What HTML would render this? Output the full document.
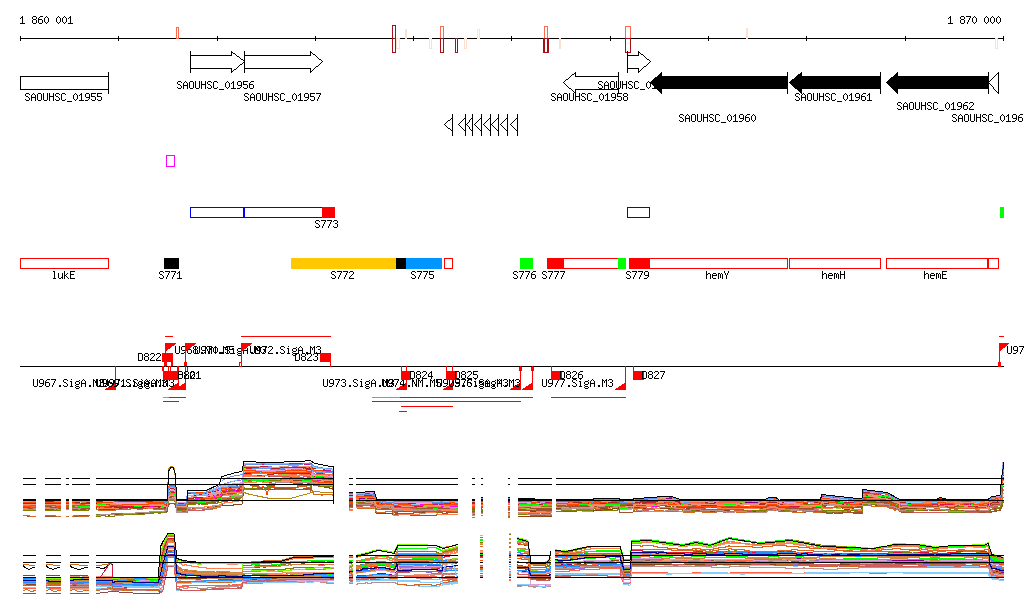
<!DOCTYPE html>
<html><head><meta charset="utf-8"><title>Genome browser</title>
<style>
html,body{margin:0;padding:0;background:#fff;}
svg{display:block;}
text{font-family:"Liberation Mono";font-size:12px;}
</style></head><body>
<svg width="1024" height="611" viewBox="0 0 1024 611" shape-rendering="crispEdges">
<rect width="1024" height="611" fill="#fff"/>
<g>
<defs><path id="g53" d="M1 0h3v1h-3zM0 1h1v1h-1zM4 1h1v1h-1zM0 2h1v1h-1zM1 3h2v1h-2zM3 4h1v1h-1zM4 5h1v1h-1zM0 6h1v1h-1zM4 6h1v1h-1zM1 7h3v1h-3z"/><path id="g41" d="M2 0h1v1h-1zM1 1h1v1h-1zM3 1h1v1h-1zM0 2h1v1h-1zM4 2h1v1h-1zM0 3h1v1h-1zM4 3h1v1h-1zM0 4h5v1h-5zM0 5h1v1h-1zM4 5h1v1h-1zM0 6h1v1h-1zM4 6h1v1h-1zM0 7h1v1h-1zM4 7h1v1h-1z"/><path id="g4f" d="M1 0h3v1h-3zM0 1h1v1h-1zM4 1h1v1h-1zM0 2h1v1h-1zM4 2h1v1h-1zM0 3h1v1h-1zM4 3h1v1h-1zM0 4h1v1h-1zM4 4h1v1h-1zM0 5h1v1h-1zM4 5h1v1h-1zM0 6h1v1h-1zM4 6h1v1h-1zM1 7h3v1h-3z"/><path id="g55" d="M0 0h1v1h-1zM4 0h1v1h-1zM0 1h1v1h-1zM4 1h1v1h-1zM0 2h1v1h-1zM4 2h1v1h-1zM0 3h1v1h-1zM4 3h1v1h-1zM0 4h1v1h-1zM4 4h1v1h-1zM0 5h1v1h-1zM4 5h1v1h-1zM0 6h1v1h-1zM4 6h1v1h-1zM1 7h3v1h-3z"/><path id="g48" d="M0 0h1v1h-1zM4 0h1v1h-1zM0 1h1v1h-1zM4 1h1v1h-1zM0 2h1v1h-1zM4 2h1v1h-1zM0 3h5v1h-5zM0 4h1v1h-1zM4 4h1v1h-1zM0 5h1v1h-1zM4 5h1v1h-1zM0 6h1v1h-1zM4 6h1v1h-1zM0 7h1v1h-1zM4 7h1v1h-1z"/><path id="g43" d="M1 0h3v1h-3zM0 1h1v1h-1zM4 1h1v1h-1zM0 2h1v1h-1zM0 3h1v1h-1zM0 4h1v1h-1zM0 5h1v1h-1zM0 6h1v1h-1zM4 6h1v1h-1zM1 7h3v1h-3z"/><path id="g45" d="M0 0h5v1h-5zM0 1h1v1h-1zM0 2h1v1h-1zM0 3h4v1h-4zM0 4h1v1h-1zM0 5h1v1h-1zM0 6h1v1h-1zM0 7h5v1h-5z"/><path id="g59" d="M0 0h1v1h-1zM4 0h1v1h-1zM0 1h1v1h-1zM4 1h1v1h-1zM1 2h1v1h-1zM3 2h1v1h-1zM1 3h1v1h-1zM3 3h1v1h-1zM2 4h1v1h-1zM2 5h1v1h-1zM2 6h1v1h-1zM2 7h1v1h-1z"/><path id="g44" d="M0 0h4v1h-4zM0 1h1v1h-1zM4 1h1v1h-1zM0 2h1v1h-1zM4 2h1v1h-1zM0 3h1v1h-1zM4 3h1v1h-1zM0 4h1v1h-1zM4 4h1v1h-1zM0 5h1v1h-1zM4 5h1v1h-1zM0 6h1v1h-1zM4 6h1v1h-1zM0 7h4v1h-4z"/><path id="g4d" d="M0 0h1v1h-1zM4 0h1v1h-1zM0 1h2v1h-2zM3 1h2v1h-2zM0 2h1v1h-1zM2 2h1v1h-1zM4 2h1v1h-1zM0 3h1v1h-1zM2 3h1v1h-1zM4 3h1v1h-1zM0 4h1v1h-1zM4 4h1v1h-1zM0 5h1v1h-1zM4 5h1v1h-1zM0 6h1v1h-1zM4 6h1v1h-1zM0 7h1v1h-1zM4 7h1v1h-1z"/><path id="g4e" d="M0 0h1v1h-1zM4 0h1v1h-1zM0 1h2v1h-2zM4 1h1v1h-1zM0 2h2v1h-2zM4 2h1v1h-1zM0 3h1v1h-1zM2 3h1v1h-1zM4 3h1v1h-1zM0 4h1v1h-1zM2 4h1v1h-1zM4 4h1v1h-1zM0 5h1v1h-1zM3 5h2v1h-2zM0 6h1v1h-1zM3 6h2v1h-2zM0 7h1v1h-1zM4 7h1v1h-1z"/><path id="g5f" d="M0 8h5v1h-5z"/><path id="g2e" d="M2 6h2v1h-2zM2 7h2v1h-2z"/><path id="g30" d="M2 0h1v1h-1zM1 1h1v1h-1zM3 1h1v1h-1zM0 2h1v1h-1zM4 2h1v1h-1zM0 3h1v1h-1zM4 3h1v1h-1zM0 4h1v1h-1zM4 4h1v1h-1zM0 5h1v1h-1zM4 5h1v1h-1zM1 6h1v1h-1zM3 6h1v1h-1zM2 7h1v1h-1z"/><path id="g31" d="M2 0h1v1h-1zM1 1h2v1h-2zM0 2h1v1h-1zM2 2h1v1h-1zM2 3h1v1h-1zM2 4h1v1h-1zM2 5h1v1h-1zM2 6h1v1h-1zM0 7h5v1h-5z"/><path id="g32" d="M1 0h3v1h-3zM0 1h1v1h-1zM4 1h1v1h-1zM4 2h1v1h-1zM3 3h1v1h-1zM2 4h1v1h-1zM1 5h1v1h-1zM0 6h1v1h-1zM0 7h5v1h-5z"/><path id="g33" d="M1 0h3v1h-3zM0 1h1v1h-1zM4 1h1v1h-1zM4 2h1v1h-1zM2 3h2v1h-2zM4 4h1v1h-1zM4 5h1v1h-1zM0 6h1v1h-1zM4 6h1v1h-1zM1 7h3v1h-3z"/><path id="g34" d="M3 0h1v1h-1zM2 1h2v1h-2zM1 2h1v1h-1zM3 2h1v1h-1zM0 3h1v1h-1zM3 3h1v1h-1zM0 4h1v1h-1zM3 4h1v1h-1zM0 5h5v1h-5zM3 6h1v1h-1zM3 7h1v1h-1z"/><path id="g35" d="M0 0h5v1h-5zM0 1h1v1h-1zM0 2h1v1h-1zM0 3h4v1h-4zM4 4h1v1h-1zM4 5h1v1h-1zM0 6h1v1h-1zM4 6h1v1h-1zM1 7h3v1h-3z"/><path id="g36" d="M2 0h3v1h-3zM1 1h1v1h-1zM0 2h1v1h-1zM0 3h4v1h-4zM0 4h1v1h-1zM4 4h1v1h-1zM0 5h1v1h-1zM4 5h1v1h-1zM0 6h1v1h-1zM4 6h1v1h-1zM1 7h3v1h-3z"/><path id="g37" d="M0 0h5v1h-5zM4 1h1v1h-1zM3 2h1v1h-1zM3 3h1v1h-1zM2 4h1v1h-1zM2 5h1v1h-1zM1 6h1v1h-1zM1 7h1v1h-1z"/><path id="g38" d="M1 0h3v1h-3zM0 1h1v1h-1zM4 1h1v1h-1zM0 2h1v1h-1zM4 2h1v1h-1zM1 3h3v1h-3zM0 4h1v1h-1zM4 4h1v1h-1zM0 5h1v1h-1zM4 5h1v1h-1zM0 6h1v1h-1zM4 6h1v1h-1zM1 7h3v1h-3z"/><path id="g39" d="M1 0h3v1h-3zM0 1h1v1h-1zM4 1h1v1h-1zM0 2h1v1h-1zM4 2h1v1h-1zM0 3h1v1h-1zM4 3h1v1h-1zM1 4h4v1h-4zM4 5h1v1h-1zM3 6h1v1h-1zM0 7h3v1h-3z"/><path id="g6c" d="M1 0h2v1h-2zM2 1h1v1h-1zM2 2h1v1h-1zM2 3h1v1h-1zM2 4h1v1h-1zM2 5h1v1h-1zM2 6h1v1h-1zM1 7h3v1h-3z"/><path id="g75" d="M0 2h1v1h-1zM4 2h1v1h-1zM0 3h1v1h-1zM4 3h1v1h-1zM0 4h1v1h-1zM4 4h1v1h-1zM0 5h1v1h-1zM4 5h1v1h-1zM0 6h1v1h-1zM3 6h2v1h-2zM1 7h2v1h-2zM4 7h1v1h-1z"/><path id="g6b" d="M0 0h1v1h-1zM0 1h1v1h-1zM0 2h1v1h-1zM3 2h1v1h-1zM0 3h1v1h-1zM2 3h1v1h-1zM0 4h2v1h-2zM0 5h1v1h-1zM2 5h1v1h-1zM0 6h1v1h-1zM3 6h1v1h-1zM0 7h1v1h-1zM4 7h1v1h-1z"/><path id="g68" d="M0 0h1v1h-1zM0 1h1v1h-1zM0 2h1v1h-1zM2 2h2v1h-2zM0 3h2v1h-2zM4 3h1v1h-1zM0 4h1v1h-1zM4 4h1v1h-1zM0 5h1v1h-1zM4 5h1v1h-1zM0 6h1v1h-1zM4 6h1v1h-1zM0 7h1v1h-1zM4 7h1v1h-1z"/><path id="g65" d="M1 2h3v1h-3zM0 3h1v1h-1zM4 3h1v1h-1zM0 4h5v1h-5zM0 5h1v1h-1zM0 6h1v1h-1zM1 7h3v1h-3z"/><path id="g6d" d="M0 2h2v1h-2zM3 2h1v1h-1zM0 3h1v1h-1zM2 3h1v1h-1zM4 3h1v1h-1zM0 4h1v1h-1zM2 4h1v1h-1zM4 4h1v1h-1zM0 5h1v1h-1zM2 5h1v1h-1zM4 5h1v1h-1zM0 6h1v1h-1zM2 6h1v1h-1zM4 6h1v1h-1zM0 7h1v1h-1zM4 7h1v1h-1z"/><path id="g69" d="M2 0h1v1h-1zM1 2h2v1h-2zM2 3h1v1h-1zM2 4h1v1h-1zM2 5h1v1h-1zM2 6h1v1h-1zM1 7h3v1h-3z"/><path id="g67" d="M4 1h1v1h-1zM1 2h3v1h-3zM0 3h1v1h-1zM4 3h1v1h-1zM0 4h1v1h-1zM4 4h1v1h-1zM1 5h3v1h-3zM0 6h1v1h-1zM1 7h3v1h-3zM0 8h1v1h-1zM4 8h1v1h-1zM1 9h3v1h-3z"/></defs>
<rect x="20" y="38" width="984" height="1" fill="#000"/>
<rect x="20" y="36" width="1" height="5" fill="#000"/>
<rect x="118" y="36" width="1" height="5" fill="#000"/>
<rect x="217" y="36" width="1" height="5" fill="#000"/>
<rect x="315" y="36" width="1" height="5" fill="#000"/>
<rect x="413" y="36" width="1" height="5" fill="#000"/>
<rect x="511" y="36" width="1" height="5" fill="#000"/>
<rect x="610" y="36" width="1" height="5" fill="#000"/>
<rect x="708" y="36" width="1" height="5" fill="#000"/>
<rect x="806" y="36" width="1" height="5" fill="#000"/>
<rect x="905" y="36" width="1" height="5" fill="#000"/>
<rect x="1003" y="36" width="1" height="5" fill="#000"/>
<use href="#g31" x="20" y="16"/><use href="#g38" x="32" y="16"/><use href="#g36" x="38" y="16"/><use href="#g30" x="44" y="16"/><use href="#g30" x="56" y="16"/><use href="#g30" x="62" y="16"/><use href="#g31" x="68" y="16"/>
<use href="#g31" x="948" y="16"/><use href="#g38" x="960" y="16"/><use href="#g37" x="966" y="16"/><use href="#g30" x="972" y="16"/><use href="#g30" x="984" y="16"/><use href="#g30" x="990" y="16"/><use href="#g30" x="996" y="16"/>
<rect x="176.5" y="27.5" width="2" height="11" fill="none" stroke="#fb6a4a" stroke-width="1"/>
<rect x="396.5" y="38.5" width="3" height="10" fill="none" stroke="#fee0d2" stroke-width="1"/>
<rect x="392.5" y="25.5" width="3" height="13" fill="none" stroke="#a50f15" stroke-width="1"/>
<rect x="392.5" y="38.5" width="3" height="14" fill="none" stroke="#a50f15" stroke-width="1"/>
<rect x="405" y="29" width="2" height="10" fill="#fee0d2"/>
<rect x="429.5" y="38.5" width="2" height="10" fill="none" stroke="#fee0d2" stroke-width="1"/>
<rect x="440.5" y="38.5" width="3" height="12" fill="none" stroke="#fee0d2" stroke-width="1"/>
<rect x="440.5" y="26.5" width="3" height="12" fill="none" stroke="#fb6a4a" stroke-width="1"/>
<rect x="440.5" y="38.5" width="3" height="14" fill="none" stroke="#a50f15" stroke-width="1"/>
<rect x="455.5" y="38.5" width="2" height="14" fill="none" stroke="#a50f15" stroke-width="1"/>
<rect x="464.5" y="38.5" width="2" height="10" fill="none" stroke="#fee0d2" stroke-width="1"/>
<rect x="477.5" y="29.5" width="2" height="9" fill="none" stroke="#fee0d2" stroke-width="1"/>
<rect x="544.5" y="26.5" width="3" height="12" fill="none" stroke="#fb6a4a" stroke-width="1"/>
<rect x="543.5" y="38.5" width="5" height="14" fill="none" stroke="#a50f15" stroke-width="1"/>
<rect x="544.5" y="38.5" width="3" height="14" fill="none" stroke="#a50f15" stroke-width="1"/>
<rect x="559" y="38" width="2" height="11" fill="#fee0d2"/>
<rect x="625.5" y="26.5" width="5" height="12" fill="none" stroke="#fb6a4a" stroke-width="1"/>
<rect x="625.5" y="38.5" width="5" height="14" fill="none" stroke="#a50f15" stroke-width="1"/>
<rect x="746" y="28" width="2" height="11" fill="#fee0d2"/>
<rect x="995.5" y="38.5" width="2" height="10" fill="none" stroke="#fee0d2" stroke-width="1"/>
<rect x="20.5" y="76.5" width="88" height="13" fill="#fff" stroke="#000" stroke-width="1"/>
<rect x="108" y="72" width="1" height="22" fill="#000"/>
<use href="#g53" x="25" y="93"/><use href="#g41" x="31" y="93"/><use href="#g4f" x="37" y="93"/><use href="#g55" x="43" y="93"/><use href="#g48" x="49" y="93"/><use href="#g53" x="55" y="93"/><use href="#g43" x="61" y="93"/><use href="#g5f" x="67" y="93"/><use href="#g30" x="73" y="93"/><use href="#g31" x="79" y="93"/><use href="#g39" x="85" y="93"/><use href="#g35" x="91" y="93"/><use href="#g35" x="97" y="93"/>
<rect x="190" y="55" width="42" height="1" fill="#000"/>
<rect x="190" y="68" width="42" height="1" fill="#000"/>
<rect x="231" y="51" width="1" height="5" fill="#000"/>
<rect x="231" y="68" width="1" height="5" fill="#000"/>
<rect x="231" y="51" width="1" height="1" fill="#000"/>
<rect x="232" y="52" width="1" height="1" fill="#000"/>
<rect x="233" y="53" width="2" height="1" fill="#000"/>
<rect x="235" y="54" width="1" height="1" fill="#000"/>
<rect x="236" y="55" width="1" height="1" fill="#000"/>
<rect x="237" y="56" width="2" height="1" fill="#000"/>
<rect x="239" y="57" width="1" height="1" fill="#000"/>
<rect x="240" y="58" width="1" height="1" fill="#000"/>
<rect x="241" y="59" width="2" height="1" fill="#000"/>
<rect x="243" y="60" width="1" height="1" fill="#000"/>
<rect x="244" y="61" width="1" height="1" fill="#000"/>
<rect x="231" y="72" width="1" height="1" fill="#000"/>
<rect x="232" y="71" width="1" height="1" fill="#000"/>
<rect x="233" y="70" width="1" height="1" fill="#000"/>
<rect x="234" y="69" width="2" height="1" fill="#000"/>
<rect x="236" y="68" width="1" height="1" fill="#000"/>
<rect x="237" y="67" width="1" height="1" fill="#000"/>
<rect x="238" y="66" width="1" height="1" fill="#000"/>
<rect x="239" y="65" width="1" height="1" fill="#000"/>
<rect x="240" y="64" width="2" height="1" fill="#000"/>
<rect x="242" y="63" width="1" height="1" fill="#000"/>
<rect x="243" y="62" width="1" height="1" fill="#000"/>
<rect x="244" y="61" width="1" height="1" fill="#000"/>
<rect x="190" y="51" width="1" height="22" fill="#000"/>
<use href="#g53" x="177" y="81"/><use href="#g41" x="183" y="81"/><use href="#g4f" x="189" y="81"/><use href="#g55" x="195" y="81"/><use href="#g48" x="201" y="81"/><use href="#g53" x="207" y="81"/><use href="#g43" x="213" y="81"/><use href="#g5f" x="219" y="81"/><use href="#g30" x="225" y="81"/><use href="#g31" x="231" y="81"/><use href="#g39" x="237" y="81"/><use href="#g35" x="243" y="81"/><use href="#g36" x="249" y="81"/>
<rect x="244" y="55" width="67" height="1" fill="#000"/>
<rect x="244" y="68" width="67" height="1" fill="#000"/>
<rect x="310" y="51" width="1" height="5" fill="#000"/>
<rect x="310" y="68" width="1" height="5" fill="#000"/>
<rect x="310" y="51" width="1" height="1" fill="#000"/>
<rect x="311" y="52" width="1" height="1" fill="#000"/>
<rect x="312" y="53" width="1" height="1" fill="#000"/>
<rect x="313" y="54" width="2" height="1" fill="#000"/>
<rect x="315" y="55" width="1" height="1" fill="#000"/>
<rect x="316" y="56" width="1" height="1" fill="#000"/>
<rect x="317" y="57" width="1" height="1" fill="#000"/>
<rect x="318" y="58" width="1" height="1" fill="#000"/>
<rect x="319" y="59" width="2" height="1" fill="#000"/>
<rect x="321" y="60" width="1" height="1" fill="#000"/>
<rect x="322" y="61" width="1" height="1" fill="#000"/>
<rect x="310" y="72" width="1" height="1" fill="#000"/>
<rect x="311" y="71" width="1" height="1" fill="#000"/>
<rect x="312" y="70" width="1" height="1" fill="#000"/>
<rect x="313" y="69" width="1" height="1" fill="#000"/>
<rect x="314" y="68" width="1" height="1" fill="#000"/>
<rect x="315" y="67" width="1" height="1" fill="#000"/>
<rect x="316" y="66" width="2" height="1" fill="#000"/>
<rect x="318" y="65" width="1" height="1" fill="#000"/>
<rect x="319" y="64" width="1" height="1" fill="#000"/>
<rect x="320" y="63" width="1" height="1" fill="#000"/>
<rect x="321" y="62" width="1" height="1" fill="#000"/>
<rect x="322" y="61" width="1" height="1" fill="#000"/>
<rect x="244" y="51" width="1" height="22" fill="#000"/>
<use href="#g53" x="244" y="93"/><use href="#g41" x="250" y="93"/><use href="#g4f" x="256" y="93"/><use href="#g55" x="262" y="93"/><use href="#g48" x="268" y="93"/><use href="#g53" x="274" y="93"/><use href="#g43" x="280" y="93"/><use href="#g5f" x="286" y="93"/><use href="#g30" x="292" y="93"/><use href="#g31" x="298" y="93"/><use href="#g39" x="304" y="93"/><use href="#g35" x="310" y="93"/><use href="#g37" x="316" y="93"/>
<rect x="575" y="76" width="44" height="1" fill="#000"/>
<rect x="575" y="89" width="44" height="1" fill="#000"/>
<rect x="575" y="72" width="1" height="5" fill="#000"/>
<rect x="575" y="89" width="1" height="5" fill="#000"/>
<rect x="563" y="82" width="1" height="1" fill="#000"/>
<rect x="564" y="81" width="1" height="1" fill="#000"/>
<rect x="565" y="80" width="1" height="1" fill="#000"/>
<rect x="566" y="79" width="2" height="1" fill="#000"/>
<rect x="568" y="78" width="1" height="1" fill="#000"/>
<rect x="569" y="77" width="1" height="1" fill="#000"/>
<rect x="570" y="76" width="1" height="1" fill="#000"/>
<rect x="571" y="75" width="1" height="1" fill="#000"/>
<rect x="572" y="74" width="2" height="1" fill="#000"/>
<rect x="574" y="73" width="1" height="1" fill="#000"/>
<rect x="575" y="72" width="1" height="1" fill="#000"/>
<rect x="563" y="82" width="1" height="1" fill="#000"/>
<rect x="564" y="83" width="1" height="1" fill="#000"/>
<rect x="565" y="84" width="1" height="1" fill="#000"/>
<rect x="566" y="85" width="1" height="1" fill="#000"/>
<rect x="567" y="86" width="1" height="1" fill="#000"/>
<rect x="568" y="87" width="1" height="1" fill="#000"/>
<rect x="569" y="88" width="2" height="1" fill="#000"/>
<rect x="571" y="89" width="1" height="1" fill="#000"/>
<rect x="572" y="90" width="1" height="1" fill="#000"/>
<rect x="573" y="91" width="1" height="1" fill="#000"/>
<rect x="574" y="92" width="1" height="1" fill="#000"/>
<rect x="575" y="93" width="1" height="1" fill="#000"/>
<rect x="618" y="72" width="1" height="22" fill="#000"/>
<rect x="627" y="55" width="12" height="1" fill="#000"/>
<rect x="627" y="68" width="12" height="1" fill="#000"/>
<rect x="638" y="51" width="1" height="5" fill="#000"/>
<rect x="638" y="68" width="1" height="5" fill="#000"/>
<rect x="638" y="51" width="1" height="1" fill="#000"/>
<rect x="639" y="52" width="1" height="1" fill="#000"/>
<rect x="640" y="53" width="1" height="1" fill="#000"/>
<rect x="641" y="54" width="2" height="1" fill="#000"/>
<rect x="643" y="55" width="1" height="1" fill="#000"/>
<rect x="644" y="56" width="1" height="1" fill="#000"/>
<rect x="645" y="57" width="1" height="1" fill="#000"/>
<rect x="646" y="58" width="1" height="1" fill="#000"/>
<rect x="647" y="59" width="2" height="1" fill="#000"/>
<rect x="649" y="60" width="1" height="1" fill="#000"/>
<rect x="650" y="61" width="1" height="1" fill="#000"/>
<rect x="638" y="72" width="1" height="1" fill="#000"/>
<rect x="639" y="71" width="1" height="1" fill="#000"/>
<rect x="640" y="70" width="1" height="1" fill="#000"/>
<rect x="641" y="69" width="1" height="1" fill="#000"/>
<rect x="642" y="68" width="1" height="1" fill="#000"/>
<rect x="643" y="67" width="1" height="1" fill="#000"/>
<rect x="644" y="66" width="2" height="1" fill="#000"/>
<rect x="646" y="65" width="1" height="1" fill="#000"/>
<rect x="647" y="64" width="1" height="1" fill="#000"/>
<rect x="648" y="63" width="1" height="1" fill="#000"/>
<rect x="649" y="62" width="1" height="1" fill="#000"/>
<rect x="650" y="61" width="1" height="1" fill="#000"/>
<rect x="627" y="51" width="1" height="22" fill="#000"/>
<use href="#g53" x="598" y="81"/><use href="#g41" x="604" y="81"/><use href="#g4f" x="610" y="81"/><use href="#g55" x="616" y="81"/><use href="#g48" x="622" y="81"/><use href="#g53" x="628" y="81"/><use href="#g43" x="634" y="81"/><use href="#g5f" x="640" y="81"/><use href="#g30" x="646" y="81"/><use href="#g31" x="652" y="81"/><use href="#g39" x="658" y="81"/><use href="#g35" x="664" y="81"/><use href="#g39" x="670" y="81"/>
<use href="#g53" x="551" y="93"/><use href="#g41" x="557" y="93"/><use href="#g4f" x="563" y="93"/><use href="#g55" x="569" y="93"/><use href="#g48" x="575" y="93"/><use href="#g53" x="581" y="93"/><use href="#g43" x="587" y="93"/><use href="#g5f" x="593" y="93"/><use href="#g30" x="599" y="93"/><use href="#g31" x="605" y="93"/><use href="#g39" x="611" y="93"/><use href="#g35" x="617" y="93"/><use href="#g38" x="623" y="93"/>
<rect x="661" y="76" width="127" height="13" fill="#000"/>
<rect x="650" y="82" width="12" height="1" fill="#000"/>
<rect x="651" y="81" width="11" height="1" fill="#000"/>
<rect x="652" y="80" width="10" height="1" fill="#000"/>
<rect x="653" y="79" width="9" height="1" fill="#000"/>
<rect x="654" y="78" width="8" height="1" fill="#000"/>
<rect x="655" y="77" width="7" height="1" fill="#000"/>
<rect x="657" y="76" width="5" height="1" fill="#000"/>
<rect x="658" y="75" width="4" height="1" fill="#000"/>
<rect x="659" y="74" width="3" height="1" fill="#000"/>
<rect x="660" y="73" width="2" height="1" fill="#000"/>
<rect x="661" y="72" width="1" height="1" fill="#000"/>
<rect x="651" y="83" width="11" height="1" fill="#000"/>
<rect x="652" y="84" width="10" height="1" fill="#000"/>
<rect x="653" y="85" width="9" height="1" fill="#000"/>
<rect x="654" y="86" width="8" height="1" fill="#000"/>
<rect x="655" y="87" width="7" height="1" fill="#000"/>
<rect x="656" y="88" width="6" height="1" fill="#000"/>
<rect x="657" y="89" width="5" height="1" fill="#000"/>
<rect x="658" y="90" width="4" height="1" fill="#000"/>
<rect x="659" y="91" width="3" height="1" fill="#000"/>
<rect x="660" y="92" width="2" height="1" fill="#000"/>
<rect x="661" y="93" width="1" height="1" fill="#000"/>
<rect x="787" y="72" width="1" height="22" fill="#000"/>
<use href="#g53" x="679" y="114"/><use href="#g41" x="685" y="114"/><use href="#g4f" x="691" y="114"/><use href="#g55" x="697" y="114"/><use href="#g48" x="703" y="114"/><use href="#g53" x="709" y="114"/><use href="#g43" x="715" y="114"/><use href="#g5f" x="721" y="114"/><use href="#g30" x="727" y="114"/><use href="#g31" x="733" y="114"/><use href="#g39" x="739" y="114"/><use href="#g36" x="745" y="114"/><use href="#g30" x="751" y="114"/>
<rect x="801" y="76" width="80" height="13" fill="#000"/>
<rect x="789" y="82" width="13" height="1" fill="#000"/>
<rect x="790" y="81" width="12" height="1" fill="#000"/>
<rect x="791" y="80" width="11" height="1" fill="#000"/>
<rect x="792" y="79" width="10" height="1" fill="#000"/>
<rect x="794" y="78" width="8" height="1" fill="#000"/>
<rect x="795" y="77" width="7" height="1" fill="#000"/>
<rect x="796" y="76" width="6" height="1" fill="#000"/>
<rect x="797" y="75" width="5" height="1" fill="#000"/>
<rect x="798" y="74" width="4" height="1" fill="#000"/>
<rect x="800" y="73" width="2" height="1" fill="#000"/>
<rect x="801" y="72" width="1" height="1" fill="#000"/>
<rect x="790" y="83" width="12" height="1" fill="#000"/>
<rect x="791" y="84" width="11" height="1" fill="#000"/>
<rect x="792" y="85" width="10" height="1" fill="#000"/>
<rect x="793" y="86" width="9" height="1" fill="#000"/>
<rect x="794" y="87" width="8" height="1" fill="#000"/>
<rect x="795" y="88" width="7" height="1" fill="#000"/>
<rect x="797" y="89" width="5" height="1" fill="#000"/>
<rect x="798" y="90" width="4" height="1" fill="#000"/>
<rect x="799" y="91" width="3" height="1" fill="#000"/>
<rect x="800" y="92" width="2" height="1" fill="#000"/>
<rect x="801" y="93" width="1" height="1" fill="#000"/>
<rect x="880" y="72" width="1" height="22" fill="#000"/>
<use href="#g53" x="795" y="93"/><use href="#g41" x="801" y="93"/><use href="#g4f" x="807" y="93"/><use href="#g55" x="813" y="93"/><use href="#g48" x="819" y="93"/><use href="#g53" x="825" y="93"/><use href="#g43" x="831" y="93"/><use href="#g5f" x="837" y="93"/><use href="#g30" x="843" y="93"/><use href="#g31" x="849" y="93"/><use href="#g39" x="855" y="93"/><use href="#g36" x="861" y="93"/><use href="#g31" x="867" y="93"/>
<rect x="897" y="76" width="92" height="13" fill="#000"/>
<rect x="886" y="82" width="12" height="1" fill="#000"/>
<rect x="887" y="81" width="11" height="1" fill="#000"/>
<rect x="888" y="80" width="10" height="1" fill="#000"/>
<rect x="889" y="79" width="9" height="1" fill="#000"/>
<rect x="890" y="78" width="8" height="1" fill="#000"/>
<rect x="891" y="77" width="7" height="1" fill="#000"/>
<rect x="893" y="76" width="5" height="1" fill="#000"/>
<rect x="894" y="75" width="4" height="1" fill="#000"/>
<rect x="895" y="74" width="3" height="1" fill="#000"/>
<rect x="896" y="73" width="2" height="1" fill="#000"/>
<rect x="897" y="72" width="1" height="1" fill="#000"/>
<rect x="887" y="83" width="11" height="1" fill="#000"/>
<rect x="888" y="84" width="10" height="1" fill="#000"/>
<rect x="889" y="85" width="9" height="1" fill="#000"/>
<rect x="890" y="86" width="8" height="1" fill="#000"/>
<rect x="891" y="87" width="7" height="1" fill="#000"/>
<rect x="892" y="88" width="6" height="1" fill="#000"/>
<rect x="893" y="89" width="5" height="1" fill="#000"/>
<rect x="894" y="90" width="4" height="1" fill="#000"/>
<rect x="895" y="91" width="3" height="1" fill="#000"/>
<rect x="896" y="92" width="2" height="1" fill="#000"/>
<rect x="897" y="93" width="1" height="1" fill="#000"/>
<rect x="988" y="72" width="1" height="22" fill="#000"/>
<use href="#g53" x="897" y="102"/><use href="#g41" x="903" y="102"/><use href="#g4f" x="909" y="102"/><use href="#g55" x="915" y="102"/><use href="#g48" x="921" y="102"/><use href="#g53" x="927" y="102"/><use href="#g43" x="933" y="102"/><use href="#g5f" x="939" y="102"/><use href="#g30" x="945" y="102"/><use href="#g31" x="951" y="102"/><use href="#g39" x="957" y="102"/><use href="#g36" x="963" y="102"/><use href="#g32" x="969" y="102"/>
<rect x="988" y="82" width="1" height="1" fill="#000"/>
<rect x="989" y="81" width="1" height="1" fill="#000"/>
<rect x="990" y="80" width="1" height="1" fill="#000"/>
<rect x="991" y="79" width="1" height="1" fill="#000"/>
<rect x="992" y="78" width="1" height="1" fill="#000"/>
<rect x="993" y="77" width="1" height="1" fill="#000"/>
<rect x="994" y="76" width="1" height="1" fill="#000"/>
<rect x="995" y="75" width="1" height="1" fill="#000"/>
<rect x="996" y="74" width="1" height="1" fill="#000"/>
<rect x="997" y="73" width="1" height="1" fill="#000"/>
<rect x="998" y="72" width="1" height="1" fill="#000"/>
<rect x="988" y="82" width="1" height="1" fill="#000"/>
<rect x="989" y="83" width="1" height="1" fill="#000"/>
<rect x="990" y="84" width="1" height="1" fill="#000"/>
<rect x="991" y="85" width="1" height="1" fill="#000"/>
<rect x="992" y="86" width="1" height="1" fill="#000"/>
<rect x="993" y="87" width="1" height="1" fill="#000"/>
<rect x="993" y="88" width="1" height="1" fill="#000"/>
<rect x="994" y="89" width="1" height="1" fill="#000"/>
<rect x="995" y="90" width="1" height="1" fill="#000"/>
<rect x="996" y="91" width="1" height="1" fill="#000"/>
<rect x="997" y="92" width="1" height="1" fill="#000"/>
<rect x="998" y="93" width="1" height="1" fill="#000"/>
<rect x="998" y="72" width="1" height="22" fill="#000"/>
<use href="#g53" x="952" y="114"/><use href="#g41" x="958" y="114"/><use href="#g4f" x="964" y="114"/><use href="#g55" x="970" y="114"/><use href="#g48" x="976" y="114"/><use href="#g53" x="982" y="114"/><use href="#g43" x="988" y="114"/><use href="#g5f" x="994" y="114"/><use href="#g30" x="1000" y="114"/><use href="#g31" x="1006" y="114"/><use href="#g39" x="1012" y="114"/><use href="#g36" x="1018" y="114"/><use href="#g33" x="1024" y="114"/>
<rect x="444" y="124" width="1" height="1" fill="#000"/>
<rect x="445" y="123" width="1" height="1" fill="#000"/>
<rect x="446" y="122" width="1" height="1" fill="#000"/>
<rect x="447" y="121" width="1" height="1" fill="#000"/>
<rect x="448" y="120" width="2" height="1" fill="#000"/>
<rect x="450" y="119" width="1" height="1" fill="#000"/>
<rect x="451" y="118" width="1" height="1" fill="#000"/>
<rect x="452" y="117" width="1" height="1" fill="#000"/>
<rect x="444" y="124" width="1" height="1" fill="#000"/>
<rect x="445" y="125" width="1" height="1" fill="#000"/>
<rect x="446" y="126" width="1" height="1" fill="#000"/>
<rect x="447" y="127" width="1" height="1" fill="#000"/>
<rect x="448" y="128" width="2" height="1" fill="#000"/>
<rect x="450" y="129" width="1" height="1" fill="#000"/>
<rect x="451" y="130" width="1" height="1" fill="#000"/>
<rect x="452" y="131" width="1" height="1" fill="#000"/>
<rect x="452" y="114" width="1" height="22" fill="#000"/>
<rect x="458" y="124" width="1" height="1" fill="#000"/>
<rect x="459" y="123" width="1" height="1" fill="#000"/>
<rect x="460" y="122" width="1" height="1" fill="#000"/>
<rect x="461" y="121" width="1" height="1" fill="#000"/>
<rect x="462" y="120" width="1" height="1" fill="#000"/>
<rect x="463" y="119" width="1" height="1" fill="#000"/>
<rect x="464" y="118" width="1" height="1" fill="#000"/>
<rect x="465" y="117" width="1" height="1" fill="#000"/>
<rect x="458" y="124" width="1" height="1" fill="#000"/>
<rect x="459" y="125" width="1" height="1" fill="#000"/>
<rect x="460" y="126" width="1" height="1" fill="#000"/>
<rect x="461" y="127" width="1" height="1" fill="#000"/>
<rect x="462" y="128" width="1" height="1" fill="#000"/>
<rect x="463" y="129" width="1" height="1" fill="#000"/>
<rect x="464" y="130" width="1" height="1" fill="#000"/>
<rect x="465" y="131" width="1" height="1" fill="#000"/>
<rect x="465" y="114" width="1" height="22" fill="#000"/>
<rect x="472" y="117" width="1" height="1" fill="#000"/>
<rect x="471" y="118" width="1" height="1" fill="#000"/>
<rect x="470" y="119" width="1" height="1" fill="#000"/>
<rect x="469" y="120" width="1" height="1" fill="#000"/>
<rect x="469" y="121" width="1" height="1" fill="#000"/>
<rect x="468" y="122" width="1" height="1" fill="#000"/>
<rect x="467" y="123" width="1" height="1" fill="#000"/>
<rect x="466" y="124" width="1" height="1" fill="#000"/>
<rect x="466" y="124" width="1" height="1" fill="#000"/>
<rect x="467" y="125" width="1" height="1" fill="#000"/>
<rect x="468" y="126" width="1" height="1" fill="#000"/>
<rect x="469" y="127" width="1" height="1" fill="#000"/>
<rect x="469" y="128" width="1" height="1" fill="#000"/>
<rect x="470" y="129" width="1" height="1" fill="#000"/>
<rect x="471" y="130" width="1" height="1" fill="#000"/>
<rect x="472" y="131" width="1" height="1" fill="#000"/>
<rect x="472" y="114" width="1" height="22" fill="#000"/>
<rect x="474" y="124" width="1" height="1" fill="#000"/>
<rect x="475" y="123" width="1" height="1" fill="#000"/>
<rect x="476" y="122" width="1" height="1" fill="#000"/>
<rect x="477" y="121" width="1" height="1" fill="#000"/>
<rect x="478" y="120" width="1" height="1" fill="#000"/>
<rect x="479" y="119" width="1" height="1" fill="#000"/>
<rect x="480" y="118" width="1" height="1" fill="#000"/>
<rect x="481" y="117" width="1" height="1" fill="#000"/>
<rect x="474" y="124" width="1" height="1" fill="#000"/>
<rect x="475" y="125" width="1" height="1" fill="#000"/>
<rect x="476" y="126" width="1" height="1" fill="#000"/>
<rect x="477" y="127" width="1" height="1" fill="#000"/>
<rect x="478" y="128" width="1" height="1" fill="#000"/>
<rect x="479" y="129" width="1" height="1" fill="#000"/>
<rect x="480" y="130" width="1" height="1" fill="#000"/>
<rect x="481" y="131" width="1" height="1" fill="#000"/>
<rect x="481" y="114" width="1" height="22" fill="#000"/>
<rect x="483" y="124" width="1" height="1" fill="#000"/>
<rect x="484" y="123" width="1" height="1" fill="#000"/>
<rect x="485" y="122" width="1" height="1" fill="#000"/>
<rect x="486" y="121" width="1" height="1" fill="#000"/>
<rect x="487" y="120" width="1" height="1" fill="#000"/>
<rect x="488" y="119" width="1" height="1" fill="#000"/>
<rect x="489" y="118" width="1" height="1" fill="#000"/>
<rect x="490" y="117" width="1" height="1" fill="#000"/>
<rect x="483" y="124" width="1" height="1" fill="#000"/>
<rect x="484" y="125" width="1" height="1" fill="#000"/>
<rect x="485" y="126" width="1" height="1" fill="#000"/>
<rect x="486" y="127" width="1" height="1" fill="#000"/>
<rect x="487" y="128" width="1" height="1" fill="#000"/>
<rect x="488" y="129" width="1" height="1" fill="#000"/>
<rect x="489" y="130" width="1" height="1" fill="#000"/>
<rect x="490" y="131" width="1" height="1" fill="#000"/>
<rect x="490" y="114" width="1" height="22" fill="#000"/>
<rect x="491" y="124" width="1" height="1" fill="#000"/>
<rect x="492" y="123" width="1" height="1" fill="#000"/>
<rect x="493" y="122" width="1" height="1" fill="#000"/>
<rect x="494" y="121" width="1" height="1" fill="#000"/>
<rect x="495" y="120" width="1" height="1" fill="#000"/>
<rect x="496" y="119" width="1" height="1" fill="#000"/>
<rect x="497" y="118" width="1" height="1" fill="#000"/>
<rect x="498" y="117" width="1" height="1" fill="#000"/>
<rect x="491" y="124" width="1" height="1" fill="#000"/>
<rect x="492" y="125" width="1" height="1" fill="#000"/>
<rect x="493" y="126" width="1" height="1" fill="#000"/>
<rect x="494" y="127" width="1" height="1" fill="#000"/>
<rect x="495" y="128" width="1" height="1" fill="#000"/>
<rect x="496" y="129" width="1" height="1" fill="#000"/>
<rect x="497" y="130" width="1" height="1" fill="#000"/>
<rect x="498" y="131" width="1" height="1" fill="#000"/>
<rect x="498" y="114" width="1" height="22" fill="#000"/>
<rect x="500" y="124" width="1" height="1" fill="#000"/>
<rect x="501" y="123" width="1" height="1" fill="#000"/>
<rect x="502" y="122" width="1" height="1" fill="#000"/>
<rect x="503" y="121" width="1" height="1" fill="#000"/>
<rect x="504" y="120" width="1" height="1" fill="#000"/>
<rect x="505" y="119" width="1" height="1" fill="#000"/>
<rect x="506" y="118" width="1" height="1" fill="#000"/>
<rect x="507" y="117" width="1" height="1" fill="#000"/>
<rect x="500" y="124" width="1" height="1" fill="#000"/>
<rect x="501" y="125" width="1" height="1" fill="#000"/>
<rect x="502" y="126" width="1" height="1" fill="#000"/>
<rect x="503" y="127" width="1" height="1" fill="#000"/>
<rect x="504" y="128" width="1" height="1" fill="#000"/>
<rect x="505" y="129" width="1" height="1" fill="#000"/>
<rect x="506" y="130" width="1" height="1" fill="#000"/>
<rect x="507" y="131" width="1" height="1" fill="#000"/>
<rect x="507" y="114" width="1" height="22" fill="#000"/>
<rect x="510" y="124" width="1" height="1" fill="#000"/>
<rect x="511" y="123" width="1" height="1" fill="#000"/>
<rect x="512" y="122" width="1" height="1" fill="#000"/>
<rect x="513" y="121" width="1" height="1" fill="#000"/>
<rect x="514" y="120" width="1" height="1" fill="#000"/>
<rect x="515" y="119" width="1" height="1" fill="#000"/>
<rect x="516" y="118" width="1" height="1" fill="#000"/>
<rect x="517" y="117" width="1" height="1" fill="#000"/>
<rect x="510" y="124" width="1" height="1" fill="#000"/>
<rect x="511" y="125" width="1" height="1" fill="#000"/>
<rect x="512" y="126" width="1" height="1" fill="#000"/>
<rect x="513" y="127" width="1" height="1" fill="#000"/>
<rect x="514" y="128" width="1" height="1" fill="#000"/>
<rect x="515" y="129" width="1" height="1" fill="#000"/>
<rect x="516" y="130" width="1" height="1" fill="#000"/>
<rect x="517" y="131" width="1" height="1" fill="#000"/>
<rect x="517" y="114" width="1" height="22" fill="#000"/>
<rect x="166.5" y="155.5" width="8" height="11" fill="none" stroke="#ff00ff" stroke-width="1"/>
<rect x="190.5" y="207.5" width="53" height="10" fill="none" stroke="#0000ff" stroke-width="1"/>
<rect x="244.5" y="207.5" width="78" height="10" fill="none" stroke="#0000ff" stroke-width="1"/>
<rect x="322" y="207" width="13" height="11" fill="#ff0000"/>
<use href="#g53" x="315" y="220"/><use href="#g37" x="321" y="220"/><use href="#g37" x="327" y="220"/><use href="#g33" x="333" y="220"/>
<rect x="627.5" y="207.5" width="22" height="10" fill="none" stroke="#0000ff" stroke-width="1"/>
<rect x="1000" y="207" width="4" height="11" fill="#00ff00"/>
<rect x="20.5" y="258.5" width="88" height="10" fill="none" stroke="#ff0000" stroke-width="1"/>
<use href="#g6c" x="52" y="271"/><use href="#g75" x="58" y="271"/><use href="#g6b" x="64" y="271"/><use href="#g45" x="70" y="271"/>
<rect x="164" y="258" width="15" height="11" fill="#000"/>
<use href="#g53" x="159" y="271"/><use href="#g37" x="165" y="271"/><use href="#g37" x="171" y="271"/><use href="#g31" x="177" y="271"/>
<rect x="291" y="258" width="106" height="11" fill="#ffc800"/>
<rect x="396" y="258" width="11" height="11" fill="#000"/>
<rect x="406" y="258" width="36" height="11" fill="#0096ff"/>
<rect x="444.5" y="258.5" width="8" height="10" fill="none" stroke="#ff0000" stroke-width="1"/>
<use href="#g53" x="331" y="271"/><use href="#g37" x="337" y="271"/><use href="#g37" x="343" y="271"/><use href="#g32" x="349" y="271"/>
<use href="#g53" x="411" y="271"/><use href="#g37" x="417" y="271"/><use href="#g37" x="423" y="271"/><use href="#g35" x="429" y="271"/>
<rect x="520" y="258" width="13" height="11" fill="#00ff00"/>
<use href="#g53" x="513" y="271"/><use href="#g37" x="519" y="271"/><use href="#g37" x="525" y="271"/><use href="#g36" x="531" y="271"/>
<rect x="547.5" y="258.5" width="71" height="10" fill="none" stroke="#ff0000" stroke-width="1"/>
<rect x="547" y="258" width="17" height="11" fill="#ff0000"/>
<use href="#g53" x="542" y="271"/><use href="#g37" x="548" y="271"/><use href="#g37" x="554" y="271"/><use href="#g37" x="560" y="271"/>
<rect x="618" y="258" width="8" height="11" fill="#00ff00"/>
<rect x="629.5" y="258.5" width="158" height="10" fill="none" stroke="#ff0000" stroke-width="1"/>
<rect x="629" y="258" width="21" height="11" fill="#ff0000"/>
<use href="#g53" x="626" y="271"/><use href="#g37" x="632" y="271"/><use href="#g37" x="638" y="271"/><use href="#g39" x="644" y="271"/>
<use href="#g68" x="706" y="271"/><use href="#g65" x="712" y="271"/><use href="#g6d" x="718" y="271"/><use href="#g59" x="724" y="271"/>
<rect x="789.5" y="258.5" width="91" height="10" fill="none" stroke="#ff0000" stroke-width="1"/>
<use href="#g68" x="822" y="271"/><use href="#g65" x="828" y="271"/><use href="#g6d" x="834" y="271"/><use href="#g48" x="840" y="271"/>
<rect x="886.5" y="258.5" width="101" height="10" fill="none" stroke="#ff0000" stroke-width="1"/>
<use href="#g68" x="924" y="271"/><use href="#g65" x="930" y="271"/><use href="#g6d" x="936" y="271"/><use href="#g45" x="942" y="271"/>
<rect x="988.5" y="258.5" width="10" height="10" fill="none" stroke="#ff0000" stroke-width="1"/>
<rect x="20" y="366" width="984" height="1" fill="#000"/>
<rect x="115" y="366" width="1" height="24" fill="#ff0000"/>
<rect x="105" y="389" width="11" height="1" fill="#ff0000"/>
<rect x="106" y="388" width="10" height="1" fill="#ff0000"/>
<rect x="108" y="387" width="8" height="1" fill="#ff0000"/>
<rect x="109" y="386" width="7" height="1" fill="#ff0000"/>
<rect x="111" y="385" width="5" height="1" fill="#ff0000"/>
<rect x="112" y="384" width="4" height="1" fill="#ff0000"/>
<rect x="114" y="383" width="2" height="1" fill="#ff0000"/>
<use href="#g55" x="33" y="379"/><use href="#g39" x="39" y="379"/><use href="#g36" x="45" y="379"/><use href="#g37" x="51" y="379"/><use href="#g2e" x="57" y="379"/><use href="#g53" x="63" y="379"/><use href="#g69" x="69" y="379"/><use href="#g67" x="75" y="379"/><use href="#g41" x="81" y="379"/><use href="#g2e" x="87" y="379"/><use href="#g4d" x="93" y="379"/><use href="#g33" x="99" y="379"/>
<rect x="165" y="343" width="1" height="24" fill="#ff0000"/>
<rect x="165" y="343" width="11" height="1" fill="#ff0000"/>
<rect x="165" y="344" width="10" height="1" fill="#ff0000"/>
<rect x="165" y="345" width="9" height="1" fill="#ff0000"/>
<rect x="165" y="346" width="7" height="1" fill="#ff0000"/>
<rect x="165" y="347" width="6" height="1" fill="#ff0000"/>
<rect x="165" y="348" width="5" height="1" fill="#ff0000"/>
<rect x="165" y="349" width="3" height="1" fill="#ff0000"/>
<rect x="165" y="350" width="2" height="1" fill="#ff0000"/>
<rect x="165" y="336" width="8" height="1" fill="#ff0000"/>
<use href="#g55" x="175" y="346"/><use href="#g39" x="181" y="346"/><use href="#g36" x="187" y="346"/><use href="#g38" x="193" y="346"/><use href="#g2e" x="199" y="346"/><use href="#g4e" x="205" y="346"/><use href="#g4d" x="211" y="346"/><use href="#g2e" x="217" y="346"/><use href="#g4d" x="223" y="346"/><use href="#g35" x="229" y="346"/>
<rect x="178" y="366" width="1" height="24" fill="#ff0000"/>
<rect x="168" y="389" width="11" height="1" fill="#ff0000"/>
<rect x="169" y="388" width="10" height="1" fill="#ff0000"/>
<rect x="171" y="387" width="8" height="1" fill="#ff0000"/>
<rect x="172" y="386" width="7" height="1" fill="#ff0000"/>
<rect x="174" y="385" width="5" height="1" fill="#ff0000"/>
<rect x="175" y="384" width="4" height="1" fill="#ff0000"/>
<rect x="177" y="383" width="2" height="1" fill="#ff0000"/>
<use href="#g55" x="96" y="379"/><use href="#g39" x="102" y="379"/><use href="#g36" x="108" y="379"/><use href="#g39" x="114" y="379"/><use href="#g2e" x="120" y="379"/><use href="#g53" x="126" y="379"/><use href="#g69" x="132" y="379"/><use href="#g67" x="138" y="379"/><use href="#g41" x="144" y="379"/><use href="#g2e" x="150" y="379"/><use href="#g4d" x="156" y="379"/><use href="#g33" x="162" y="379"/>
<rect x="185" y="343" width="1" height="24" fill="#ff0000"/>
<rect x="185" y="343" width="11" height="1" fill="#ff0000"/>
<rect x="185" y="344" width="10" height="1" fill="#ff0000"/>
<rect x="185" y="345" width="9" height="1" fill="#ff0000"/>
<rect x="185" y="346" width="7" height="1" fill="#ff0000"/>
<rect x="185" y="347" width="6" height="1" fill="#ff0000"/>
<rect x="185" y="348" width="5" height="1" fill="#ff0000"/>
<rect x="185" y="349" width="3" height="1" fill="#ff0000"/>
<rect x="185" y="350" width="2" height="1" fill="#ff0000"/>
<rect x="184" y="362" width="3" height="4" fill="#ff0000"/>
<use href="#g55" x="195" y="346"/><use href="#g39" x="201" y="346"/><use href="#g37" x="207" y="346"/><use href="#g30" x="213" y="346"/><use href="#g2e" x="219" y="346"/><use href="#g53" x="225" y="346"/><use href="#g69" x="231" y="346"/><use href="#g67" x="237" y="346"/><use href="#g41" x="243" y="346"/><use href="#g2e" x="249" y="346"/><use href="#g4d" x="255" y="346"/><use href="#g33" x="261" y="346"/>
<rect x="185" y="366" width="1" height="24" fill="#ff0000"/>
<rect x="187" y="367" width="1" height="4" fill="#ff0000"/>
<rect x="175" y="389" width="11" height="1" fill="#ff0000"/>
<rect x="176" y="388" width="10" height="1" fill="#ff0000"/>
<rect x="178" y="387" width="8" height="1" fill="#ff0000"/>
<rect x="179" y="386" width="7" height="1" fill="#ff0000"/>
<rect x="181" y="385" width="5" height="1" fill="#ff0000"/>
<rect x="182" y="384" width="4" height="1" fill="#ff0000"/>
<rect x="184" y="383" width="2" height="1" fill="#ff0000"/>
<use href="#g55" x="103" y="379"/><use href="#g39" x="109" y="379"/><use href="#g37" x="115" y="379"/><use href="#g31" x="121" y="379"/><use href="#g2e" x="127" y="379"/><use href="#g53" x="133" y="379"/><use href="#g69" x="139" y="379"/><use href="#g67" x="145" y="379"/><use href="#g41" x="151" y="379"/><use href="#g2e" x="157" y="379"/><use href="#g4d" x="163" y="379"/><use href="#g33" x="169" y="379"/>
<rect x="241" y="343" width="1" height="24" fill="#ff0000"/>
<rect x="241" y="343" width="11" height="1" fill="#ff0000"/>
<rect x="241" y="344" width="10" height="1" fill="#ff0000"/>
<rect x="241" y="345" width="9" height="1" fill="#ff0000"/>
<rect x="241" y="346" width="7" height="1" fill="#ff0000"/>
<rect x="241" y="347" width="6" height="1" fill="#ff0000"/>
<rect x="241" y="348" width="5" height="1" fill="#ff0000"/>
<rect x="241" y="349" width="3" height="1" fill="#ff0000"/>
<rect x="241" y="350" width="2" height="1" fill="#ff0000"/>
<rect x="239.5" y="362.5" width="2" height="4" fill="none" stroke="#ff0000" stroke-width="1"/>
<rect x="241" y="336" width="90" height="1" fill="#ff0000"/>
<use href="#g55" x="250" y="346"/><use href="#g39" x="256" y="346"/><use href="#g37" x="262" y="346"/><use href="#g32" x="268" y="346"/><use href="#g2e" x="274" y="346"/><use href="#g53" x="280" y="346"/><use href="#g69" x="286" y="346"/><use href="#g67" x="292" y="346"/><use href="#g41" x="298" y="346"/><use href="#g2e" x="304" y="346"/><use href="#g4d" x="310" y="346"/><use href="#g33" x="316" y="346"/>
<rect x="406" y="366" width="1" height="24" fill="#ff0000"/>
<rect x="396" y="389" width="11" height="1" fill="#ff0000"/>
<rect x="397" y="388" width="10" height="1" fill="#ff0000"/>
<rect x="399" y="387" width="8" height="1" fill="#ff0000"/>
<rect x="400" y="386" width="7" height="1" fill="#ff0000"/>
<rect x="402" y="385" width="5" height="1" fill="#ff0000"/>
<rect x="403" y="384" width="4" height="1" fill="#ff0000"/>
<rect x="405" y="383" width="2" height="1" fill="#ff0000"/>
<use href="#g55" x="323" y="379"/><use href="#g39" x="329" y="379"/><use href="#g37" x="335" y="379"/><use href="#g33" x="341" y="379"/><use href="#g2e" x="347" y="379"/><use href="#g53" x="353" y="379"/><use href="#g69" x="359" y="379"/><use href="#g67" x="365" y="379"/><use href="#g41" x="371" y="379"/><use href="#g2e" x="377" y="379"/><use href="#g4d" x="383" y="379"/><use href="#g33" x="389" y="379"/>
<rect x="452" y="366" width="1" height="24" fill="#ff0000"/>
<rect x="443" y="389" width="10" height="1" fill="#ff0000"/>
<rect x="444" y="388" width="9" height="1" fill="#ff0000"/>
<rect x="446" y="387" width="7" height="1" fill="#ff0000"/>
<rect x="447" y="386" width="6" height="1" fill="#ff0000"/>
<rect x="449" y="385" width="4" height="1" fill="#ff0000"/>
<rect x="450" y="384" width="3" height="1" fill="#ff0000"/>
<rect x="452" y="383" width="1" height="1" fill="#ff0000"/>
<use href="#g55" x="382" y="379"/><use href="#g39" x="388" y="379"/><use href="#g37" x="394" y="379"/><use href="#g34" x="400" y="379"/><use href="#g2e" x="406" y="379"/><use href="#g4e" x="412" y="379"/><use href="#g4d" x="418" y="379"/><use href="#g2e" x="424" y="379"/><use href="#g4d" x="430" y="379"/><use href="#g35" x="436" y="379"/>
<rect x="520" y="366" width="1" height="24" fill="#ff0000"/>
<rect x="519" y="367" width="3" height="4" fill="#ff0000"/>
<rect x="510" y="389" width="11" height="1" fill="#ff0000"/>
<rect x="511" y="388" width="10" height="1" fill="#ff0000"/>
<rect x="513" y="387" width="8" height="1" fill="#ff0000"/>
<rect x="514" y="386" width="7" height="1" fill="#ff0000"/>
<rect x="516" y="385" width="5" height="1" fill="#ff0000"/>
<rect x="517" y="384" width="4" height="1" fill="#ff0000"/>
<rect x="519" y="383" width="2" height="1" fill="#ff0000"/>
<use href="#g55" x="437" y="379"/><use href="#g39" x="443" y="379"/><use href="#g37" x="449" y="379"/><use href="#g35" x="455" y="379"/><use href="#g2e" x="461" y="379"/><use href="#g53" x="467" y="379"/><use href="#g69" x="473" y="379"/><use href="#g67" x="479" y="379"/><use href="#g41" x="485" y="379"/><use href="#g2e" x="491" y="379"/><use href="#g4d" x="497" y="379"/><use href="#g33" x="503" y="379"/>
<rect x="532" y="366" width="1" height="24" fill="#ff0000"/>
<rect x="531" y="367" width="3" height="4" fill="#ff0000"/>
<rect x="522" y="389" width="11" height="1" fill="#ff0000"/>
<rect x="523" y="388" width="10" height="1" fill="#ff0000"/>
<rect x="525" y="387" width="8" height="1" fill="#ff0000"/>
<rect x="526" y="386" width="7" height="1" fill="#ff0000"/>
<rect x="528" y="385" width="5" height="1" fill="#ff0000"/>
<rect x="529" y="384" width="4" height="1" fill="#ff0000"/>
<rect x="531" y="383" width="2" height="1" fill="#ff0000"/>
<use href="#g55" x="449" y="379"/><use href="#g39" x="455" y="379"/><use href="#g37" x="461" y="379"/><use href="#g36" x="467" y="379"/><use href="#g2e" x="473" y="379"/><use href="#g53" x="479" y="379"/><use href="#g69" x="485" y="379"/><use href="#g67" x="491" y="379"/><use href="#g41" x="497" y="379"/><use href="#g2e" x="503" y="379"/><use href="#g4d" x="509" y="379"/><use href="#g33" x="515" y="379"/>
<rect x="625" y="366" width="1" height="24" fill="#ff0000"/>
<rect x="615" y="389" width="11" height="1" fill="#ff0000"/>
<rect x="616" y="388" width="10" height="1" fill="#ff0000"/>
<rect x="618" y="387" width="8" height="1" fill="#ff0000"/>
<rect x="619" y="386" width="7" height="1" fill="#ff0000"/>
<rect x="621" y="385" width="5" height="1" fill="#ff0000"/>
<rect x="622" y="384" width="4" height="1" fill="#ff0000"/>
<rect x="624" y="383" width="2" height="1" fill="#ff0000"/>
<use href="#g55" x="542" y="379"/><use href="#g39" x="548" y="379"/><use href="#g37" x="554" y="379"/><use href="#g37" x="560" y="379"/><use href="#g2e" x="566" y="379"/><use href="#g53" x="572" y="379"/><use href="#g69" x="578" y="379"/><use href="#g67" x="584" y="379"/><use href="#g41" x="590" y="379"/><use href="#g2e" x="596" y="379"/><use href="#g4d" x="602" y="379"/><use href="#g33" x="608" y="379"/>
<rect x="999" y="343" width="1" height="24" fill="#ff0000"/>
<rect x="999" y="343" width="10" height="1" fill="#ff0000"/>
<rect x="999" y="344" width="9" height="1" fill="#ff0000"/>
<rect x="999" y="345" width="8" height="1" fill="#ff0000"/>
<rect x="999" y="346" width="7" height="1" fill="#ff0000"/>
<rect x="999" y="347" width="6" height="1" fill="#ff0000"/>
<rect x="999" y="348" width="4" height="1" fill="#ff0000"/>
<rect x="999" y="349" width="3" height="1" fill="#ff0000"/>
<rect x="999" y="350" width="2" height="1" fill="#ff0000"/>
<rect x="998" y="362" width="3" height="5" fill="#ff0000"/>
<rect x="999" y="336" width="5" height="1" fill="#ff0000"/>
<use href="#g55" x="1007" y="346"/><use href="#g39" x="1013" y="346"/><use href="#g37" x="1019" y="346"/>
<rect x="162" y="353" width="11" height="9" fill="#ff0000"/>
<rect x="164" y="362" width="3" height="4" fill="#ff0000"/>
<rect x="171" y="362" width="2" height="4" fill="#ff0000"/>
<use href="#g44" x="138" y="353"/><use href="#g38" x="144" y="353"/><use href="#g32" x="150" y="353"/><use href="#g32" x="156" y="353"/>
<use href="#g44" x="172" y="371"/><use href="#g38" x="178" y="371"/><use href="#g32" x="184" y="371"/><use href="#g30" x="190" y="371"/>
<rect x="162" y="366" width="1" height="5" fill="#ff0000"/>
<rect x="163" y="366" width="1" height="5" fill="#ff0000"/>
<rect x="168" y="366" width="1" height="5" fill="#ff0000"/>
<rect x="170" y="366" width="1" height="5" fill="#ff0000"/>
<rect x="177" y="366" width="1" height="5" fill="#ff0000"/>
<rect x="178" y="366" width="1" height="5" fill="#ff0000"/>
<rect x="163" y="371" width="15" height="9" fill="#ff0000"/>
<use href="#g44" x="178" y="371"/><use href="#g38" x="184" y="371"/><use href="#g32" x="190" y="371"/><use href="#g31" x="196" y="371"/>
<rect x="320" y="353" width="11" height="9" fill="#ff0000"/>
<rect x="330" y="362" width="1" height="5" fill="#ff0000"/>
<use href="#g44" x="295" y="353"/><use href="#g38" x="301" y="353"/><use href="#g32" x="307" y="353"/><use href="#g33" x="313" y="353"/>
<rect x="401" y="366" width="1" height="5" fill="#ff0000"/>
<rect x="406" y="366" width="1" height="5" fill="#ff0000"/>
<rect x="401" y="371" width="10" height="9" fill="#ff0000"/>
<use href="#g44" x="410" y="371"/><use href="#g38" x="416" y="371"/><use href="#g32" x="422" y="371"/><use href="#g34" x="428" y="371"/>
<rect x="446" y="366" width="1" height="5" fill="#ff0000"/>
<rect x="452" y="366" width="1" height="5" fill="#ff0000"/>
<rect x="446" y="371" width="11" height="9" fill="#ff0000"/>
<use href="#g44" x="455" y="371"/><use href="#g38" x="461" y="371"/><use href="#g32" x="467" y="371"/><use href="#g35" x="473" y="371"/>
<rect x="551" y="366" width="1" height="5" fill="#ff0000"/>
<rect x="551" y="371" width="11" height="9" fill="#ff0000"/>
<use href="#g44" x="560" y="371"/><use href="#g38" x="566" y="371"/><use href="#g32" x="572" y="371"/><use href="#g36" x="578" y="371"/>
<rect x="633" y="366" width="1" height="5" fill="#ff0000"/>
<rect x="633" y="371" width="11" height="9" fill="#ff0000"/>
<use href="#g44" x="642" y="371"/><use href="#g38" x="648" y="371"/><use href="#g32" x="654" y="371"/><use href="#g37" x="660" y="371"/>
<rect x="163" y="397" width="6" height="1" fill="#00ff00"/>
<rect x="169" y="397" width="17" height="1" fill="#ff0000"/>
<rect x="163" y="401" width="16" height="1" fill="#ff0000"/>
<rect x="372" y="397" width="28" height="1" fill="#00ff00"/>
<rect x="400" y="397" width="133" height="1" fill="#ff0000"/>
<rect x="372" y="401" width="149" height="1" fill="#ff0000"/>
<rect x="401" y="406" width="52" height="1" fill="#ff0000"/>
<rect x="399" y="411" width="8" height="1" fill="#ff0000"/>
<rect x="551" y="397" width="75" height="1" fill="#ff0000"/>
</g>
<g fill="none" stroke-width="1" stroke-linejoin="miter">
<path d="M23 500.5h13M45 500.5h10l1 1h5M66 502.5h3M72 502.5h2l1 -1h1l1 -1h13M96 502.5h51l1 1h2l1 -1h15l1 -1l1 -6l1 -7l1 -1h4l1 1l1 7l1 7h9l1 -1l1 -4h20l1 -1l1 -1h3l1 -1h3l1 -1h2l1 -2l1 -7h10l1 -1h8l1 -1l1 -9l1 -8h1l1 1h25l1 1h7l1 1h12l1 -2h17l1 1l1 7l1 1l1 1h1l1 -1h16l1 1h1M349 493.5h4M356 492.5h7l1 1h6l1 -1h3l1 3l1 2l1 3h81M472 501.5h1l1 1h1M481 500.5h2M508 501.5h2M518 499.5h3l1 1h16l1 1h13M556 503.5h17l1 1h5l1 -1h3l1 -1h3l1 1l1 -2h3l1 -1l1 -1l1 -1h3l1 1h11l1 -1h8l1 2h12l1 1l1 1h10l1 -1h14l1 -1h5l1 1h3l1 -1h2l1 1h3l1 1h2l1 1h10l1 -1h44l1 1h18l1 1h2l1 1h7l1 -1h1l1 -1h4l1 -1h3l1 1l1 1h1l1 1l1 1h12l1 -1h4l1 -2h6l1 1h7l1 -1h6l1 -2l1 -6h2l1 1h5l1 1h8l1 1l1 1h8l1 1h2l1 1h5l1 1h3l1 -8h3l1 1h9l1 1h8l1 1h2l1 1h1l1 1h1l1 1h1l1 1h2l1 1h1l1 2h36l1 -1h1l1 -1h3l1 1h1l1 1h16l1 -1h9l1 -1h17l1 -4l1 -1l1 -1h8l1 -10l1 -10l1 -13h1" stroke="#9370db"/>
<path d="M23 505.5h10l1 -1h2M45 504.5h11l1 -1h4M66 503.5h3M72 503.5h18M96 506.5h46l1 1h4l1 -1h4l1 1h3l1 1h10l1 -6l1 -3l1 -1h4l1 1l1 4l1 3h9l1 -3l1 -4h12l1 -1h8l1 -1h5l1 -1h2l1 -1l1 -1l1 -1l1 -3l1 -1h12l1 -1h6l1 -8l1 -5h3l1 1h4l1 -1h25l1 -1h4l1 -1h3l1 2h11l1 -1h1l1 -1h8l1 1l1 5l1 1l1 1h11l1 1h6l1 1h1M349 501.5h4M356 499.5h3l1 -1h14l1 1l1 1l1 2h12l1 1h2l1 1h8l1 1h20l1 1h27l1 -1h7M472 509.5l1 -1h2M481 507.5h2M508 507.5h2M518 509.5l1 -1h4l1 1h10l1 -1h14l1 1h2M556 502.5h4l1 -1h16l1 1h14l1 2l1 -1h25l1 -2h19l1 -1h17l1 -1h2l1 1h13l1 1h2l1 1h19l1 -1h11l1 1h11l1 -1h4l1 1h11l1 -1h14l1 1h12l1 -1l1 -1h9l1 1l1 1h9l1 1h8l1 -1h4l1 1h2l1 -1h12l1 1h1l1 -2l1 -2h3l1 1h2l1 -1l1 1h6l1 1h9l1 1h9l1 1h4l1 -1l1 -4l1 1h7l1 1h3l1 1h11l1 1l1 1h2l1 1h2l1 1h2l1 1h1l1 -1h5l1 -1h11l1 1h10l1 -1h5l1 1h2l1 -1h5l1 1h22l1 -2h11l1 -1h2l1 1h7l1 -1h1l1 -1h3l1 -1h1l1 1h2l1 -7l1 -7l1 -9h1" stroke="#ff7f50"/>
<path d="M23 501.5h6l1 -1h6M45 500.5h16M66 500.5h3M72 500.5h18M96 500.5h33l1 1h16l1 1h12l1 -1h6l1 1l1 -6l1 -9l1 -2h4l1 1l1 9l1 10h1l1 -1h7l1 -3l1 -4h18l1 -1h1l1 -1h2l1 -1h2l1 -1h3l1 -1h1l1 -1l1 -6h1l1 -1h10l1 -1h3l1 1h3l1 -10l1 -9h1l1 -1h12l1 -1l1 1h19l1 -1h29l1 -1l1 1l1 8l1 1l1 2h16l1 1h1l1 1h1M349 493.5h4M356 494.5h7l1 1h10l1 2h1l1 3h16l1 1h4l1 1h2l1 1h33l1 -1h3l1 1h14l1 -1h3M472 501.5h1l1 -1h1M481 499.5h2M508 498.5h2M518 503.5h16l1 1h7l1 -1h9M556 500.5h11l1 1h10l1 1h13l1 1l1 -2h4l1 1h20l1 3h13l1 -5h17l1 -1h6l1 -1h1l1 -1h9l1 -1h1l1 1h1l1 1h2l1 1h1l1 1h85l1 -1l1 -1h10l1 1l1 1h41l1 -2l1 -2h4l1 1h5l1 1h6l1 -1l1 1h2l1 -1h3l1 1h4l1 1h3l1 1h5l1 -7h8l1 1h4l1 -1h1l1 1h2l1 1h1l1 1h5l1 1h1l1 1h1l1 1h1l1 2h1l1 1h1l1 1h1l1 1h10l1 -1h24l1 -1h1l1 -1l1 1h25l1 -1h22l1 -3l1 -1l1 -1h2l1 1l1 -1h4l1 -9l1 -10l1 -12h1" stroke="#dda0dd"/>
<path d="M23 505.5h13M45 506.5h8l1 1h7M66 507.5h3M72 506.5h18M96 507.5h10l1 -1h5l1 1h4l1 -1h20l1 1h1l1 -1h17l1 -1h7l1 -1l1 -6l1 -4l1 -1h2l1 1h1l1 1l1 5l1 6h4l1 -1h3l1 1l1 -4l1 -3h9l1 -1h9l1 -1h1l1 1l1 -1h3l1 -1h5l1 -1l1 -4h9l1 -1h7l1 -1h2l1 -8l1 -2h6l1 -1h14l1 1h3l1 1h3l1 -1h8l1 1h8l1 -1h10l1 1h7l1 1l1 -4l1 1l1 1h7l1 1h10l1 1h1M349 505.5h4M356 501.5h7l1 -1h10l1 3h1l1 2h14l1 -1l1 1l1 1h6l1 -1h7l1 1h8l1 1h19l1 -1h7l1 1h12M472 507.5h3M481 505.5h2M508 503.5h2M518 504.5h9l1 1h7l1 -1h4l1 1h11M556 503.5h21l1 1h2l1 1h1l1 -1h8l1 1l1 -3l1 -1h9l1 -1h13l1 1h1l1 2h10l1 1h2l1 -1h2l1 1h3l1 -1h12l1 -1h5l1 -2h14l1 1l1 1h3l1 1h12l1 1h14l1 1h11l1 -1h11l1 -1h12l1 -1h21l1 -1h1l1 -1h7l1 1l1 1h1l1 1l1 1h4l1 -1h5l1 1h1l1 -1h3l1 1h1l1 1h10l1 -1h8l1 -1l1 -2l1 -3h1l1 1h10l1 1l1 1h6l1 1h10l1 1h2l1 1h5l1 -3h9l1 1h19l1 1h2l1 1h3l1 -2h8l1 1h18l1 -1h11l1 -1l1 1h14l1 1h16l1 -1h8l1 1h6l1 -1l1 1l1 -1h2l1 -1h3l1 1h1l1 -2l1 -6l1 -6l1 -8h1" stroke="#cd853f"/>
<path d="M23 502.5h13M45 503.5h6l1 -1h7l1 1h1M66 502.5h3M72 502.5h1l1 -1h7l1 1h1l1 1h6M96 502.5h4l1 -1h7l1 1h17l1 -1h15l1 1h17l1 1h5l1 1l1 -6l1 -7l1 -1h2l1 1h1l1 1l1 7l1 4h2l1 -1h6l1 -6l1 -4h18l1 -1h2l1 -1h3l1 -1h2l1 -1h3l1 -2l1 -1h3l1 1h3l1 -1h7l1 -1h4l1 -9l1 -11h2l1 -1h16l1 1h10l1 -1h34l1 -1l1 1l1 5l1 1l1 1h8l1 1l1 -1h6l1 1h1l1 1h1M349 494.5h4M356 493.5h13l1 -1h4l1 3l1 2l1 3h16l1 1h26l1 1h9l1 1h8l1 -1h18M472 500.5h3M481 498.5h2M508 499.5h2M518 504.5h9l1 -1h7l1 -1h4l1 1h3l1 -1h7M556 500.5h37l1 -2h4l1 1h9l1 -1h1l1 1h5l1 1h16l1 1h10l1 1h2l1 -1h3l1 -1h5l1 -1h9l1 1h4l1 1h2l1 1h3l1 1h6l1 -1h4l1 1h11l1 -1h9l1 -1h7l1 -1h2l1 1h16l1 -1h3l1 1h5l1 -1h14l1 -1h1l1 -1h2l1 1h5l1 1l1 1l1 1h6l1 1h1l1 -1h8l1 1h9l1 -1h9l1 1h2l1 -3l1 -1h5l1 1h6l1 1h3l1 1h8l1 1h3l1 -1h4l1 1h5l1 -8h6l1 1h8l1 1h2l1 -1l1 1h5l1 1h1l1 1h1l1 1h1l1 1h1l1 1h1l1 1l1 -3h9l1 1h12l1 -1h13l1 -1h1l1 -1h4l1 1h3l1 1h7l1 1h1l1 -1h30l1 -1h1l1 -1l1 -1h5l1 -1h2l1 -10l1 -9l1 -13h1" stroke="#c71585"/>
<path d="M23 507.5h3l1 -1h9M45 507.5h16M66 506.5h3M72 506.5h18M96 503.5h22l1 1h7l1 -1h6l1 1h17l1 -1h4l1 -1h9l1 1l1 -5l1 -6l1 -1h1l1 -1h2l1 1l1 6l1 5h10l1 -3h5l1 1h12l1 -1h2l1 -1h3l1 -1h4l1 -1h1l1 -1l1 -4h3l1 -1h13l1 -1h2l1 -7l1 -14h4l1 1h4l1 1h8l1 1h1l1 -1h1l1 1h9l1 -1h2l1 -1h1l1 1h5l1 -1h8l1 -1h13l1 1l1 7l1 1l1 1h3l1 1h5l1 1h8l1 1h1M349 497.5h4M356 496.5h6l1 -1h10l1 -1l1 2l1 3l1 2h16l1 4h17l1 1h8l1 -1h37M472 502.5h3M481 501.5h2M508 501.5h2M518 504.5h11l1 1h9l1 1h12M556 505.5h7l1 1h8l1 -1h19l1 -2l1 -1h21l1 1h3l1 3h13l1 -1h2l1 -1l1 1h19l1 -1h5l1 -1h11l1 1h3l1 1h5l1 -1h1l1 1h10l1 1h27l1 -1h3l1 1h8l1 -1h3l1 1h22l1 -1h1l1 -2h1l1 1h5l1 1h1l1 1h14l1 -1h7l1 -1h5l1 1h4l1 -1h7l1 -1l1 -1h3l1 1h5l1 1h2l1 1h3l1 1h12l1 1h5l1 -1h1l1 1h2l1 -12l1 1h11l1 1h11l1 1h1l1 1h1l1 1h1l1 1h1l1 1h1l1 1h1l1 -1h23l1 -1h4l1 1h7l1 -1h1l1 -1h3l1 1h2l1 1h9l1 1h16l1 -1h15l1 -1l1 -1l1 -1l1 -1h5l1 1l1 -1h1l1 -8l1 -8l1 -11h1" stroke="#7cfc00"/>
<path d="M23 501.5h11l1 -1h1M45 500.5h16M66 501.5h3M72 501.5h13l1 1h4M96 501.5h2l1 -1h68l1 -6l1 -8l1 -2h4l1 2l1 8l1 8h9l1 -6l1 -4h20l1 -1h3l1 -1h2l1 -1h3l1 -1l1 -1l1 1l1 -1h9l1 -1h7l1 -1h1l1 -8l1 -7h29l1 -1h11l1 1h21l1 -1h2l1 1h1l1 2l1 1l1 1h1l1 -1h7l1 1h7l1 1h1M349 493.5h4M356 494.5l1 -1h13l1 -1h3l1 3l1 2l1 3h16l1 1h7l1 -1h2l1 1h9l1 -1h43M472 500.5h3M481 498.5h2M508 498.5h2M518 499.5h13l1 1h20M556 500.5h37l1 -2h25l1 2h13l1 -2h21l1 -1h3l1 -1h12l1 1h1l1 1h2l1 1h1l1 1h6l1 1h29l1 -1h13l1 1h6l1 -1h27l1 -1l1 -1h10l1 1l1 1h20l1 1h8l1 -1h11l1 -2l1 -4l1 1h7l1 1h8l1 1h6l1 1h1l1 1h6l1 1h6l1 -9h5l1 1h5l1 1h2l1 -1h4l1 1h5l1 1h1l1 1h1l1 1l1 1l1 1h2l1 1l1 1h7l1 1h12l1 -1h16l1 -1l1 -1h5l1 1h3l1 1h40l1 -1l1 -1l1 -1l1 -1h8l1 -10l1 -10l1 -14h1" stroke="#1e90ff"/>
<path d="M23 508.5h9l1 -1h3M45 508.5h7l1 -1h8M66 506.5h3M72 506.5h18M96 505.5h10l1 1h2l1 -1h8l1 1h25l1 -1h6l1 1h6l1 -1h7l1 -1l1 -6l1 -5l1 -1h4l1 1l1 5l1 8h9l1 -4l1 -1h4l1 -1h11l1 -1l1 1l1 -1h3l1 -1h3l1 -1h2l1 -1h2l1 -1l1 -3h1l1 1h3l1 1h2l1 -1l1 1h6l1 -1h3l1 -7l1 -6h8l1 -1h26l1 1h5l1 -1h7l1 1h18l1 1h1l1 1h9l1 1h7l1 1h1M349 504.5h4M356 499.5h8l1 -1h5l1 -1h3l1 2l1 5l1 2h5l1 1h2l1 1h2l1 -1h3l1 1h2l1 -1h3l1 -1h11l1 1h3l1 -1h22l1 1h19M472 504.5l1 1h2M481 504.5h2M508 502.5h2M518 506.5l1 1h3l1 1h12l1 1h16M556 507.5h1l1 -1h3l1 -1h2l1 1h6l1 -1h1l1 -1h5l1 1h5l1 1h6l1 -2l1 -1h13l1 1h11l1 2h13l1 -3h4l1 -1h7l1 -1h4l1 -1h7l1 -1h13l1 1h3l1 1h3l1 1h11l1 -1h27l1 1h18l1 -1l1 1h24l1 -1h10l1 1h1l1 1h3l1 -1h9l1 1h6l1 1h2l1 1h16l1 -2l1 5h2l1 -1h11l1 1h3l1 -1h1l1 -1h19l1 -7l1 2h10l1 -1h6l1 2h4l1 -1l1 1h3l1 1h3l1 1h3l1 -2h17l1 1h5l1 -1h2l1 2h9l1 -1h7l1 1h11l1 1h21l1 -1h4l1 -1h4l1 -1h2l1 -1h5l1 -1h2l1 -7l1 -7l1 -9h1" stroke="#9acd32"/>
<path d="M23 508.5h11l1 -1h1M45 506.5h16M66 506.5h3M72 507.5h18M96 505.5h12l1 -1h10l1 1h11l1 -1h15l1 1h6l1 -1h11l1 -2l1 -6l1 -7l1 -1h4l1 1l1 7l1 8h9l1 -1l1 -3h7l1 -1h1l1 1h6l1 -1h4l1 -1h2l1 -1h4l1 -1h2l1 -1l1 -3h4l1 -1h10l1 -1h4l1 -8l1 -10h6l1 1h3l1 -1h14l1 1h12l1 1h5l1 -1h21l1 2l1 7l1 1l1 1h5l1 1h12l1 1h1M349 501.5h4M356 497.5h18l1 2l1 3l1 2h16l1 4h3l1 -1h8l1 -1h4l1 -1h1l1 1h31l1 1h12M472 508.5h3M481 509.5h2M508 509.5h2M518 505.5l1 1h12l1 1h12l1 -1h7M556 504.5h4l1 -1h4l1 1h10l1 1h9l1 -1h5l1 -1l1 -1h3l1 1h25l1 1h6l1 -1h2l1 -2h5l1 -1h4l1 -1h2l1 1h9l1 -2h14l1 1l1 1h3l1 1h15l1 -1h18l1 1h4l1 -1h1l1 1h31l1 1h9l1 1h3l1 -1h2l1 -1h6l1 1h1l1 1l1 1h6l1 -1h3l1 1h30l1 -3l1 1h9l1 -1h3l1 1h5l1 1h5l1 1h2l1 -1h5l1 1h1l1 1h1l1 -1h1l1 -4h4l1 1h7l1 1h9l1 1h4l1 1h2l1 1h3l1 1h1l1 1h1l1 -1h3l1 1h6l1 -1h1l1 1h17l1 -1h1l1 1h1l1 -1h3l1 1h10l1 -1h4l1 1h8l1 1h18l1 -1h4l1 -6l1 -2h2l1 -1h6l1 -9l1 -8l1 -11h1" stroke="#9acd32"/>
<path d="M23 515.5h4l1 1h8M45 516.5h16M66 516.5h3M72 516.5h6l1 -1h11M96 506.5h54l1 -1h6l1 1h8l1 -1l1 -6l1 -4l1 -1h4l1 2l1 4l1 6h9l1 -2l1 -2l1 1h14l1 -1h5l1 -1h8l1 -1h1l1 -1l1 -1h8l1 -1h5l1 -1h5l1 -7h60l1 -1h6l1 1l1 -8l1 1l1 1h7l1 1h12M349 503.5h4M356 502.5h1l1 1h11l1 1h4l1 1h1l1 2h3l1 -1h3l1 -1h4l1 1h2l1 1l1 7h1l1 -1h9l1 1h4l1 1h25l1 -1h21M472 517.5h3M481 515.5h2M508 517.5h2M518 509.5h13l1 1h6l1 -1h11l1 -1h1M556 511.5h20l1 -1h6l1 -1h6l1 1h1l1 -1l1 -1h13l1 -1h11l1 5h13l1 -4h37l1 -1l1 1h10l1 1h13l1 1h15l1 1h21l1 -1h15l1 1h4l1 -1h9l1 -1h1l1 -1h7l1 1h2l1 1h6l1 1h9l1 1h8l1 -1h16l1 1h3l1 1h4l1 -1h21l1 1h8l1 -8h8l1 -1h3l1 1h6l1 1h4l1 1h4l1 1h3l1 1h2l1 2h1l1 1h89l1 -1h2l1 -1h4l1 -1l1 -2l1 -2l1 -3h1" stroke="#a0522d"/>
<path d="M23 506.5h7l1 1h5M45 507.5h9l1 -1h6M66 506.5h3M72 506.5h4l1 1h2l1 -1h10M96 514.5l1 1h5l1 -1h5l1 1l1 -1h21l1 -1h11l1 -1h6l1 -1h13l1 -1h1l1 -6l1 -6l1 -4l1 -1h4l1 1l1 5l1 5h5l1 1h3l1 1l1 -2h1l1 -1h11l1 -1h7l1 -1h4l1 -1l1 1h1l1 -1h3l1 -7h12l1 -1h2l1 -1h4l1 -8l1 -8h11l1 1h8l1 -1h3l1 1h1l1 -1h14l1 1h3l1 1h10l1 1h6l1 -1h2l1 1l1 3l1 1l1 1h6l1 -1h2l1 1h8l1 1h1M349 504.5h4M356 504.5h18l1 1l1 2h16l1 1l1 1l1 1h7l1 1h16l1 1h11l1 -1h14l1 1h4l1 -1h6M472 513.5l1 -1h2M481 513.5h2M508 513.5h2M518 516.5h34M556 508.5h8l1 -1h5l1 1h4l1 -1h11l1 -1h4l1 3l1 -1h10l1 -1h14l1 1h13l1 -1h6l1 1h30l1 -1l1 1l1 -1l1 1h8l1 1h2l1 -1h4l1 1h3l1 1h8l1 1h7l1 -1h1l1 1h7l1 -1h6l1 1h19l1 -1h2l1 1h8l1 1h3l1 -1l1 -1l1 -1h22l1 1h9l1 -1h5l1 1h5l1 -1h2l1 1h5l1 -4h3l1 1h16l1 1h1l1 1h4l1 -1h3l1 1h7l1 -1l1 -9h2l1 1h2l1 1h6l1 1h11l1 1h2l1 1h2l1 1h2l1 1h19l1 -1l1 1h13l1 -1h30l1 -2h10l1 1h5l1 -1h9l1 -1l1 -1l1 -1h6l1 -1h1l1 -6l1 -7l1 -9h1" stroke="#8b4513"/>
<path d="M23 507.5h13M45 507.5h6l1 1h9M66 509.5h3M72 509.5h2l1 -1h8l1 -1h6M96 506.5h7l1 1h7l1 1h15l1 -1h7l1 1h1l1 1h4l1 -1h19l1 1h4l1 -7l1 -3l1 -1h4l1 1l1 4l1 5l1 -1h3l1 1h4l1 3l1 -1h15l1 -1h3l1 -1h5l1 -1h6l1 -1l1 -11h2l1 -1h7l1 -1h3l1 -1h5l1 -8l1 -4h3l1 1h3l1 -1h20l1 1h10l1 1h7l1 -1h11l1 1h6l1 1l1 -2l1 1l1 1h17l1 1l1 1h1M349 507.5h4M356 502.5h5l1 -1h7l1 -1h2l1 1h1l1 2l1 1l1 3h15l1 1l1 3l1 -1h3l1 1h24l1 -1h8l1 1h20l1 -1h4M472 512.5h3M481 510.5h2M508 510.5h2M518 513.5h7l1 1h6l1 1h19M556 506.5h4l1 -1h9l1 1h9l1 -1h2l1 1h8l1 -2l1 -1l1 2h10l1 -1h5l1 1h7l1 2l1 1h8l1 -1h3l1 2h2l1 1h11l1 1h19l1 -1h1l1 -1h1l1 1h3l1 1h32l1 1h6l1 -1h6l1 1h9l1 -1h4l1 -1h17l1 1h8l1 -1h1l1 -1l1 -1h9l1 1h36l1 1h5l1 -6h4l1 1h7l1 1h8l1 1h8l1 -1h8l1 1l1 -7h15l1 1h8l1 1h2l1 1h2l1 1h1l1 1h1l1 -1l1 1l1 5l1 1h12l1 1h47l1 -1h6l1 1h9l1 -1h7l1 1h2l1 -5h3l1 -2h5l1 -1l1 -4l1 -5l1 -5h1" stroke="#cd5c5c"/>
<path d="M23 503.5h6l1 1h2l1 -1h3M45 503.5h5l1 1h2l1 1h7M66 504.5h3M72 505.5h6l1 -1h11M96 500.5h2l1 2h18l1 -1h36l1 1h9l1 -1h1l1 3l1 -6l1 -6l1 -1h4l1 1l1 6l1 6l1 1h2l1 -1h1l1 -1h3l1 -5l1 -5h19l1 -1h3l1 -1h3l1 -1h3l1 -1l1 -1l1 -3h11l1 -1h7l1 -1l1 -8l1 -6h8l1 1h10l1 1h46l1 1l1 2l1 1l1 1h18l1 1h1M349 497.5h4M356 493.5h2l1 1h13l1 1h1l1 3l1 6l1 2h16l1 1h25l1 1h8l1 -1h8l1 -1h12l1 -1h7M472 501.5h1l1 1h1M481 500.5h2M508 499.5h2M518 501.5h2l1 1h7l1 1h14l1 1h8M556 504.5h30l1 1h5l1 -4l1 -1h3l1 -1h2l1 2h18l1 5l1 -1h10l1 -1h1l1 -5h5l1 -1h2l1 2l1 -1h7l1 1h5l1 -1h16l1 1h1l1 1h1l1 1h18l1 -1h18l1 1h3l1 -1h7l1 1h4l1 -1h7l1 1h23l1 -1h1l1 -1h8l1 1h1l1 1l1 1h7l1 -1h12l1 -1h11l1 -1h7l1 -2h3l1 1h2l1 1h10l1 1h6l1 1h6l1 1h9l1 -11l1 1h7l1 1h7l1 1h7l1 -1l1 1h1l1 1h1l1 1h1l1 1l1 1h1l1 1h1l1 1h5l1 1h16l1 -1h1l1 1h6l1 -1h4l1 -1h1l1 -1h5l1 1h43l1 -1l1 3h1l1 -1h3l1 -1h4l1 -6l1 -7l1 -8h1" stroke="#9acd32"/>
<path d="M23 500.5h13M45 500.5h16M66 500.5h3M72 500.5h18M96 504.5h6l1 -1h10l1 1h8l1 -1h3l1 -1h13l1 -1h8l1 1h8l1 -1h7l1 -1l1 -6l1 -8l1 -2h4l1 2l1 8l1 9h9l1 -6l1 -4h9l1 1h8l1 -1h1l1 -1h1l1 -1h3l1 -1h3l1 -1h1l1 -1l1 -1h2l1 1h2l1 -1h5l1 -1h6l1 -1h1l1 -8l1 -10h2l1 1h19l1 -1h8l1 1h5l1 -1h2l1 -1h3l1 1h21l1 2l1 2l1 1l1 2h3l1 -1h4l1 1h9l1 1h1M349 497.5h4M356 497.5h2l1 1h4l1 -1h10l1 2l1 1l1 3h6l1 1h4l1 -1h3l1 1l1 1h2l1 1h13l1 -1h7l1 -1h11l1 -1h27M472 504.5h3M481 503.5h2M508 504.5h2M518 499.5h3l1 1h12l1 -1h2l1 1h6l1 1h7M556 501.5l1 -1h5l1 1h6l1 1h5l1 -1h11l1 -1h5l1 -2h25l1 2h13l1 -2h22l1 -1h2l1 -1h12l1 1h1l1 1h2l1 1h1l1 1h86l1 -1h1l1 -1h7l1 1h1l1 1l1 1l1 1h25l1 -1h9l1 -1h3l1 -2l1 -4l1 1h7l1 1h8l1 1h8l1 1h13l1 -4h6l1 1h8l1 1h5l1 -1h2l1 1h2l1 1h1l1 2h2l1 1l1 1h5l1 -1h12l1 1h9l1 -1h10l1 -1h1l1 -1h3l1 1h4l1 1h40l1 -1h1l1 -1l1 -1h1l1 1h2l1 -1h2l1 1l1 -9l1 -9l1 -11h1" stroke="#dc143c"/>
<path d="M23 503.5h13M45 503.5h2l1 -1h13M66 503.5h3M72 503.5h9l1 -1h8M96 503.5h6l1 1h4l1 1h32l1 -1h25l1 -1l1 -6l1 -9l1 -1h4l1 1l1 8l1 8h1l1 -1h7l1 -7l1 -4h19l1 -1h4l1 -1h2l1 -1h3l1 -1l1 -1l1 5l1 1h1l1 -1h8l1 -1h4l1 -1h3l1 -7l1 -16h10l1 -1h2l1 1h15l1 1h4l1 -1h6l1 1h18l1 -1h3l1 2h1l1 1l1 8l1 1l1 1h10l1 1h7l1 1h1M349 500.5h4M356 499.5h1l1 -1h7l1 1h8l1 2h1l1 2h15l1 1h10l1 -1h22l1 1h14l1 -1h1l1 1h7l1 -1h6M472 501.5h3M481 499.5l1 1h1M508 500.5h2M518 505.5h6l1 1h17l1 1h9M556 506.5h15l1 -1h18l1 -1l1 1l1 -3l1 -1h5l1 -1h33l1 2h25l1 -1h10l1 1h4l1 1h32l1 1h11l1 1h5l1 -2h1l1 1h5l1 2h15l1 -1h14l1 -1h1l1 -1h8l1 1l1 1h1l1 1h27l1 -1h12l1 -2l1 -8h3l1 1h1l1 -1h2l1 1h8l1 1h8l1 1h13l1 -4h2l1 1h10l1 1h10l1 1l1 1h2l1 1h2l1 1h2l1 1h1l1 1h5l1 1h1l1 -1h1l1 1h4l1 1h21l1 -1h7l1 1h8l1 1h7l1 1h4l1 -2h2l1 1h6l1 1h5l1 -1h5l1 -1l1 -3l1 -1l1 -1h6l1 -1h1l1 -9l1 -9l1 -11h1" stroke="#cd853f"/>
<path d="M23 508.5h13M45 508.5h16M66 507.5h3M72 507.5l1 1h15l1 1h1M96 508.5l1 1h19l1 -1h4l1 -1h16l1 1h10l1 -1h9l1 -1h2l1 1h3l1 -1l1 -6l1 -4l1 -1h4l1 1l1 4l1 12h9l1 -2l1 -1h4l1 -1h14l1 -1h6l1 -1h4l1 -1h1l1 -1l1 1h10l1 -1h8l1 -8l1 -16h45l1 -1h1l1 1h18l1 1l1 3h1l1 1h4l1 1h5l1 1h4l1 1h2l1 1h1M349 505.5h4M356 505.5h5l1 -1h9l1 1h2l1 1l1 6l1 1h15l1 1l1 -5h3l1 -1h2l1 1h57M472 513.5h3M481 513.5h2M508 513.5h2M518 512.5h12l1 -1h6l1 1h14M556 507.5h23l1 1h12l1 3l1 -1h10l1 -1h7l1 -1h6l1 -3h10l1 1h2l1 -1h9l1 1h2l1 -1h7l1 1l1 -1h2l1 1l1 -1h5l1 1h4l1 -1h2l1 1h4l1 1h3l1 -1h2l1 -1h42l1 1h8l1 1h7l1 1h16l1 -1h2l1 -1h1l1 -1h9l1 1l1 1l1 1h8l1 -1h7l1 -1h1l1 1h3l1 1h6l1 -1h10l1 -2l1 -1h9l1 1h30l1 -2h11l1 1h3l1 1h10l1 1h1l1 1h4l1 1h1l1 1l1 -2l1 1h17l1 1h2l1 -1h3l1 -1h17l1 -1h9l1 1h12l1 -1h3l1 1h3l1 -1h14l1 3h2l1 -1h6l1 -1l1 -2l1 -2l1 -3h1" stroke="#8b4513"/>
<path d="M23 507.5h13M45 506.5h14l1 1h1M66 507.5h3M72 507.5h12l1 1h5M96 507.5h7l1 -1h30l1 -1h4l1 2h10l1 -1h9l1 1h5l1 1l1 -6l1 -2l1 -1h4l1 1l1 3l1 4l1 -1h8l1 -4l1 -3h12l1 1h5l1 -1h4l1 -1h4l1 -1h2l1 -1l1 -1l1 2h7l1 -1h3l1 -1h8l1 -7l1 -13h12l1 1h6l1 -1h10l1 1h7l1 1h6l1 -1h9l1 -1h11l1 3l1 1l1 1h10l1 1h7l1 1h1M349 498.5h4M356 499.5h8l1 1h5l1 1h3l1 1l1 1l1 3h14l1 -1l1 1l1 1h3l1 -1h23l1 1h17l1 -1h4l1 1h13M472 513.5h3M481 513.5h2M508 513.5h2M518 509.5h34M556 509.5h15l1 1h10l1 1h9l1 -4l1 -1h25l1 -1h13l1 1h25l1 -1h12l1 1h4l1 -1l1 1h7l1 1h13l1 -1h11l1 1h28l1 -1h9l1 -1h13l1 -1h1l1 -1h8l1 1h1l1 1h2l1 2h10l1 -1h4l1 2h22l1 -1h2l1 1h8l1 -1h10l1 1h7l1 1h10l1 -9h4l1 1h21l1 1h1l1 1l1 1h2l1 1h2l1 1h33l1 -1h1l1 1h1l1 -1h6l1 -1h2l1 1h8l1 1h11l1 1h9l1 -1h5l1 1h4l1 -1l1 -1l1 -1h2l1 -2h6l1 -7l1 -6l1 -9h1" stroke="#ff7f50"/>
<path d="M23 504.5h13M45 503.5h16M66 503.5h3M72 504.5h8l1 -1h9M96 502.5h3l1 1h16l1 -1h23l1 1h7l1 1h3l1 1h13l1 -1l1 -6l1 -7l1 -1h4l1 1l1 7l1 6h1l1 -1h4l1 -1h2l1 -4l1 -5h6l1 1h4l1 1h6l1 -1h3l1 -1h3l1 -1h3l1 -1h1l1 -1l1 1h8l1 -1h7l1 -1h3l1 -9l1 -9h9l1 -1h3l1 2h3l1 -1h9l1 1h9l1 -1h5l1 1h15l1 -1h6l1 1l1 -1l1 2l1 2h7l1 1h5l1 1h2l1 -1h1l1 1h1M349 494.5h4M356 494.5h4l1 -1h1l1 -1h8l1 1h2l1 2l1 5l1 3h8l1 1h7l1 1h34l1 -1h16l1 -1h3l1 1h8M472 501.5h3M481 501.5h2M508 500.5h2M518 503.5h14l1 1h12l1 1h6M556 502.5h7l1 1h16l1 -1h1l1 -1l1 1h8l1 -2l1 -2h18l1 1h6l1 4h2l1 -1h10l1 -2h6l1 1h5l1 -1h6l1 -1h5l1 -1h2l1 1h6l1 -1h2l1 1h2l1 1h3l1 1h47l1 1h6l1 -1h12l1 1h12l1 -1h5l1 -1h1l1 -1h7l1 1l1 1h1l1 1h22l1 1h1l1 -1h7l1 1h7l1 -2l1 1h1l1 -1h2l1 -1h1l1 1l1 1h11l1 1h20l1 -13h4l1 2h3l1 -1l1 1h3l1 -1h1l1 1h7l1 1l1 1l1 1l1 1h1l1 1h1l1 1h1l1 1l1 1h1l1 1l1 2h14l1 -1h2l1 1h7l1 -1h11l1 -1h1l1 -1h1l1 1h4l1 1h35l1 -1h5l1 -1l1 1l1 -1l1 -1h6l1 -1h1l1 -7l1 -7l1 -10h1" stroke="#c71585"/>
<path d="M23 507.5h7l1 1h2l1 -1h2M45 507.5h16M66 507.5h3M72 507.5h9l1 1h2l1 -1h5M96 514.5h4l1 1h2l1 -1h7l1 -1h25l1 -1h6l1 1h4l1 -1h8l1 1h1l1 -1h5l1 -4l1 -6l1 -3l1 -1l1 2h3l1 1l1 3l1 6h9l1 -4l1 -3h15l1 -1h3l1 -1h4l1 -1h3l1 -1h3l1 -1h5l1 -1h15l1 -7l1 -1h3l1 -1h7l1 1h8l1 -1h5l1 1h39l1 2l1 -10l1 1l1 1h1l1 -1l1 1h12l1 1h2l1 1h1M349 504.5h4M356 503.5h18l1 2l1 1l1 2h15l1 1l1 2h35l1 -1h2l1 1h15l1 -1h7l1 1h1M472 511.5h3M481 510.5h2M508 509.5h2M518 513.5h18l1 -1h4l1 1h8l1 -1h1M556 506.5h9l1 1h4l1 -1h20l1 -1h1l1 -1h8l1 -1h11l1 1h4l1 2h6l1 -1h1l1 1h4l1 -3h1l1 1h20l1 -1h9l1 -1h5l1 1h3l1 1h12l1 1h9l1 1h4l1 1h2l1 -1h19l1 1h25l1 1h11l1 -1h1l1 -1h10l1 1h9l1 1h18l1 -1h8l1 -1h3l1 -1l1 6h4l1 1h10l1 -1h6l1 -1h3l1 1h1l1 -1h6l1 1h4l1 -7h14l1 1h11l1 1h3l1 1h3l1 1h1l1 1h5l1 1h17l1 -1h5l1 1h6l1 -1h2l1 1h8l1 2h18l1 -1h9l1 -1h9l1 1h1l1 -6l1 -1l1 -1h4l1 -1h3l1 -6l1 -6l1 -7h1" stroke="#6b8e23"/>
<path d="M23 501.5h10l1 -1h2M45 500.5l1 1h5l1 -1h7l1 1h1M66 501.5l1 -1h2M72 500.5h18M96 500.5h51l1 1h18l1 3l1 -6l1 -7l1 -1h1l1 -1h2l1 1l1 9l1 6h9l1 -4l1 -4h18l1 -1h2l1 -1h3l1 -1h3l1 -1h2l1 -2l1 -6h8l1 -1h6l1 -1h3l1 -1l1 -9l1 -9l1 -1h64l1 -1l1 1l1 8l1 1l1 2h7l1 1h4l1 1h5l1 1h1M349 492.5h4M356 492.5h18l1 2l1 3l1 3h8l1 1h6l1 1l1 2l1 1h20l1 -1h5l1 -1h16l1 2h6l1 -1h12M472 503.5h3M481 502.5h2M508 503.5h2M518 503.5h7l1 -1h4l1 1l1 1h20M556 500.5h36l1 2l1 -1h20l1 1h1l1 -1h2l1 2h6l1 -1h6l1 -1h3l1 -1h9l1 1h8l1 -1h12l1 -1h3l1 1h2l1 1h2l1 1h5l1 1h13l1 -1h20l1 -1h30l1 1h8l1 1h5l1 -1h1l1 -1l1 -1h6l1 1h1l1 1l1 1h9l1 1h30l1 -2l1 -2h2l1 1h10l1 1h2l1 -1h6l1 1h3l1 1h5l1 -1h6l1 -9h8l1 1h8l1 1h4l1 1h2l1 1h1l1 1h1l1 1h2l1 1h1l1 1h1l1 1h2l1 1h7l1 -1h9l1 1h16l1 -1h4l1 -1h2l1 1h8l1 -1h18l1 -1h5l1 1h3l1 -1h5l1 -2h1l1 -1h8l1 -9l1 -9l1 -12h1" stroke="#dda0dd"/>
<path d="M23 509.5h8l1 -1h4M45 507.5h2l1 1h10l1 -1h2M66 507.5h1l1 1h1M72 508.5h5l1 1h12M96 507.5h1l1 -1h3l1 1h22l1 -1h11l1 1h13l1 -1h9l1 -1h4l1 1l1 1l1 -6l1 -4l1 -1h4l1 2l1 4l1 7h9l1 -5l1 -4h4l1 -1h11l1 -1h1l1 1h1l1 -1h3l1 -1h1l1 -1h2l1 -1h2l1 -1l1 -2h3l1 -1h2l1 -1h10l1 -1h2l1 -8h4l1 1h8l1 -1h11l1 1h2l1 -1h7l1 1h14l1 -1h9l1 -1h3l1 -1h1l1 1l1 -4l1 1l1 1h13l1 1h4l1 2h1M349 506.5h4M356 505.5h5l1 -1h7l1 1h4l1 1l1 1l1 1h15l1 1l1 3h3l1 -1h16l1 1h6l1 -1h9l1 -1h8l1 1h9l1 1h7M472 513.5h3M481 512.5h2M508 512.5h2M518 509.5h7l1 1h10l1 -1h15M556 504.5h1l1 1h1l1 -1h14l1 1h9l1 -1l1 1h6l1 -2l1 -1h2l1 -1h11l1 1h10l1 5h10l1 1h2l1 -5h8l1 1h11l1 1h1l1 -1h3l1 1h2l1 -1h10l1 1h1l1 1h42l1 1h13l1 -1h11l1 1h2l1 -1h7l1 -1h7l1 -1h1l1 -1h1l1 -1h8l1 1l1 1h7l1 1h18l1 1h14l1 -1l1 7h4l1 1h5l1 -1h1l1 1h7l1 -1h19l1 -15l1 1h8l1 -1h1l1 1h3l1 1h5l1 1h2l1 1h2l1 1h2l1 1l1 -1l1 1h2l1 1l1 1h2l1 1h1l1 -1h4l1 1h8l1 1h18l1 -1h1l1 1h42l1 -1h3l1 1h2l1 4h6l1 -1h3l1 -2l1 -2l1 -4h1" stroke="#a0522d"/>
<path d="M23 507.5h3l1 1h9M45 509.5h16M66 509.5h3M72 509.5h8l1 -1h9M96 503.5h25l1 1h11l1 1h28l1 -1h3l1 3l1 -6l1 -3l1 -1h4l1 1l1 3l1 4h7l1 1h1l1 -1l1 -2h10l1 1l1 -1h8l1 -1h3l1 -1h3l1 -1h3l1 -2h7l1 -1h1l1 -1h7l1 1h3l1 -6l1 -11h7l1 -1h6l1 -1h32l1 1h18l1 1l1 2l1 1l1 1h2l1 1h7l1 1h4l1 -1h2l1 1h1M349 504.5h4M356 502.5h18l1 2l1 4l1 1h15l1 1l1 -2h38l1 -1h9l1 -1h11l1 1h3M472 511.5h3M481 511.5h2M508 512.5h2M518 507.5h2l1 -1h1l1 1h7l1 1h21M556 506.5h4l1 1h6l1 -1h8l1 1h7l1 -1h7l1 2l1 -1h13l1 -1h11l1 2h7l1 -1h5l1 -3h8l1 1h6l1 1h8l1 -1h2l1 -1h5l1 1h4l1 1h2l1 1h15l1 1h9l1 -1h45l1 1h5l1 -1h3l1 1h8l1 -1h1l1 -1h7l1 1h1l1 1h41l1 -1l1 -2h12l1 1h6l1 1h20l1 -10h2l1 1h6l1 -1h3l1 1h2l1 -1h1l1 1h7l1 1h2l1 1h1l1 1h1l1 1h2l1 1h2l1 -1h35l1 -1h3l1 1h6l1 1h25l1 1h4l1 1h3l1 -1h3l1 -1l1 2h1l1 -1h2l1 -1h5l1 -7l1 -5l1 -7h1" stroke="#a0522d"/>
<path d="M23 507.5h11l1 -1h1M45 506.5l1 1h11l1 1h3M66 508.5h3M72 508.5h5l1 -1h4l1 1h5l1 -1h1M96 507.5h10l1 -1h22l1 -1h8l1 1h4l1 -1h6l1 -1h4l1 1h8l1 -1h2l1 -6l1 -4l1 -1h2l1 1h1l1 1l1 5l1 6h7l1 1h1l1 5l1 -2h16l1 -1h4l1 -1h1l1 -1h5l1 -1h3l1 -13h6l1 -1h1l1 -1h3l1 -1h7l1 -7l1 -7h15l1 -1h10l1 1h21l1 1h10l1 -1h6l1 1l1 1l1 1l1 1h7l1 -1h5l1 1h4l1 1h1M349 501.5h1l1 1h2M356 506.5h6l1 -1h7l1 1h3l1 1l1 -2l1 1h4l1 -1h7l1 -1h2l1 2l1 2l1 1h4l1 -1h25l1 1h11l1 1h18l1 1h1M472 510.5h3M481 509.5h2M508 509.5h2M518 508.5l1 -1h5l1 -1h9l1 -1h11l1 1h5M556 505.5h7l1 1h18l1 1h4l1 -1h4l1 1l1 -1h1l1 -1h8l1 -1h14l1 2h10l1 1h2l1 -2h1l1 1h4l1 1h5l1 1h12l1 -1h12l1 1h1l1 -1h1l1 1h7l1 1h5l1 -1h14l1 -1h4l1 -1h53l1 1l1 -1h1l1 -1h5l1 -1h2l1 1h1l1 1h13l1 2h9l1 -1h11l1 1h1l1 -1h3l1 -1l1 3l1 1h31l1 1h7l1 -6h1l1 -1h13l1 1h5l1 1h5l1 1h2l1 1l1 1h3l1 1l1 -4h36l1 1h2l1 -1h1l1 1h12l1 1h33l1 -1h2l1 -1h5l1 -1h2l1 -5l1 -4l1 -7h1" stroke="#cd5c5c"/>
<path d="M23 500.5h9l1 1h3M45 501.5h4l1 -1h11M66 500.5h3M72 500.5h18M96 500.5h11l1 1h8l1 1h14l1 1h19l1 -1h4l1 -1l1 1h9l1 -6l1 -8l1 -2h4l1 1l1 9l1 9h9l1 -4l1 -3h5l1 -1h14l1 -1h4l1 -1h3l1 -1h2l1 -1l1 -9h10l1 -1h8l1 -1l1 -9l1 -6h1l1 -1h21l1 1h1l1 1h22l1 -1h12l1 1h4l1 1h1l1 1l1 1h4l1 1l1 -1h7l1 1h4l1 1h1M349 498.5h2l1 -1h1M356 498.5h3l1 1h7l1 -1h6l1 1l1 2l1 2h15l1 1l1 2h3l1 -1h60M472 503.5h3M481 502.5h2M508 503.5h2M518 498.5l1 1h33M556 500.5h37l1 -2h13l1 1h11l1 1h13l1 -1h23l1 -1h14l1 1h2l1 1h2l1 1h30l1 -1h30l1 1h25l1 -1h1l1 -1l1 -1h7l1 1l1 1h8l1 1h6l1 -1h25l1 -2l1 -2h8l1 1h2l1 -1l1 1h9l1 1h9l1 1h7l1 -8l1 1h4l1 1h3l1 1l1 -1h2l1 1h3l1 1h6l1 1h3l1 1h1l1 1h1l1 1h2l1 1l1 2h8l1 -1h3l1 1h5l1 1h2l1 -1h7l1 1h6l1 -2h11l1 1h9l1 -1h7l1 1h21l1 -1h2l1 -1h3l1 -1h4l1 -7l1 -8l1 -9h1" stroke="#b22222"/>
<path d="M23 503.5h7l1 1h5M45 503.5h2l1 1h9l1 1h3M66 505.5h3M72 505.5h6l1 1h11M96 503.5h14l1 -1h4l1 -1h51l1 -6l1 -8l1 -1h4l1 1l1 8l1 8h3l1 1h2l1 1h2l1 -5l1 -5h19l1 -1h3l1 -2h2l1 -1h2l1 -1h2l1 -1l1 -1h8l1 -1h4l1 -1h1l1 1h4l1 -8l1 -6h9l1 -1h56l1 1l1 -1l1 2l1 1h5l1 1h12l1 1h1M349 495.5h4M356 498.5h8l1 -1h9l1 2h1l1 2h7l1 1h8l1 -1h6l1 1h34l1 -1h10l1 1h11M472 503.5h3M481 502.5h2M508 502.5l1 -1h1M518 500.5h16l1 1h7l1 -1h2l1 1h2l1 -1h1l1 -1h1M556 500.5h4l1 1h8l1 1h3l1 -1h4l1 -1h3l1 1h1l1 -1h8l1 -2h25l1 2h13l1 -1h14l1 -1h9l1 -1l1 1h12l1 1h4l1 1h7l1 1h9l1 1h36l1 1h12l1 -1h11l1 -1h7l1 -1h1l1 -1h3l1 -1h4l1 1h1l1 1l1 1h14l1 1h17l1 -1h7l1 -3l1 -4l1 1h7l1 1h8l1 1h8l1 1h12l1 1l1 -8l1 1h4l1 1h6l1 2h2l1 -1h1l1 1h3l1 1h3l1 1h1l1 1h1l1 1h1l1 1h1l1 1h1l1 1l1 3h28l1 -1h7l1 -1h3l1 -1h3l1 1h4l1 1h10l1 1h9l1 -1h7l1 -1h9l1 1l1 -1h1l1 -1h3l1 -1h1l1 1h2l1 -7l1 -7l1 -9h1" stroke="#8b008b"/>
<path d="M23 500.5h13M45 500.5h16M66 500.5h3M72 500.5h2l1 1h15M96 501.5h11l1 -1h1l1 1h54l1 1h2l1 -6l1 -9l1 -1h4l1 1l1 9l1 7h9l1 -5l1 -5h13l1 -1h6l1 -1h3l1 -1h3l1 -1l1 -1h2l1 -2l1 -1h3l1 -1h3l1 1h5l1 -1h4l1 1h1l1 -9l1 -11h1l1 -1h43l1 -1h14l1 1h6l1 4l1 1l1 1h4l1 1h2l1 -1h8l1 1h1l1 1h1M349 494.5h4M356 493.5h6l1 -1h1l1 1h9l1 1l1 5l1 2h12l1 1h2l1 1h15l1 -1h5l1 1h10l1 -1h6l1 1h8l1 -1h2l1 1h5l1 -1h7M472 500.5h3M481 498.5h2M508 498.5h2M518 499.5h12l1 1h21M556 502.5l1 -1h17l1 -1h3l1 1h6l1 -1h1l1 1h5l1 -1h2l1 1h8l1 -2h5l1 1h6l1 1l1 -1h13l1 -1h7l1 1h5l1 -1h8l1 -1h2l1 -1h14l1 1h2l1 1h1l1 1h27l1 1h36l1 -1h10l1 1h10l1 -1h1l1 -1h7l1 1l1 1l1 1h41l1 -3l1 -3h1l1 -1h5l1 1h9l1 1h6l1 1h15l1 -8h2l1 1l1 1h8l1 1h2l1 1h1l1 -1h6l1 1h1l1 1h2l1 1h1l1 1h1l1 1h1l1 1l1 1h36l1 -1l1 -1h6l1 1h2l1 1h40l1 -1l1 -1l1 -1h7l1 -1h1l1 -10l1 -10l1 -13h1" stroke="#c71585"/>
<path d="M23 509.5h5l1 -1h7M45 508.5h5l1 1h6l1 -1h3M66 508.5h3M72 509.5h18M96 506.5h3l1 1h3l1 1h8l1 -1h16l1 1h8l1 -1h8l1 1h19l1 -6l1 -3l1 -1h5l1 4l1 3h8l1 1l1 -4l1 -3h10l1 -1h4l1 -1h6l1 -1h3l1 -1h4l1 -1l1 -1l1 2h2l1 -2h1l1 1l1 -1h5l1 -1h8l1 -7l1 -3h12l1 -1h5l1 1h5l1 -1h23l1 1h11l1 -1h3l1 1h1l1 1h1l1 1l1 1h18l1 1h1M349 499.5h4M356 503.5h2l1 -1h14l1 -1l1 1l1 1l1 1h4l1 1h4l1 1h5l1 1l1 2h7l1 -1h7l1 -1h17l1 -1h30M472 508.5h3M481 506.5l1 1h1M508 507.5h2M518 512.5h18l1 -1h15M556 503.5h3l1 1h13l1 -1h1l1 1h16l1 -1l1 -1h2l1 1h3l1 1h4l1 -1h19l1 -1h7l1 2h16l1 2h5l1 -1h4l1 -1h16l1 1h25l1 1h12l1 1h4l1 1h33l1 -1h6l1 1h2l1 -1h1l1 -1h8l1 1h1l1 1h11l1 1h6l1 -1h9l1 1h8l1 -1h2l1 -1l1 -6h4l1 1h1l1 -1h5l1 -1l1 1h6l1 1h6l1 1h1l1 1h10l1 -1h9l1 1h7l1 -1h7l1 1h6l1 1h3l1 -2h7l1 1h1l1 1h4l1 -1h5l1 1h10l1 -1h3l1 -1h1l1 -1h1l1 1h2l1 1h1l1 -1h3l1 1h2l1 1h9l1 1h5l1 -1h7l1 -1h10l1 -1h1l1 -1l1 -1h1l1 -1h6l1 -1h1l1 -7l1 -6l1 -9h1" stroke="#ff7f50"/>
<path d="M23 515.5h6l1 1h6M45 515.5h10l1 1h5M66 516.5h3M72 516.5h1l1 -1h4l1 1h9l1 -1h1M96 509.5h2l1 1h16l1 -1h14l1 -1h13l1 -1h1l1 1l1 -1h5l1 2h7l1 -1h5l1 -5l1 -3l1 -1h4l1 1l1 4l1 7h5l1 -1h3l1 1l1 -2h5l1 -1h8l1 1h4l1 -1l1 1h3l1 -1h3l1 -1h1l1 -1h2l1 -7h1l1 -1h2l1 -1h5l1 1h3l1 -1h1l1 1l1 -1h2l1 -7l1 -1h5l1 -1h2l1 -2h6l1 1h18l1 1h16l1 -1h2l1 -1h7l1 1h3l1 2l1 1l1 2l1 2h7l1 1l1 -1h9l1 1h1M349 503.5h4M356 507.5h1l1 1h15l1 -1l1 1l1 3l1 1h8l1 -1h6l1 1l1 -3h4l1 1h21l1 1h37M472 517.5h3M481 515.5h2M508 517.5h2M518 512.5l1 1h7l1 -1h4l1 1h7l1 -1h6l1 -1h3l1 -1h1M556 509.5h5l1 1h14l1 -1h15l1 -5l1 -1h7l1 1h3l1 -1h13l1 3h9l1 1h3l1 1h8l1 1h11l1 1h8l1 1h7l1 -1l1 1h10l1 1h10l1 -1h7l1 1h12l1 -1h18l1 -1h1l1 2h29l1 -1l1 -1h10l1 1h13l1 1h10l1 -1h9l1 1h7l1 -6h1l1 1h10l1 -1l1 1h1l1 -1h14l1 -1l1 1h3l1 -1h13l1 1h15l1 1h1l1 1h3l1 1l1 1l1 -1h2l1 1l1 -4h2l1 1h14l1 1h4l1 -1h11l1 1h4l1 1h9l1 -1h4l1 1h2l1 -1h22l1 -2h5l1 1h2l1 2h2l1 -1l1 -1h6l1 -3l1 -3l1 -4h1" stroke="#d2691e"/>
<path d="M23 504.5h6l1 -1h6M45 503.5h16M66 504.5h3M72 504.5h2l1 1h10l1 1h4M96 506.5h12l1 -1h6l1 1h10l1 -1h3l1 1h35l1 -1l1 -6l1 -7l1 -1h4l1 1l1 7l1 6h3l1 -1h5l1 -2l1 -3h1l1 1h3l1 -1h1l1 -1h16l1 -1h1l1 -1h1l1 -1h3l1 -1l1 -4h4l1 -1h7l1 1h2l1 -1h4l1 -8l1 -2h12l1 1h5l1 -1h5l1 -1h41l1 1l1 -2l1 1l1 1h3l1 1h10l1 1h1l1 -1h1l1 1h1M349 494.5h4M356 502.5h18l1 1l1 -1l1 2h11l1 1h31l1 -1h10l1 1h9l1 1h16M472 509.5h3M481 508.5l1 -1h1M508 506.5h2M518 505.5h2l1 -1h5l1 1h5l1 1h2l1 -1h10l1 -1h5M556 503.5h19l1 1h1l1 1h14l1 -2l1 -1h20l1 1h4l1 4h13l1 -2h1l1 1h21l1 -1h20l1 -1l1 1h2l1 -1h74l1 1h4l1 1h3l1 -1h1l1 -1h7l1 1h2l1 1h7l1 1h20l1 -1h10l1 1l1 -1l1 -6l1 1h4l1 -1l1 1h8l1 1h8l1 1h8l1 -1l1 1h5l1 -7h3l1 1h4l1 1h12l1 1h3l1 1h2l1 1l1 -1l1 1h2l1 1h2l1 -1h8l1 -1h5l1 1h10l1 -1h11l1 -1h1l1 -1l1 1h4l1 1h42l1 -1h2l1 -1h7l1 1l1 -9l1 -9l1 -12h1" stroke="#ff00ff"/>
<path d="M23 506.5h11l1 1h1M45 506.5h16M66 506.5h3M72 506.5h18M96 504.5h5l1 -1h5l1 1h8l1 1h3l1 1h21l1 -1h8l1 -1h9l1 1h4l1 2l1 -6l1 -2l1 -1h2l1 -1h1l1 1l1 4l1 3h1l1 -1h8l1 -2h3l1 -1l1 1h1l1 -1h4l1 1h2l1 -1h6l1 -1h1l1 -1h4l1 -1h3l1 -1l1 -2h20l1 -7l1 -7h3l1 -1h16l1 1h5l1 -1h11l1 1h27l1 1l1 -3l1 1l1 1h7l1 1h6l1 -1h3l1 1h1M349 503.5h4M356 500.5h18l1 2l1 4l1 2h3l1 -1h11l1 1l1 1l1 -1h5l1 1h14l1 1h10l1 -1h14l1 1h7l1 -1h3l1 1h4M472 507.5h3M481 505.5h2M508 506.5h2M518 506.5h18l1 -1h8l1 1l1 -1h5M556 503.5h17l1 1h6l1 1h9l1 1h1l1 -3l1 -1h4l1 1h1l1 -1h7l1 1h10l1 6h11l1 -1h1l1 -4h4l1 -1h11l1 -1h5l1 -1h17l1 1h4l1 1h3l1 1h8l1 -1h22l1 1h5l1 1h10l1 -1h4l1 1h4l1 -1h14l1 1h8l1 -1l1 -1h9l1 1l1 -1l1 1h40l1 -2l1 2h4l1 1h8l1 -1l1 1h25l1 -9h6l1 1h12l1 1h5l1 1h2l1 1h2l1 1h1l1 1h4l1 1h7l1 1h4l1 -1h3l1 1h1l1 1h15l1 -1h2l1 1h9l1 1h32l1 -1h6l1 1l1 -1h9l1 -7l1 -5l1 -7h1" stroke="#e9967a"/>
<path d="M23 510.5h13M45 509.5h8l1 -1h2l1 1h4M66 508.5h3M72 508.5h2l1 1h2l1 -1h12M96 507.5h3l1 -1h4l1 1h6l1 -1h12l1 1h8l1 1h8l1 -1h10l1 1h12l1 4l1 -6l1 -2l1 -1h4l1 1l1 3l1 1h9l1 -1l1 -3h4l1 -1h5l1 -1h7l1 1h2l1 -1h5l1 -1h2l1 -1h1l1 -1l1 2h5l1 -1h6l1 -1h4l1 -1l1 -1h1l1 -7l1 -2h18l1 1h11l1 -1h16l1 1h11l1 -1h1l1 1h1l1 -1h2l1 2l1 -10h1l1 1h1l1 1h10l1 1h3l1 1h1l1 1h1M349 501.5h4M356 504.5h18l1 2l1 -1l1 1h15l1 1l1 7h5l1 -1h13l1 -1h7l1 -1h9l1 1h10l1 1h4l1 -1h10M472 508.5h3M481 508.5l1 -1h1M508 508.5h2M518 510.5h34M556 505.5h1l1 1h2l1 -1h11l1 1h5l1 1h14l1 -1h25l1 2h8l1 -2h4l1 -2l1 1h11l1 -1h26l1 1h1l1 1h3l1 1h7l1 -1h3l1 1h8l1 -1h20l1 1h12l1 -1h20l1 1h9l1 -1h1l1 -1h2l1 -1h6l1 1l1 1h14l1 -1h10l1 1h3l1 -1h5l1 1h6l1 -2h4l1 -1l1 1h1l1 -1h15l1 1h4l1 1h6l1 1h4l1 -5h5l1 1h15l1 1h4l1 1h2l1 1h3l1 1h2l1 3h21l1 1h5l1 -1h3l1 1h9l1 -1h5l1 1h40l1 -1l1 -3l1 -1l1 -1h6l1 -1h1l1 -6l1 -6l1 -8h1" stroke="#a0522d"/>
<path d="M23 500.5h13M45 500.5h16M66 501.5h3M72 502.5h7l1 -1h6l1 1h3M96 504.5h1l1 -1l1 1h43l1 -1h9l1 1h13l1 -1l1 -6l1 -8l1 -1h4l1 1l1 8l1 6h9l1 -7l1 -4h18l1 -1h2l1 -1h3l1 -1h2l1 -1h3l1 -2l1 2l1 -1h6l1 -1h12l1 -8l1 -8h6l1 1h18l1 -1h12l1 1h14l1 1h12l1 1l1 -7l1 1l1 1h4l1 -1l1 1h3l1 1h8l1 1h1M349 496.5h4M356 492.5h18l1 2l1 4l1 3h10l1 1h4l1 1h20l1 -1h4l1 1h4l1 -1h8l1 1h4l1 -1h18l1 1h1M472 503.5l1 -1h2M481 500.5h2M508 500.5h2M518 498.5l1 1h33M556 500.5h16l1 1h18l1 1h1l1 -1h4l1 -1h10l1 -1h4l1 1h1l1 -2h2l1 2h13l1 -2h3l1 1h1l1 -1h15l1 -1h3l1 -1h11l1 1h1l1 1h1l1 1h2l1 1h9l1 1h10l1 -1h66l1 -1l1 1l1 -1h8l1 1l1 1l1 1h5l1 -1h3l1 1h30l1 -3l1 1h1l1 1h4l1 -1h1l1 1h2l1 1h3l1 -1h1l1 1h22l1 -8h2l1 1h4l1 1h7l1 1l1 -1l1 1h3l1 -1h1l1 1h1l1 1h1l1 1l1 1h1l1 1h1l1 1h1l1 1h1l1 -2h12l1 -1h14l1 1h2l1 -1h6l1 -1h1l1 -1l1 1h4l1 1h3l1 1h2l1 -1h35l1 -1h1l1 -2h2l1 -1h6l1 -10l1 -10l1 -14h1" stroke="#b22222"/>
<path d="M23 508.5h10l1 1h2M45 508.5h16M66 509.5h3M72 509.5l1 1h10l1 -1h6M96 507.5h2l1 1h19l1 -1h18l1 -1h6l1 1h18l1 -2h3l1 -6l1 -4l1 -1h4l1 1l1 5l1 11h9l1 -2l1 -2h16l1 -1h7l1 -1h6l1 -1l1 1l1 -2h2l1 -1h7l1 -1h5l1 -1h2l1 1l1 -8l1 -13h8l1 -1h5l1 1h3l1 -1h8l1 1h20l1 -1h10l1 1h6l1 1l1 -2l1 1l1 2h6l1 1h2l1 -1h4l1 1h3l1 2h1M349 510.5h4M356 507.5h18l1 1l1 -4l1 2l1 -2h9l1 1h4l1 2l1 8h4l1 -1h20l1 -1h5l1 -1h11l1 2h20M472 513.5h3M481 512.5l1 1h1M508 514.5h2M518 513.5h8l1 -1h25M556 504.5h6l1 1h8l1 2h20l1 2l1 -1h5l1 -1h8l1 1h1l1 -1h6l1 -1h1l1 -1h3l1 -1h9l1 1h1l1 1h15l1 1h1l1 1h1l1 -1l1 1h2l1 -1h15l1 1h6l1 1h34l1 -1h18l1 -1h9l1 1h12l1 1h5l1 -1h2l1 -1h7l1 1h1l1 1h10l1 -1h9l1 -1h20l1 -1l1 4h5l1 1h13l1 -1h2l1 1h4l1 -1h11l1 1l1 -10h4l1 1h4l1 1h7l1 -1h6l1 1h3l1 1h3l1 1h37l1 1h3l1 -1h1l1 1l1 1h7l1 -1h6l1 1h22l1 1h10l1 -1l1 -1h2l1 -1h6l1 -5l1 -5l1 -6h1" stroke="#ff7f50"/>
<path d="M23 510.5h13M45 510.5h16M66 509.5h3M72 509.5h1l1 1h14l1 -1h1M96 516.5h4l1 -1h4l1 1h8l1 -1h4l1 -1h24l1 -1h8l1 -1h8l1 -1h3l1 -6l1 -6l1 -3l1 -1h4l1 1l1 4l1 12h5l1 -1h3l1 -6l1 -2l1 1h6l1 -1h5l1 1h5l1 -1h9l1 -1h3l1 -2h2l1 -1h6l1 -1h8l1 -1h1l1 -7l1 -3l1 1h12l1 -1h9l1 -1h3l1 1h25l1 -2h12l1 1l1 -2h1l1 1h5l1 1h12l1 1h1M349 503.5h4M356 503.5l1 -1h17l1 1l1 5l1 1h15l1 2l1 -1h5l1 -1h9l1 1h1l1 1h9l1 -1h4l1 1h9l1 1h1l1 -1h11l1 -1h7M472 514.5h3M481 512.5l1 1h1M508 516.5h2M518 514.5h12l1 1h14l1 -1h6M556 511.5h6l1 -1h29l1 -1l1 -1h1l1 1h7l1 1h13l1 -1h1l1 -2h3l1 1h9l1 2l1 1h30l1 -1h2l1 -1h1l1 -1h2l1 1h8l1 1h2l1 -1h5l1 1h3l1 -1h47l1 1h2l1 1h5l1 -1h11l1 1l1 -1h1l1 -1h8l1 1h2l1 1h4l1 -1h19l1 -1h10l1 2h6l1 -1h24l1 1h2l1 -1h6l1 1h4l1 -8h1l1 1h25l1 1h2l1 1h2l1 1h2l1 2h14l1 1h7l1 -1h27l1 1h9l1 1h29l1 -2h5l1 -1h3l1 -2l1 -2l1 -3h1" stroke="#808000"/>
<path d="M23 507.5h7l1 1h2l1 -1h2M45 506.5h6l1 1h9M66 507.5h1l1 -1h1M72 506.5h2l1 -1h15M96 504.5h4l1 1h17l1 -1h19l1 -1h20l1 1h6l1 4l1 -6l1 -3l1 -1h4l1 1l1 4l1 4l1 -1h8l1 -1l1 -3h24l1 -1h3l1 -1h1l1 -1h1l1 -1l1 -4l1 -1h10l1 -1h8l1 -7l1 -6h4l1 1h31l1 -1h4l1 -1h3l1 1h8l1 -1h8l1 -1h2l1 1l1 -2l1 1l1 1h1l1 -1h7l1 1h7l1 1l1 1h1M349 500.5h4M356 501.5h7l1 -1h10l1 2l1 1l1 1h5l1 1h9l1 1l1 1h22l1 1h10l1 -1h13l1 1h9l1 -1h6M472 510.5h3M481 509.5h2M508 509.5h2M518 505.5h3l1 1h7l1 -1h3l1 1h18M556 504.5h1l1 1h6l1 -1h2l1 1h24l1 -1l1 -1h15l1 1h5l1 1h4l1 -1h12l1 -1h14l1 1h9l1 -1h3l1 1h14l1 1h5l1 -1h3l1 -1h25l1 1h3l1 -1h9l1 1h4l1 1h6l1 -1h6l1 -1h3l1 1h8l1 -1h6l1 -1l1 1h7l1 -1h1l1 1l1 1h5l1 1h3l1 -1h31l1 -1l1 -2l1 1h1l1 -1h1l1 1h12l1 1h15l1 1h2l1 -1h3l1 -1h22l1 1h5l1 1h3l1 1h2l1 1l1 -1h32l1 1h4l1 -1h16l1 1h8l1 -1h25l1 -3l1 -1h2l1 -1h6l1 -7l1 -6l1 -9h1" stroke="#808000"/>
<path d="M23 504.5h13M45 503.5h16M66 504.5h3M72 504.5h5l1 1h10l1 -1h1M96 505.5h7l1 -1h2l1 2h7l1 1h7l1 -1h26l1 -1h3l1 1h13l1 -6l1 -6l1 -1h1l1 -1h2l1 1l1 6l1 3h10l1 -3h3l1 1h10l1 -1h6l1 -1l1 1h3l1 -1h3l1 -1h1l1 -1l1 -1l1 -1l1 -1h3l1 -1h8l1 -1l1 -1h4l1 -8l1 -15h44l1 1h14l1 1h6l1 1l1 4l1 1l1 1h8l1 1h2l1 -1h5l1 1l1 1h1M349 498.5h4M356 496.5h4l1 -1h11l1 -1h1l1 2l1 5l1 2h16l1 1l1 1h1l1 1h25l1 -1h1l1 -1h5l1 1h24l1 -1h2M472 504.5h3M481 502.5h2M508 502.5h2M518 505.5h34M556 502.5h36l1 -2l1 -1h11l1 1h7l1 -1h5l1 1h13l1 2h1l1 1h9l1 -1h8l1 1l1 -1h9l1 -1h9l1 1h3l1 1h1l1 1h19l1 1h9l1 -1h8l1 -1h2l1 1h8l1 -1h32l1 -1h1l1 -1h1l1 1h6l1 1l1 1h1l1 1h10l1 1h8l1 -1h16l1 1h3l1 -2l1 -2h10l1 -1h6l1 2h6l1 -1h5l1 1h6l1 1h2l1 -6h1l1 -1h7l1 1h13l1 1h2l1 1l1 -1h1l1 1h2l1 1h1l1 1h1l1 1h9l1 1h13l1 -1h1l1 1h11l1 -1h2l1 1h3l1 -1l1 1h22l1 2h14l1 1h4l1 -1l1 -2l1 -1l1 -1h7l1 -1l1 -7l1 -7l1 -10h1" stroke="#dc143c"/>
<path d="M23 500.5h13M45 500.5h16M66 500.5h3M72 500.5h18M96 500.5h58l1 1h11l1 -1l1 -6l1 -8l1 -2h4l1 2l1 8l1 8h9l1 -5l1 -4h18l1 -1h2l1 -1h3l1 -1h3l1 -1h2l1 -2l1 -3h10l1 -1h8l1 -1l1 -8l1 -5h8l1 -1h17l1 1h9l1 -1h10l1 1h10l1 1h7l1 1l1 -7l1 1l1 1h3l1 1h4l1 1h8l1 1l1 1h1M349 497.5h4M356 496.5h13l1 -1h4l1 3l1 3l1 2h15l1 1l1 -2h3l1 -1h7l1 -1h4l1 1h18l1 -1h19l1 1h8M472 500.5h3M481 499.5h2M508 498.5h2M518 500.5h3l1 -1h25l1 1h4M556 501.5h1l1 1h2l1 1h31l1 -3l1 -1h5l1 -1h19l1 4h6l1 1h5l1 -1l1 -3h12l1 -1h7l1 1l1 -1l1 1h1l1 -1h5l1 1h10l1 1h2l1 1h5l1 1h8l1 -1h13l1 -1h8l1 1h15l1 -1h32l1 -1h1l1 -1h9l1 1l1 1h17l1 1h18l1 -1h4l1 -2l1 -1h2l1 1h11l1 1h4l1 1h9l1 1h2l1 1h1l1 -1h1l1 -1h3l1 -10h8l1 1h6l1 1h8l1 1l1 1h1l1 1h1l1 1h1l1 1h1l1 1l1 1l1 1l1 1h3l1 1h20l1 -1h13l1 -1h2l1 -1h1l1 1h3l1 1h4l1 -1h18l1 1h15l1 1l1 -1l1 1l1 -1l1 -1h1l1 -1h2l1 -1h3l1 -9l1 -9l1 -12h1" stroke="#6495ed"/>
<path d="M23 506.5h13M45 504.5h12l1 1h3M66 505.5h3M72 505.5h18M96 502.5h1l1 1h11l1 1h18l1 -1h23l1 -1h11l1 1h2l1 -6l1 -6l1 -1h4l1 1l1 7l1 8h5l1 1h3l1 -3l1 -3h20l1 -1h1l1 -1h2l1 -1l1 -1l1 -1h3l1 -1h1l1 -9l1 -1h3l1 -1h15l1 -8l1 -2h7l1 -1h35l1 1h8l1 1h4l1 -1h7l1 1l1 1l1 -4l1 1l1 2h1l1 -1h8l1 1l1 -1h6l1 1h1M349 499.5h4M356 497.5l1 1h1l1 -1h12l1 -1h2l1 2l1 4l1 2h2l1 -1h12l1 1l1 1h64M472 504.5h3M481 504.5h2M508 504.5h2M518 505.5h34M556 501.5h7l1 1h9l1 1l1 -1h17l1 -2l1 -1h25l1 1h11l1 1h10l1 -1h16l1 -1h4l1 2h11l1 1h4l1 1h8l1 -1h14l1 -1h10l1 1h22l1 -1h20l1 1h5l1 -1h1l1 -1h1l1 1h5l1 1h1l1 1l1 1h23l1 1h16l1 -3h2l1 1h1l1 -1h4l1 1h1l1 -1h8l1 1h4l1 1h1l1 1h13l1 -12h9l1 1h6l1 1h7l1 1h1l1 1h1l1 1h1l1 1l1 1h1l1 1h1l1 1l1 1h11l1 -1h3l1 -1h13l1 1h7l1 -1h4l1 1h39l1 -1h5l1 -1l1 3l1 1l1 -1h4l1 -1l1 1h1l1 -1l1 -5l1 -6l1 -7h1" stroke="#ff6347"/>
<path d="M23 503.5h13M45 502.5l1 -1h15M66 500.5l1 1h2M72 502.5h6l1 1h11M96 507.5l1 -1h19l1 1h26l1 -1h4l1 -1h6l1 1h2l1 1l1 -1h4l1 1h1l1 -3l1 -6l1 -7l1 -1h4l1 1l1 7l1 7h1l1 1h3l1 -1h3l1 -7l1 -5h2l1 -1h8l1 2h5l1 -2h3l1 -1h2l1 -1h1l1 -1h1l1 1l1 -1h2l1 -1l1 1h1l1 -1h15l1 -1h2l1 -8l1 -3h13l1 -1h9l1 -1h5l1 -1h36l1 1l1 -1l1 1l1 1h5l1 1h12l1 1h1M349 499.5h4M356 495.5l1 1h1l1 -1h12l1 -1h2l1 2l1 5l1 2h1l1 1h2l1 -1h10l1 1l1 -3h26l1 1h21l1 -1h15M472 503.5h3M481 503.5h2M508 503.5h2M518 504.5h10l1 -1h9l1 1h13M556 503.5h3l1 -1h8l1 -1h4l1 1h7l1 1h6l1 -1h3l1 1l1 -1h6l1 1h7l1 -1h7l1 1h2l1 2h13l1 -3h6l1 -1h1l1 1h4l1 -1h9l1 -1h17l1 1h2l1 1l1 -1h25l1 1h4l1 1h18l1 1h36l1 -1h1l1 -1h8l1 1h1l1 1h2l1 1h37l1 -2h4l1 1l1 -1h8l1 1h8l1 1h9l1 -1h6l1 -1l1 -11h6l1 1h4l1 1h3l1 1h4l1 1h4l1 1h1l1 1h1l1 1h1l1 1h1l1 1h1l1 1h8l1 1h29l1 -1h6l1 1h16l1 -1h17l1 1h8l1 -1l1 2l1 -1l1 -1h6l1 -1h1l1 -6l1 -6l1 -9h1" stroke="#b22222"/>
<path d="M23 504.5h13M45 504.5h16M66 504.5h3M72 504.5h5l1 1h12M96 504.5h6l1 -1h17l1 1h7l1 -1h8l1 1h21l1 -1h7l1 -7l1 -8l1 -1h4l1 1l1 8l1 6h9l1 -6l1 -4h18l1 -1h2l1 -1h6l1 -1h3l1 -2l1 -1h6l1 -1h5l1 -1h2l1 -1h4l1 -9l1 -8h15l1 1h19l1 -1h8l1 -1h9l1 1h11l1 1l1 2l1 1l1 1h8l1 1h9l1 1h1M349 494.5h4M356 495.5h7l1 -1h10l1 2l1 2l1 3h16l1 1h13l1 -1h5l1 -1h10l1 1h6l1 1h10l1 -1h15M472 501.5h3M481 499.5h2M508 498.5h2M518 500.5h8l1 1h25M556 503.5h1l1 1h30l1 1h3l1 -3l1 -1h20l1 -1h4l1 1h13l1 1l1 -2h10l1 -1h11l1 -1h7l1 1h6l1 -1l1 1h2l1 1h3l1 1h27l1 1h4l1 -1h52l1 -1h1l1 -1h4l1 1h2l1 1h1l1 1l1 1h5l1 -1h3l1 1h4l1 1h4l1 -1h2l1 -1h7l1 1h7l1 1h1l1 -2l1 -1l1 1h8l1 1h14l1 1h3l1 -1h5l1 1h2l1 -1h2l1 -9h9l1 1h8l1 1h2l1 -1h2l1 1h2l1 1h1l1 1l1 1l1 1h1l1 1h2l1 -1h21l1 1h1l1 1h6l1 -1h6l1 -1h6l1 1h3l1 -1h3l1 1h5l1 1h29l1 -1l1 -1l1 -1l1 -1h5l1 -1h2l1 -10l1 -10l1 -13h1" stroke="#e9967a"/>
<path d="M23 507.5h5l1 1h7M45 506.5h5l1 1h4l1 1h5M66 509.5h3M72 509.5h4l1 -1h3l1 1h4l1 -1h4M96 505.5h4l1 -1h20l1 1h8l1 -1h3l1 2h4l1 -1h5l1 -1h3l1 -1h6l1 1h10l1 -6l1 -4l1 -1h4l1 1l1 6l1 6h9l1 -2l1 -2h5l1 -1h2l1 1h9l1 -1h4l1 -1h3l1 -1h3l1 -1h1l1 -4h2l1 -1h9l1 -1h3l1 -1h3l1 -8l1 1h6l1 1h7l1 -1h7l1 1h7l1 -1h18l1 -1h8l1 1h4l1 -1h2l1 1l1 -6l1 1h6l1 1h4l1 1h9M349 504.5h2l1 1h1M356 504.5l1 -1h4l1 -1h1l1 1h3l1 -1h6l1 1l1 2l1 1h10l1 1h2l1 1h1l1 2h22l1 -1h5l1 -1h36M472 507.5h3M481 507.5h2M508 508.5h2M518 510.5h32l1 -1h1M556 505.5h9l1 1h9l1 -1h1l1 1h11l1 1h2l1 1l1 -1h13l1 -1h11l1 -1h6l1 -1h19l1 -1h2l1 1h5l1 -1h2l1 1h6l1 -1h10l1 1h47l1 2h11l1 1h11l1 -1h3l1 1h13l1 -1h1l1 -1h7l1 1h1l1 1h6l1 1h26l1 -1h7l1 -1l1 -2h3l1 1l1 -1h9l1 -1h8l1 1h4l1 1h11l1 -3h4l1 -1h7l1 1h12l1 1h3l1 1l1 1h3l1 1h1l1 -1h24l1 1h22l1 1h6l1 -1h2l1 -1h13l1 1h3l1 1h14l1 -1l1 -1h4l1 -1h3l1 -5l1 -6l1 -7h1" stroke="#a0522d"/>
<path d="M23 500.5h13M45 500.5h16M66 500.5h3M72 500.5h18M96 501.5l1 1h19l1 1h34l1 -1h6l1 1h4l1 -1h2l1 -2l1 -6l1 -8l1 -1h4l1 1l1 9l1 9l1 1h8l1 -6l1 -4h5l1 -1h4l1 1h3l1 -1h4l1 -1h3l1 -1h4l1 -1h2l1 -1l1 -1l1 -2h2l1 -1h8l1 -1h1l1 1h3l1 -1h2l1 -8l1 -5h38l1 -1h5l1 1h21l1 1l1 -7h1l1 1h2l1 1h8l1 1h6l1 1h1M349 496.5h4M356 494.5l1 -1h7l1 -1h9l1 2l1 3l1 3h7l1 1h8l1 3h22l1 -1h9l1 -1h5l1 -1h15l1 1h9M472 500.5h3M481 498.5h2M508 498.5h2M518 502.5h9l1 1h15l1 1h8M556 501.5h3l1 -1h6l1 1h2l1 -1h23l1 -2h25l1 2h13l1 -1l1 -1h20l1 -1h12l1 -1h3l1 1h1l1 1h2l1 1h1l1 1h85l1 -1l1 -1h9l1 1l1 1h1l1 1h4l1 1h19l1 -1h15l1 -2l1 -5l1 1h7l1 1h8l1 1h8l1 1h13l1 -8h8l1 1h4l1 1h5l1 1h4l1 1h1l1 1h1l1 1l1 1h1l1 1l1 1h1l1 1l1 1l1 2h6l1 -1h14l1 -1h10l1 1h3l1 -1h2l1 -1l1 1h4l1 1h3l1 1h26l1 -1h8l1 -1h3l1 -3l1 -1l1 -1h8l1 -10l1 -10l1 -14h1" stroke="#87cefa"/>
<path d="M23 504.5h9l1 1h3M45 505.5h16M66 505.5h3M72 505.5h5l1 1h12M96 504.5h9l1 1h4l1 -1h5l1 1h9l1 -1h1l1 1h5l1 1h6l1 -1h19l1 1h5l1 -7l1 -5l1 -1h4l1 1l1 5l1 5h10l1 -4h2l1 1h6l1 1h7l1 -1h4l1 -1h2l1 -1h3l1 -1h3l1 -1h9l1 -1h9l1 -1l1 -7l1 -8h3l1 -1h3l1 1h16l1 -1h7l1 -1h5l1 1h4l1 -1h2l1 1h11l1 1h7l1 1l1 -7l1 2l1 1h1l1 -1h8l1 1h6l1 -1l1 1h1M349 502.5h4M356 497.5h4l1 -1h2l1 1h10l1 2l1 4l1 2h16l1 4h39l1 -1h3l1 1h18l1 -1h1M472 507.5l1 -1h2M481 505.5h2M508 507.5h2M518 503.5h1l1 1h18l1 1h5l1 -1h7M556 502.5h5l1 1h10l1 1h19l1 1l1 -1h25l1 4h11l1 -2h1l1 -3h4l1 1h19l1 -1h13l1 1h3l1 1h4l1 -1h4l1 -1h14l1 1h16l1 -1h3l1 1h32l1 1h2l1 1h4l1 -1h1l1 -1h1l1 -1h6l1 1h2l1 1h32l1 1h9l1 -2l1 -3h5l1 1h1l1 -1h4l1 1h8l1 1h4l1 1h5l1 -1h7l1 -8h2l1 1h7l1 1h1l1 -1h12l1 1h2l1 1h2l1 1h1l1 1h1l1 1l1 2h7l1 1h3l1 -1h59l1 1h6l1 -1h10l1 -1h1l1 -1h4l1 -1h1l1 1h1l1 -6l1 -7l1 -8h1" stroke="#00ff00"/>
<path d="M23 502.5h7l1 -1h5M45 502.5h9l1 -1h6M66 501.5h3M72 501.5h18M96 504.5h1l1 1h12l1 -1h12l1 1h3l1 -1h38l1 -3l1 -6l1 -8l1 -1h4l1 1l1 8l1 10h9l1 -3l1 -2h7l1 -1h1l1 1h7l1 -1h3l1 -1h2l1 -1h4l1 -1h2l1 -1l1 -3l1 1h3l1 -1h13l1 -1h1l1 -7l1 -8h18l1 -1h24l1 -1h2l1 2h5l1 -1h13l1 1l1 -4l1 1l1 2h10l1 1h7l1 1h1M349 502.5h4M356 500.5h4l1 -1h12l1 1l1 1l1 4l1 1h5l1 1h6l1 1h2l1 1l1 1h42l1 -1h6l1 1h14M472 505.5h3M481 502.5h2M508 503.5h2M518 506.5h1l1 -1h8l1 1h4l1 -1h13l1 -1h4M556 502.5h8l1 1h22l1 1h1l1 -1h2l1 2l1 -1h11l1 1h13l1 -2h13l1 1h18l1 -1h3l1 -1h6l1 -1h8l1 1h2l1 1h1l1 1h1l1 1h3l1 -1h3l1 -1h8l1 1h6l1 -1l1 1h10l1 -1h1l1 1h5l1 -1h15l1 1h2l1 -1h16l1 -1h6l1 -1h1l1 -1h7l1 1l1 1h1l1 1h6l1 1h1l1 1h14l1 1h11l1 -1h4l1 -2l1 -4h6l1 1h6l1 -1l1 1h11l1 1h7l1 1h5l1 -4h12l1 1l1 -1h9l1 1h2l1 1h4l1 1h2l1 1h1l1 -1h23l1 1h7l1 -1h11l1 1h14l1 -1h21l1 1h7l1 -1l1 -1l1 -1h5l1 -1h2l1 1l1 -9l1 -8l1 -11h1" stroke="#ff7f50"/>
<path d="M23 506.5h7l1 -1h5M45 505.5h10l1 1h5M66 506.5l1 -1h2M72 505.5h18M96 501.5l1 1h15l1 -1h4l1 1h48l1 -1l1 -6l1 -8l1 -1h4l1 1l1 8l1 10h9l1 -3l1 -3h11l1 -1h12l1 -1h7l1 -1l1 -8h11l1 -1h8l1 -9l1 -7h1l1 1h13l1 -1h2l1 1h46l1 -1l1 1l1 7l1 1l1 1h4l1 1h13l1 1h1M349 502.5h4M356 503.5h18l1 1l1 -1l1 1h7l1 -1h7l1 1l1 -1h13l1 -1h27l1 1h4l1 -1h13l1 1h3M472 507.5h3M481 506.5h2M508 506.5h2M518 502.5h1l1 1h32M556 502.5h1l1 1h9l1 1h10l1 -1h8l1 -1h3l1 1l1 -1l1 -1h6l1 -1h10l1 1h7l1 2h17l1 1h8l1 -1h8l1 1l1 -1h8l1 -1h2l1 2h7l1 1h2l1 1h7l1 -1h8l1 1h28l1 -1h7l1 1h18l1 1h1l1 -1h10l1 -1h1l1 -1h9l1 1h1l1 1h8l1 -1h24l1 -1h6l1 -1l1 -5h9l1 1h12l1 1h9l1 1l1 -1l1 1h5l1 -3h3l1 1h5l1 1l1 -1h5l1 1l1 1h7l1 1l1 1h2l1 1h2l1 1h2l1 1l1 -1h11l1 -1h19l1 -1h5l1 -1h7l1 1h7l1 1h9l1 -1h9l1 1h9l1 -1h4l1 -1l1 -2h1l1 -1h3l1 -1h1l1 1h2l1 -8l1 -8l1 -10h1" stroke="#ff4500"/>
<path d="M23 504.5h13M45 504.5h16M66 504.5h3M72 504.5h18M96 505.5h67l1 1h3l1 -6l1 -4l1 -1h4l1 1l1 4l1 6h9l1 -6l1 -3h3l1 -1h4l1 -1h12l1 -1h2l1 -1h3l1 -1h3l1 -1l1 -2h5l1 -1h9l1 -1h4l1 -7l1 -9h32l1 -1h10l1 1h19l1 -1h2l1 1l1 6l1 1l1 1h7l1 1h10l1 1h1M349 497.5h4M356 501.5h9l1 1h6l1 -1h1l1 1l1 2l1 1h15l1 2l1 -2h7l1 1h11l1 -1h30l1 1h4l1 1h8M472 506.5h3M481 505.5h2M508 506.5h2M518 506.5h22l1 1h11M556 506.5l1 1h11l1 1h20l1 -1h2l1 -1l1 -1h20l1 1h4l1 1h5l1 -1h7l1 -2h6l1 -1l1 1h4l1 1h10l1 -1l1 1l1 -1h7l1 1h6l1 1l1 -1h15l1 -1h25l1 1h18l1 -1h21l1 1h6l1 -1l1 -1h10l1 1h1l1 1h40l1 -1l1 -2h7l1 1h5l1 1h5l1 1h2l1 -1l1 1h7l1 1l1 -2l1 1h6l1 -11h5l1 1h1l1 1h6l1 1h2l1 1h6l1 1h2l1 1h1l1 1h1l1 1h2l1 1h1l1 4h2l1 -1h5l1 1h30l1 -1h4l1 -1h10l1 -1h3l1 1h18l1 1h7l1 1h1l1 -1l1 -4l1 -1l1 -1h7l1 -1l1 -8l1 -7l1 -10h1" stroke="#e9967a"/>
<path d="M23 500.5h13M45 500.5h16M66 500.5h3M72 500.5h18M96 500.5h7l1 1h9l1 1h31l1 1h20l1 1l1 -6l1 -7l1 -1h4l1 1l1 8l1 4l1 -1h8l1 -5l1 -5h19l1 -1h3l1 -1h2l1 -1h2l1 -1h2l1 -2l1 -1h2l1 -1h7l1 -1h9l1 -10l1 -4h11l1 1h29l1 -2h16l1 1h2l1 1h4l1 1l1 1l1 2l1 1h13l1 1h4l1 1h1M349 494.5h4M356 494.5l1 -1h5l1 -1h7l1 1h1l1 -1h1l1 2l1 4l1 3h3l1 1h11l1 1l1 -1h44l1 -1h5l1 -1h13M472 501.5h3M481 500.5h2M508 499.5l1 1h1M518 502.5h9l1 1h2l1 -1h5l1 1h3l1 -1h3l1 -1h5l1 1h1M556 502.5h11l1 -1h24l1 -1l1 -2h25l1 2h3l1 1h1l1 -1h7l1 -2h21l1 -1h3l1 -1h12l1 1h1l1 1h1l1 1h2l1 1h86l1 -1h1l1 -1h2l1 1h5l1 1l1 1l1 1h1l1 -1h2l1 1h28l1 -1h4l1 1h1l1 -3l1 -2h8l1 1h7l1 1h8l1 1h4l1 -1l1 1h8l1 -10h1l1 1h5l1 1h7l1 1h7l1 1h1l1 1h1l1 1h1l1 1h1l1 1h1l1 1h1l1 1h37l1 -1l1 -1h6l1 1h2l1 1h40l1 -1l1 -1l1 -1l1 -1h8l1 -10l1 -10l1 -14h1" stroke="#dda0dd"/>
<path d="M23 509.5h10l1 -1h2M45 508.5l1 -1h3l1 1h7l1 1h3M66 509.5h3M72 508.5h8l1 -1h9M96 515.5h4l1 -1h13l1 1h8l1 -2h11l1 -1h13l1 -1h14l1 -1h1l1 -3l1 -6l1 -2l1 -1h4l1 1l1 3l1 10h9l1 -2l1 -2h2l1 1h4l1 -1h13l1 -1h2l1 -1h1l1 1h5l1 -1l1 -9h12l1 -1h7l1 -7l1 -5h25l1 -1h5l1 -1h13l1 -1h7l1 1h12l1 1l1 -2l1 1l1 1h18l1 2h1M349 508.5l1 1h3M356 503.5h1l1 1h13l1 -1h2l1 2h7l1 1h9l1 2l1 1l1 1h8l1 -1h8l1 1h23l1 -1h13l1 -1h4l1 1h2M472 514.5l1 1h2M481 513.5h2M508 515.5h2M518 512.5h2l1 1h6l1 1h24M556 507.5h5l1 1h29l1 1l1 -1l1 -1h3l1 -1h6l1 -1h8l1 1h5l1 1h7l1 1h5l1 1h3l1 1h4l1 1h22l1 -1h12l1 1h4l1 -1h6l1 -1h9l1 1h22l1 1h2l1 1h7l1 -1h11l1 1h19l1 -1l1 -1h5l1 -1h2l1 1h3l1 -1h9l1 1h11l1 1h1l1 -1h9l1 -1h3l1 1h2l1 -7h1l1 1h11l1 1h26l1 -2h5l1 1h1l1 -1h6l1 1h11l1 2h4l1 1h1l1 1h2l1 2h5l1 -1h8l1 1l1 -1h29l1 1h3l1 1h14l1 -1h10l1 -1h3l1 1h8l1 -1l1 -2l1 -1h2l1 -1h6l1 -4l1 -3l1 -5h1" stroke="#bc8f8f"/>
<path d="M23 502.5h13M45 502.5h16M66 502.5h3M72 502.5h2l1 1h5l1 1h3l1 1h5M96 506.5h13l1 -1h12l1 -1h25l1 -1h15l1 1h1l1 -3l1 -6l1 -9l1 -1h4l1 1l1 8l1 10h9l1 -8l1 -4h18l1 -1h2l1 -1h3l1 -1h3l1 -1h2l1 -2l1 4h3l1 -1h2l1 -1h2l1 -1h9l1 -1l1 -8l1 -8h11l1 1h5l1 1h14l1 -1h8l1 -1h20l1 1h3l1 2l1 -5l1 1l1 1h8l1 1h9l1 1h1M349 492.5h4M356 496.5h18l1 2l1 2l1 2h5l1 1h3l1 1h6l1 1h4l1 -1h11l1 1h12l1 -1h8l1 -1h10l1 1h14M472 506.5h3M481 504.5h2M508 506.5h2M518 501.5h13l1 1h5l1 -1h12l1 1h1M556 501.5h32l1 1h1l1 -1h1l1 2l1 -1h12l1 1h12l1 -2h3l1 -1h9l1 -2h1l1 1h11l1 -1h7l1 -1h3l1 -1h12l1 1h1l1 1h2l1 1h1l1 1h85l1 -1l1 -1h10l1 1l1 1h3l1 1h13l1 1h10l1 -1h10l1 1h1l1 -3l1 1h1l1 1h4l1 1h8l1 1h11l1 1h9l1 -1h2l1 -10h2l1 1l1 -1h8l1 1h1l1 -1h7l1 1h2l1 1h2l1 1h1l1 1h1l1 1h1l1 1h1l1 1h36l1 -1l1 -1h4l1 1h4l1 1h10l1 1h11l1 -1h17l1 -1l1 2l1 -1l1 -1l1 1h7l1 -9l1 -8l1 -11h1" stroke="#ff4500"/>
<path d="M23 500.5h13M45 500.5h16M66 500.5h3M72 500.5h18M96 500.5h57l1 1h10l1 1h2l1 -6l1 -9l1 -1h4l1 1l1 9l1 8h7l1 -1h1l1 -7l1 -4h7l1 1h7l1 -1h2l1 -1h3l1 -1h2l1 -1h2l1 -1h3l1 -2l1 1h6l1 -1h10l1 -1h2l1 -8l1 -12h1l1 -1h15l1 -1h2l1 1h37l1 -1h7l1 1l1 5l1 1l1 1h1l1 1h6l1 -1h2l1 1h6l1 1h1M349 492.5h4M356 495.5h1l1 -1h16l1 3l1 1l1 3h3l1 1h1l1 -1h2l1 1h7l1 -1h38l1 1h7l1 -1h1l1 1h6l1 -2h8M472 500.5h3M481 498.5h2M508 498.5h2M518 499.5h6l1 1h16l1 1h10M556 500.5h24l1 1h10l1 1l1 -1l1 -1l1 -1h17l1 1h2l1 -1h3l1 1h13l1 -2h21l1 -1h3l1 -1h12l1 1h1l1 1h2l1 1h1l1 1h39l1 1h31l1 -1h6l1 1h2l1 -1h3l1 -1h1l1 -1h5l1 1h3l1 1l1 1h5l1 -1h33l1 1h1l1 -3l1 -3h2l1 1h5l1 1h1l1 -1h1l1 1h4l1 1h13l1 1h8l1 -8l1 -1h3l1 1h10l1 1h4l1 1h4l1 1l1 1h1l1 1l1 1h3l1 1h1l1 1l1 1h25l1 1h10l1 -1h1l1 -1h4l1 1h3l1 1h6l1 -1h1l1 1h3l1 -1h27l1 -1h1l1 -1l1 -1h8l1 -10l1 -9l1 -13h1" stroke="#6495ed"/>
<path d="M167 500.5L168 482.5L169 468.5L171 466.5L174 467.5L175 474.5L176 488.5L177 502.5" stroke="#b8860b"/>
<path d="M244 492.5L250 494.5L270 498.5L290 498.5L305 494.5L315 491.5L325 492.5L333 492.5" stroke="#b8860b"/>
<path d="M262 486.5L265 487.5L267 494.5L269 487.5L275 486.5" stroke="#ff4500"/>
<path d="M206 490.5L215 488.5L222 484.5L232 481.5L244 479.5" stroke="#9370db"/>
<path d="M210 490.5L219 487.5L222 485.5L230 482.5L238 479.5L244 477.5" stroke="#87cefa"/>
<path d="M214 489.5L222 486.5L228 484.5L244 482.5" stroke="#dda0dd"/>
<path d="M222 480.5L228 477.5L236 475.5L244 474.5" stroke="#6495ed"/>
<path d="M96 499.5L167 499.5L168 484.5L169 470.5L171 467.5L173 467.5L175 472.5L176 486.5L177 500.5L187 500.5L188 490.5L206 490.5L219 484.5L222 476.5L236 472.5L242 471.5L244 461.5L268 462.5L300 461.5L310 460.5L315 463.5L331 466.5L333 466.5L333 503.5" stroke="#000"/>
<path d="M349 492.5L353 492.5" stroke="#000"/>
<path d="M356 492.5L374 491.5L377 499.5L392 499.5L394 500.5L458 500.5" stroke="#000"/>
<path d="M472 499.5L475 499.5" stroke="#000"/>
<path d="M481 497.5L483 497.5" stroke="#000"/>
<path d="M508 497.5L510 497.5" stroke="#000"/>
<path d="M518 498.5L552 499.5" stroke="#000"/>
<path d="M556 499.5L592 500.5L594 498.5L619 498.5L620 499.5L633 499.5L634 498.5L655 497.5L660 496.5L672 496.5L680 499.5L765 499.5L769 497.5L776 497.5L780 500.5L820 500.5L822 494.5L857 498.5L862 498.5L863 489.5L887 492.5L900 499.5L936 499.5L940 497.5L948 499.5L988 499.5L992 496.5L1000 495.5L1002 475.5L1004 462.5" stroke="#000"/>
<rect x="23" y="478" width="13" height="1" fill="#000" stroke="none"/>
<rect x="45" y="478" width="16" height="1" fill="#000" stroke="none"/>
<rect x="66" y="478" width="3" height="1" fill="#000" stroke="none"/>
<rect x="72" y="478" width="18" height="1" fill="#000" stroke="none"/>
<rect x="96" y="478" width="238" height="1" fill="#000" stroke="none"/>
<rect x="349" y="478" width="4" height="1" fill="#000" stroke="none"/>
<rect x="356" y="478" width="102" height="1" fill="#000" stroke="none"/>
<rect x="472" y="478" width="3" height="1" fill="#000" stroke="none"/>
<rect x="481" y="478" width="2" height="1" fill="#000" stroke="none"/>
<rect x="508" y="478" width="2" height="1" fill="#000" stroke="none"/>
<rect x="518" y="478" width="34" height="1" fill="#000" stroke="none"/>
<rect x="556" y="478" width="448" height="1" fill="#000" stroke="none"/>
<rect x="23" y="484" width="13" height="1" fill="#000" stroke="none"/>
<rect x="45" y="484" width="16" height="1" fill="#000" stroke="none"/>
<rect x="66" y="484" width="3" height="1" fill="#000" stroke="none"/>
<rect x="72" y="484" width="18" height="1" fill="#000" stroke="none"/>
<rect x="96" y="484" width="238" height="1" fill="#000" stroke="none"/>
<rect x="349" y="484" width="4" height="1" fill="#000" stroke="none"/>
<rect x="356" y="484" width="102" height="1" fill="#000" stroke="none"/>
<rect x="472" y="484" width="3" height="1" fill="#000" stroke="none"/>
<rect x="481" y="484" width="2" height="1" fill="#000" stroke="none"/>
<rect x="508" y="484" width="2" height="1" fill="#000" stroke="none"/>
<rect x="518" y="484" width="34" height="1" fill="#000" stroke="none"/>
<rect x="556" y="484" width="448" height="1" fill="#000" stroke="none"/>
<rect x="23" y="499" width="13" height="2" fill="#000" stroke="none"/>
<rect x="45" y="499" width="16" height="2" fill="#000" stroke="none"/>
<rect x="66" y="499" width="3" height="2" fill="#000" stroke="none"/>
<rect x="72" y="499" width="18" height="2" fill="#000" stroke="none"/>
<rect x="96" y="499" width="72" height="2" fill="#000" stroke="none"/>
<rect x="177" y="499" width="11" height="2" fill="#000" stroke="none"/>
<rect x="377" y="499" width="81" height="2" fill="#000" stroke="none"/>
<rect x="472" y="499" width="3" height="2" fill="#000" stroke="none"/>
<rect x="481" y="499" width="2" height="2" fill="#000" stroke="none"/>
<rect x="508" y="499" width="2" height="2" fill="#000" stroke="none"/>
<rect x="518" y="499" width="34" height="2" fill="#000" stroke="none"/>
<rect x="556" y="499" width="37" height="2" fill="#000" stroke="none"/>
<rect x="680" y="499" width="86" height="2" fill="#000" stroke="none"/>
<rect x="780" y="499" width="41" height="2" fill="#000" stroke="none"/>
<rect x="900" y="499" width="89" height="2" fill="#000" stroke="none"/>
<rect x="187" y="500" width="147" height="1" fill="#000" stroke="none"/>
<rect x="349" y="500" width="4" height="1" fill="#000" stroke="none"/>
<rect x="356" y="500" width="21" height="1" fill="#000" stroke="none"/>
<rect x="592" y="500" width="89" height="1" fill="#000" stroke="none"/>
<rect x="765" y="500" width="16" height="1" fill="#000" stroke="none"/>
<rect x="820" y="500" width="81" height="1" fill="#000" stroke="none"/>
<rect x="988" y="500" width="16" height="1" fill="#000" stroke="none"/>
<path d="M23 588.5h13M46 588.5h15M70 588.5h19M96 586.5h11l1 1h10l1 -1h39l1 -1h2l1 -3l1 -3l1 -4l1 -4l1 -5l1 -4l1 -5h6l1 9l1 10l1 10h11l1 -1h45l1 -1h6l1 -1l1 -2h81l1 -1h9M349 580.5h1l1 1h2M356 580.5h15l1 -1h22l1 -1h2l1 -1h6l1 -1h31l1 1h5l1 -2l1 -1h5l1 -1h8M480 576.5h3M509 580.5h2M517 584.5l1 1h11l1 1h18l1 -1h2M555 571.5h14l1 -1h9l1 -1h19l1 -1h20l1 1l1 2l1 2l1 2h6l1 -7l1 4h35l1 1h24l1 -1h10l1 1h26l1 -1h60l1 1h12l1 -1h64l1 1h16l1 -1h19l1 1h16l1 -1h31l1 1h19l1 -1h12l1 1l1 -3l1 2l1 2h5l1 1h4l1 1h1" stroke="#ff6347"/>
<path d="M23 584.5h13M46 585.5h15M70 585.5h19M96 586.5h16l1 -3h13l1 -1h31l1 -3l1 1l1 -2l1 -4l1 -4l1 -4l1 -3l1 -4l1 -4l1 -4h6l1 8l1 9l1 14h1l1 -1h3l1 1h32l1 -1h1l1 1h15l1 -1h8l1 -2h19l1 -1h63l1 -1h7M349 576.5h4M356 572.5h3l1 -1h5l1 -1h7l1 -1h4l1 -1h9l1 1h4l1 1l1 -2l1 -2l1 -2l1 2h7l1 1h31l1 1h1l1 -1h2l1 -3h3l1 -1h9l1 -1h1M480 554.5h3M509 555.5h2M517 561.5h1l1 1h7l1 1h1l1 3l1 4l1 2h15l1 -1h1l1 -1l1 -1h1M555 564.5h5l1 -1h2l1 1h3l1 -1h11l1 -1h40l1 8l1 2l1 2l1 2h6l1 -7l1 -9h14l1 1h15l1 -1h4l1 1h43l1 -1h51l1 -1h45l1 1h24l1 1h29l1 -1h10l1 1h2l1 -1l1 1h23l1 -1h15l1 1h3l1 -1h64l1 2l1 2l1 2l1 2h3l1 1h4l1 1h1l1 1h1" stroke="#c71585"/>
<path d="M23 582.5h13M46 582.5h15M70 582.5h19M96 579.5h16l1 1h10l1 -1h27l1 1h6l1 -5l1 1l1 -4l1 -4l1 -4l1 -4l1 -3l1 -4l1 -3l1 -4h6l1 9l1 9l1 8l1 1h2l1 1h1l1 1h13l1 1h45l1 -1h48l1 -1h18l1 1h19l1 -1h3M349 572.5h1l1 -1h2M356 568.5h5l1 -1h6l1 -1h5l1 -1h10l1 1h3l1 1h3l1 1l1 -3l1 -2l1 -3l1 3h34l1 -1h3l1 1l1 -1h1l1 1h2l1 -3h2l1 -1h6l1 -1h5M480 543.5h3M509 543.5h2M517 548.5h3l1 1h7l1 6l1 6l1 9h6l1 1h7l1 -1h3l1 -1h1M555 553.5h3l1 1h5l1 1h1l1 -1h5l1 -1h7l1 -1h5l1 -1h33l1 9l1 4l1 3l1 3h6l1 -8l1 -9h19l1 1h21l1 1h16l1 -1h11l1 1h12l1 -1h2l1 -1h14l1 -1h4l1 1h16l1 -1h44l1 1h15l1 1h5l1 1h22l1 1h17l1 -1h15l1 1h5l1 -1h39l1 1h16l1 -1h45l1 2l1 1l1 2l1 2h3l1 1l1 -1l1 1h4l1 1h1" stroke="#9acd32"/>
<path d="M23 577.5h13M46 577.5h6l1 1h8M70 578.5h6l1 -1h12M96 577.5h16l1 1h3l1 -1h41l1 -8l1 -1l1 -6l1 -5l1 -4l1 -3l1 -3l1 -3l1 -3l1 -2h6l1 8l1 9l1 15l1 1h1l1 1h2l1 1h10l1 1h6l1 1h11l1 -1h1l1 1h3l1 -1h4l1 1h18l1 -2h1l1 1h7l1 -1h33l1 -1h38l1 -1h8M349 571.5h1l1 -1h2M356 567.5h3l1 -1h6l1 -1h4l1 -1h15l1 1h1l1 1h1l1 1h2l1 -3l1 -2l1 -3l1 -5h24l1 -1h12l1 1h2l1 1h2l1 1l1 7l1 -1h5l1 -1h8M480 546.5h3M509 547.5h2M517 554.5l1 1h6l1 1h3l1 5l1 4l1 -1h2l1 1h11l1 -1h1l1 -1h1l1 -3h1M555 556.5h5l1 1h10l1 -1h5l1 -1h7l1 -1h34l1 1l1 4l1 3l1 4h6l1 -9l1 -5h13l1 -1h3l1 1h2l1 -1h7l1 1h32l1 -1h2l1 1h33l1 -1h15l1 1h29l1 -1h3l1 1h21l1 1h19l1 1h10l1 -1h54l1 -1h17l1 1h6l1 -1h3l1 1h29l1 -1h12l1 1h15l1 -1h11l1 2l1 -4l1 2l1 2l1 1h3l1 1h3l1 1h1l1 1h1" stroke="#6b8e23"/>
<path d="M23 584.5h13M46 583.5h15M70 583.5h10l1 -1h8M96 581.5h16l1 2h29l1 1h15l1 -2l1 -5l1 -2l1 -5l1 -4l1 -3l1 -4l1 -3l1 -5l1 -3h6l1 9l1 9l1 10l1 1h3l1 1h43l1 -1h13l1 1h1l1 -1l1 1h27l1 -1h17l1 -1h9l1 1h3l1 -1h12l1 1h18M349 576.5h2l1 -1h1M356 569.5h2l1 -1h1l1 -1h6l1 -1h2l1 1l1 -1h5l1 -1h9l1 1h3l1 1h2l1 -2l1 -3l1 -2l1 -1h17l1 1h19l1 -1h2l1 1h3l1 10h12l1 -1h2M480 560.5h3M509 561.5h2M517 558.5h4l1 1h6l1 5l1 4l1 8h16l1 -1h3M555 565.5h19l1 -1h9l1 -1h31l1 -1h3l1 5l1 2l1 3l1 2h6l1 -7l1 -6h4l1 -1h17l1 1h13l1 -1h5l1 1h51l1 -1h48l1 -1h18l1 1h5l1 1h1l1 -1h1l1 1h22l1 -1h14l1 1h8l1 1h5l1 -1h25l1 -1h19l1 1h5l1 -1h15l1 1h7l1 -1h1l1 1h6l1 -1h41l1 1h3l1 2l1 -5l1 2l1 2h1l1 1h5l1 1h4" stroke="#ff4500"/>
<path d="M23 580.5h3l1 1h9M46 581.5h15M70 581.5h4l1 -1h14M96 583.5h16l1 1h9l1 -1h35l1 -2l1 -4l1 -3l1 -4l1 -4l1 -4l1 -3l1 -4l1 -4l1 -3h6l1 9l1 8l1 4l1 1h1l1 1h1l1 1h5l1 1h15l1 1h6l1 1h54l1 1h1l1 -1h10l1 1h4l1 -1h13l1 -1h8l1 1h10l1 -1h4l1 1h11M349 573.5h2l1 -1h1M356 576.5h2l1 -1h10l1 -1h21l1 1h2l1 -1l1 -2l1 -1l1 -5h18l1 -1h24l1 1l1 -2h4l1 -1h6l1 -1h3M480 553.5h3M509 553.5h2M517 556.5h3l1 1h3l1 1h3l1 5l1 4l1 7h14l1 -1h3l1 -1h1M555 567.5h24l1 -1h40l1 -4l1 3l1 3l1 3h6l1 -8l1 -11h21l1 1l1 -1h6l1 1h20l1 1h1l1 -1h8l1 -1h7l1 1h17l1 -1h6l1 -1h9l1 1h13l1 1h26l1 -1h32l1 1h15l1 1h24l1 1h13l1 -1h5l1 1h10l1 -1h28l1 -1h8l1 1h46l1 -1h20l1 2l1 8l1 2l1 2l1 1h6l1 1h4" stroke="#e9967a"/>
<path d="M23 582.5h13M46 582.5h15M70 582.5h19M96 580.5h16l1 1h3l1 -1h19l1 -1h8l1 1h12l1 -4l1 -9l1 -6l1 -5l1 -5l1 -2l1 -2l1 -3l1 -3l1 -3h5l1 1l1 9l1 8l1 12h1l1 1l1 1h1l1 1l1 1h24l1 1h25l1 1h8l1 -9h8l1 -1h3l1 1h20l1 -1h1l1 1h1l1 -1h4l1 -1h4l1 -1h20l1 -1h12l1 -1h2l1 1h6M349 561.5h2l1 -1h1M356 568.5l1 -1h4l1 -1h5l1 -1h5l1 -1h13l1 1h2l1 1h2l1 1l1 -3l1 -3l1 -3l1 -7h38l1 1h1l1 1h3l1 -2h1l1 -1h3l1 -1h2l1 -1h3l1 -1h2M480 542.5h3M509 542.5h2M517 555.5l1 1h7l1 1h2l1 5l1 4l1 1h15l1 -1h1l1 -1l1 -1h1M555 559.5h15l1 -1h8l1 -1h6l1 -1h33l1 2l1 3l1 3l1 4h6l1 -9l1 -7h15l1 -1h3l1 1l1 -1h8l1 1h10l1 1h17l1 -1h25l1 -1h11l1 -1l1 1h4l1 -1h1l1 1h12l1 1h9l1 1h1l1 -1h2l1 1h4l1 -1h33l1 1h8l1 1h34l1 1h17l1 -1h19l1 -1h9l1 -1h15l1 1h8l1 1h12l1 -1h31l1 1h22l1 2l1 -5l1 2l1 3h3l1 1h2l1 1h3l1 1h1" stroke="#808000"/>
<path d="M23 579.5h13M46 579.5h3l1 -1h5l1 1h5M70 579.5h12l1 -1h6M96 576.5h2l1 1h25l1 1h33l1 -11l1 -3l1 -8l1 -4l1 -5l1 -2l1 -2l1 -2l1 -3l1 -2h6l1 9l1 8l1 14h1l1 1l1 1h1l1 1l1 1h10l1 1h22l1 1h6l1 1h16l1 -1h1l1 -11h8l1 -1h11l1 -1h18l1 -1h3l1 -1h2l1 -1h3l1 -1h40M349 557.5h4M356 557.5h1l1 -1h2l1 -1h3l1 -1h2l1 -1h2l1 -1h1l1 -1h3l1 -1h4l1 1h5l1 1l1 -1h1l1 1h3l1 -2l1 -2l1 -2l1 -2h3l1 1h35l1 1h1l1 1h2l1 6l1 -1h4l1 -1h3l1 -1h5M480 535.5h3M509 533.5h2M517 537.5h1l1 1h3l1 1h1l1 1h3l1 8l1 7l1 7h14l1 -1h1l1 -1l1 -1l1 -4h1M555 549.5h1l1 1h5l1 1h4l1 -1h4l1 -1h4l1 -1h2l1 -1h5l1 -1h33l1 3l1 3l1 4l1 3h6l1 -9l1 -5h8l1 1h1l1 -1h10l1 1h3l1 1h9l1 1h9l1 1h4l1 1l1 -1h8l1 -1h7l1 1h8l1 1l1 -1h2l1 -1h4l1 -1h6l1 -1h2l1 -1l1 1h22l1 1h9l1 -1h9l1 -1h13l1 1h11l1 1h10l1 1h17l1 1h8l1 1h15l1 -1h7l1 1h20l1 -1h10l1 -1h7l1 1h18l1 -1h1l1 1h5l1 1h30l1 -1h5l1 1h19l1 -1h3l1 2l1 3l1 3l1 2h7l1 1h4" stroke="#d2691e"/>
<path d="M23 577.5h1l1 1h11M46 577.5h15M70 576.5h9l1 1h2l1 -1h6M96 576.5h16l1 4h45l1 -4l1 -4l1 -4l1 -5l1 -4l1 -4l1 -3l1 -3l1 -3l1 -4h6l1 9l1 8l1 -1l1 1h2l1 1h1l1 1h8l1 1h11l1 1h23l1 1h9l1 -1h4l1 10h39l1 -1h51M349 570.5l1 -1h1l1 -1h1M356 566.5h1l1 -1h5l1 -1h4l1 -1h5l1 -1h11l1 1h3l1 1h2l1 1l1 -3l1 -3l1 -3h31l1 1h10l1 1h2l1 -3h2l1 -1h4l1 -1h4l1 -1h2M480 552.5h3M509 552.5h2M517 539.5h1l1 1h3l1 1h2l1 1h2l1 7l1 8l1 7h14l1 -1l1 -1h1l1 -1l1 -4h1M555 554.5l1 1h16l1 -1h1l1 -1h5l1 -1h4l1 -1h18l1 -1h15l1 -1l1 4l1 3l1 4h6l1 -10l1 -8h9l1 -1h9l1 1h5l1 1h6l1 1h5l1 1h7l1 1h7l1 -1h5l1 -1l1 1h8l1 1h3l1 1h6l1 -1h2l1 -1h3l1 -1h3l1 -1h3l1 -1l1 1h15l1 1h6l1 1h6l1 -1h12l1 -1h1l1 1h5l1 -1h5l1 -1h6l1 1h6l1 1h2l1 -1h1l1 1h7l1 1h6l1 1h19l1 1h5l1 1h14l1 1h1l1 -1h15l1 -1h7l1 -1l1 1h2l1 -1h27l1 1h6l1 1l1 -1l1 1h10l1 -1h5l1 -1h27l1 1h10l1 -1h2l1 -1l1 3l1 8l1 2l1 2h2l1 1h4l1 1h4" stroke="#e9967a"/>
<path d="M23 578.5h13M46 577.5h15M70 578.5h11l1 -1h7M96 578.5h16l1 1h14l1 1h16l1 1h1l1 -1h11l1 -4l1 -20l1 -11l1 -2l1 -2l1 -1l1 -2l1 -1l1 -2l1 -1h6l1 8l1 9l1 9h4l1 1h3l1 1h8l1 1h3l1 -1l1 1h8l1 -1h8l1 1h15l1 -1h8l1 7h42l1 -1h7l1 -1h40M349 566.5h1l1 -1h2M356 565.5h4l1 -1h4l1 -1h5l1 -1h4l1 -1h8l1 1h2l1 1h2l1 1h2l1 -3l1 -3l1 -3l1 -11h27l1 1h11l1 1h2l1 1h1l1 5l1 -1h3l1 -1h3l1 -1h4l1 -1h1M480 537.5h3M509 534.5h2M517 538.5h1l1 1h3l1 1l1 1h2l1 1h1l1 7l1 8l1 10h14l1 -1h1l1 -1h1l1 -2h1M555 551.5h8l1 1h4l1 -1h3l1 -1h3l1 -1h4l1 -1h3l1 -1h4l1 -1h29l1 4l1 4l1 3l1 3h6l1 -10l1 -10l1 1h4l1 -1h15l1 1h1l1 1h9l1 1h6l1 1h7l1 1h3l1 -1h1l1 -1h3l1 -1h4l1 -1l1 1h4l1 1h3l1 1h3l1 1h1l1 -1h1l1 -1h2l1 -1h2l1 -1h2l1 -2h2l1 -1h2l1 -1h2l1 1h5l1 1h2l1 1h5l1 1h8l1 1h9l1 -1h14l1 -1h4l1 -1h6l1 1h5l1 1h4l1 1h5l1 1h4l1 1h5l1 1h14l1 1h10l1 1h18l1 1h14l1 -1h2l1 -1h1l1 1l1 -1h4l1 -1h27l1 1h5l1 1h6l1 1h6l1 -1h3l1 -1h8l1 -1h1l1 1h15l1 -1h2l1 1h7l1 -1h2l1 -1h1l1 -1h1l1 3l1 5l1 2l1 2h1l1 1h2l1 1h3l1 1l1 1h2" stroke="#808000"/>
<path d="M23 587.5h13M46 587.5h15M70 588.5h19M96 588.5h5l1 1h9l1 1h41l1 -1h4l1 1l1 -6l1 -1l1 -3l1 -3l1 -5l1 -4l1 -4l1 -4l1 -4h6l1 9l1 9l1 16h25l1 -1h8l1 -1h6l1 -1h10l1 -1h7l1 1h3l1 -2l1 -5h17l1 -1h38l1 1h34M349 579.5h4M356 579.5h6l1 -1h20l1 -1h4l1 1h5l1 -1h1l1 -1l1 8h6l1 1h13l1 1h20l1 -1h2l1 -1h6l1 -1h1l1 1l1 -1h5M480 575.5h3M509 576.5h2M517 574.5h11l1 1l1 1l1 9h5l1 1h10l1 -1h3M555 568.5h10l1 1l1 -1h15l1 -1h26l1 -1h2l1 1h2l1 -1h4l1 10l1 3l1 2l1 3h4l1 1h1l1 -7l1 -14h32l1 1h26l1 -1h2l1 1h16l1 -1h11l1 1h6l1 -1h8l1 1h53l1 1h3l1 -1h12l1 1h17l1 -1h60l1 1h98l1 2l1 4l1 2l1 1l1 1h4l1 1h6" stroke="#87cefa"/>
<path d="M23 585.5h3l1 -1h9M46 584.5h15M70 584.5h19M96 585.5h7l1 1h8l1 1h5l1 -1h16l1 -1h11l1 1h10l1 -1l1 -4l1 -2l1 -3l1 -4l1 -4l1 -4l1 -4l1 -4l1 -4h6l1 9l1 9l1 12h2l1 -1h47l1 -1h13l1 -1h2l1 -1h29l1 1h45l1 1h1l1 -1h11M349 579.5h2l1 -1h1M356 579.5h10l1 -1h8l1 -1h11l1 -1h7l1 -1h1l1 -4h28l1 1h4l1 1h10l1 -4h3l1 -1h1l1 1h2l1 -1h6M480 570.5h3M509 572.5h2M517 567.5h3l1 1h7l1 3l1 2l1 1h15l1 -1h2l1 -1h1M555 568.5h5l1 1h13l1 -1h6l1 -1h38l1 -2l1 2l1 3l1 3h2l1 -1h3l1 -7l1 -2h3l1 -1h5l1 1h11l1 -1h101l1 1h6l1 -1h26l1 1h2l1 1h19l1 1h34l1 -1h20l1 -1h50l1 1h9l1 -1h58l1 2l1 4l1 2l1 2h4l1 1h5l1 1h1" stroke="#9370db"/>
<path d="M23 581.5h13M46 581.5h15M70 580.5l1 1h18M96 581.5h62l1 -4l1 -11l1 -7l1 -5l1 -4l1 -3l1 -2l1 -3l1 -2l1 -2h6l1 8l1 9l1 18h2l1 1h1l1 1h4l1 -1h4l1 1h3l1 -1h9l1 1h27l1 1h8l1 -9h16l1 -1h3l1 1h1l1 -1h14l1 -1h7l1 -1h12l1 -1h2l1 1h29M349 563.5h2l1 -1h1M356 570.5h4l1 -1h6l1 -1h8l1 -1h8l1 1h4l1 1l1 1h2l1 -2l1 -2l1 -2l1 -3h44l1 -4h1l1 -1h4l1 -1h8M480 556.5h3M509 557.5h2M517 543.5h1l1 1h5l1 1h3l1 7l1 6l1 11h16l1 -1h1l1 -1h1M555 555.5h1l1 1h13l1 -1h6l1 -1h6l1 -1h35l1 5l1 3l1 3l1 3h6l1 -8l1 -9h10l1 1h20l1 1h18l1 1l1 -1h12l1 -1h5l1 1h2l1 1h8l1 -1h10l1 -1h13l1 1h32l1 -1h22l1 1h16l1 1h59l1 1h4l1 -1h15l1 -1h7l1 1h16l1 -1h6l1 1l1 -1h1l1 1h19l1 -1h7l1 -1h29l1 1h1l1 2l1 1l1 2l1 2h1l1 1h5l1 1h2l1 1h1" stroke="#dc143c"/>
<path d="M23 581.5h13M46 580.5h13l1 1h1M70 581.5h19M96 582.5h3l1 -1h12l1 4h45l1 -1l1 -1l1 -1l1 -4l1 -3l1 -4l1 -4l1 -4l1 -5l1 -4h6l1 9l1 9h3l1 1h2l1 1h11l1 1h17l1 1h24l1 1h3l1 -1l1 1h4l1 1h1l1 -1h8l1 1h12l1 -1h14l1 -1h10l1 1h36M349 575.5h4M356 576.5h1l1 -1h14l1 -1h4l1 -1h7l1 1h5l1 1h2l1 -1l1 -2l1 -1l1 -2h39l1 1l1 -1l1 1h18M480 567.5h3M509 569.5h2M517 570.5h2l1 1h3l1 -1l1 1h3l1 2l1 2h9l1 1h5l1 -1h3l1 -1h1M555 564.5h16l1 -1h8l1 -1h3l1 1h2l1 -1h33l1 3l1 3l1 3h6l1 -8l1 -3h52l1 1h3l1 -1h14l1 1h10l1 -1h8l1 -1h53l1 -1h22l1 1h49l1 1h31l1 -1h8l1 1h69l1 -1h18l1 1h7l1 2l1 4l1 2l1 2h1l1 1h4l1 1h5" stroke="#8b008b"/>
<path d="M23 579.5h13M46 578.5h15M70 578.5h19M96 578.5h62l1 -4l1 -5l1 -4l1 -5l1 -5l1 -3l1 -3l1 -3l1 -3l1 -3h6l1 9l1 8l1 8l1 1l1 1h1l1 1l1 1h2l1 1h2l1 1h7l1 1h17l1 1h5l1 -1h12l1 1h6l1 1h2l1 -11h19l1 -1h18l1 -1h3l1 -1h2l1 -1h3l1 -1h11l1 -1h29M349 557.5l1 -1h3M356 567.5h1l1 -1h5l1 -1h4l1 -1h5l1 -1h10l1 1h3l1 1h2l1 1h1l1 -3l1 -3l1 -2l1 -2h41l1 1h2l1 -10h3l1 -1h5l1 -1h2l1 -1h2M480 546.5h3M509 546.5h2M517 543.5h3l1 1h5l1 1h1l1 6l1 7l1 5h15l1 -1l1 -1h1l1 -4h1M555 553.5h2l1 1h12l1 -1h5l1 -1h7l1 -1h35l1 4l1 3l1 3l1 4h6l1 -9l1 -7h39l1 1h23l1 -1l1 1h8l1 1h6l1 -1h5l1 -1h9l1 -1h2l1 1h12l1 1h4l1 1h27l1 -1h13l1 -1h5l1 1h15l1 1h20l1 -1h8l1 1h65l1 -1h10l1 1h11l1 1h4l1 -1h7l1 -1h17l1 1h15l1 1h8l1 2h1l1 2l1 2h2l1 1h4l1 1h4" stroke="#d2691e"/>
<path d="M23 583.5h13M46 583.5h15M70 583.5h19M96 583.5h14l1 1h1l1 1h45l1 -1l1 -4l1 -2l1 -3l1 -4l1 -4l1 -4l1 -4l1 -4l1 -4h6l1 9l1 9l1 8h1l1 1h10l1 1h10l1 1h17l1 -1h20l1 1h1l1 -1h26l1 -1h14l1 -1h19l1 -1h13l1 1h16M349 576.5h4M356 576.5h7l1 -1h10l1 -1h11l1 1h5l1 1h1l1 -1l1 -1l1 -1l1 -9h20l1 1h21l1 1h1l1 11h2l1 -1h8l1 1h1l1 -1h1M480 557.5h3M509 559.5h2M517 564.5l1 1h4l1 1h5l1 3l1 3l1 7h14l1 1h3l1 -1h1M555 565.5h10l1 1h2l1 -1h7l1 -1h9l1 -1h28l1 -1h4l1 4l1 3l1 2l1 2h6l1 -7l1 -6h59l1 -1h8l1 1h15l1 -1h1l1 1h72l1 1h15l1 1h32l1 1h25l1 -1h59l1 -1h31l1 -1h12l1 1h16l1 2h1l1 2l1 2l1 1h4l1 1h3l1 1h2" stroke="#a0522d"/>
<path d="M23 580.5h13M46 579.5h15M70 579.5h2l1 1h6l1 -1h9M96 578.5h15l1 -1l1 1h28l1 1h1l1 -1h14l1 -8l1 -10l1 -9l1 -3l1 -4l1 -1l1 -2l1 -2l1 -2l1 -2h6l1 9l1 8l1 14h1l1 1h1l1 1l1 1h5l1 1h8l1 1h17l1 1h1l1 -1h12l1 1h12l1 -1h17l1 -1h13l1 1h7l1 -1h7l1 -1h34l1 -1h8M349 568.5l1 -1h1l1 -1h1M356 568.5h3l1 -1h2l1 -1h5l1 -1h4l1 -1h11l1 1h3l1 1h2l1 1h1l1 -3l1 -3l1 -2l1 -6h39l1 1h3l1 1l1 -2h1l1 -1h3l1 -1h4l1 -1h2l1 -1h1M480 539.5h3M509 538.5h2M517 537.5h1l1 1h3l1 1h3l1 1h1l1 7l1 8l1 7h15l1 -1l1 -1l1 -1l1 -4h1M555 553.5l1 1h7l1 1h5l1 -1h6l1 -1h5l1 -1h4l1 -1h32l1 -2l1 3l1 4l1 3h6l1 -9l1 -9h10l1 1h3l1 -1h1l1 1h7l1 1h5l1 1h11l1 1h7l1 1l1 -1h4l1 -1h4l1 -1l1 1h6l1 1h4l1 1h4l1 -1h3l1 -1h4l1 -1h2l1 -1h2l1 -1h7l1 1h5l1 1h7l1 1h3l1 -1h1l1 1h10l1 -1h7l1 -1h10l1 -1h10l1 1h6l1 1h5l1 1h2l1 1h4l1 1h6l1 1h13l1 1h8l1 -1h6l1 1h17l1 1h1l1 -1h5l1 -1h11l1 -1h31l1 1h6l1 1h10l1 -1h13l1 -1h29l1 -1h2l1 2l1 2l1 3l1 2l1 1h3l1 1h1l1 1h3l1 1h1" stroke="#cd853f"/>
<path d="M23 578.5h13M46 578.5h15M70 577.5h19M96 579.5h9l1 -1h52l1 -7h1l1 -4l1 -5l1 -5l1 -3l1 -3l1 -3l1 -3l1 -3h6l1 8l1 9l1 2l1 1h1l1 1h1l1 1l1 1h1l1 -1h1l1 1h4l1 1h6l1 1h7l1 1h35l1 -6h29l1 -1h9l1 -1h2l1 -1h5l1 -1h21l1 -1h20M349 556.5h4M356 562.5h3l1 -1h4l1 -1h4l1 -1h4l1 -1h12l1 1h1l1 1h2l1 1h1l1 -3l1 -2l1 -3l1 2h2l1 1h19l1 -1h17l1 1h3l1 -2l1 -1h4l1 -1h3l1 -1h1l1 1h1l1 -1h1M480 551.5h3M509 552.5l1 1h1M517 541.5h8l1 1h2l1 7l1 7l1 7h9l1 1h5l1 -1l1 -1h1l1 -4h1M555 552.5h7l1 1h6l1 -1h5l1 -1h5l1 -1h2l1 -1h5l1 -1h29l1 7l1 3l1 4l1 3h6l1 -8l1 -14h9l1 -1h5l1 -1l1 1h8l1 1h7l1 1h3l1 1h9l1 1h7l1 -1h4l1 -1h10l1 1h5l1 1l1 -1h3l1 -1h5l1 -1h3l1 -1h3l1 -1h2l1 1h6l1 1h10l1 1h4l1 1h3l1 -1l1 1h1l1 -1h14l1 -1h2l1 1h4l1 -1h8l1 1h5l1 1h6l1 1h6l1 1h7l1 1h27l1 1h17l1 1h6l1 -1h4l1 -1h3l1 -1h7l1 -1h26l1 1h6l1 1h7l1 1h4l1 -1h8l1 -1h17l1 -1h15l1 1h3l1 -1h2l1 2l1 6l1 2l1 2l1 1h4l1 1h2l1 1h3" stroke="#ff7f50"/>
<path d="M23 584.5h13M46 584.5h8l1 -1h6M70 584.5h19M96 586.5h2l1 -1h11l1 1h1l1 -3h45l1 -1l1 6l1 1l1 -2l1 -2l1 -4l1 -5l1 -5l1 -4l1 -5h6l1 8l1 8l1 8h5l1 -1h45l1 -1l1 1h2l1 -1h2l1 1h5l1 -2l1 -5h26l1 -1h6l1 1h7l1 -1h2l1 1h31l1 -1h14M349 577.5h4M356 580.5h6l1 -1h5l1 1h2l1 -1h22l1 -1h2l1 -10h1l1 -1h41l1 1l1 12h4l1 -1h10M480 570.5h3M509 574.5h2M517 577.5h11l1 1h1l1 -1h12l1 -1h5l1 -1h1M555 566.5h19l1 -1h17l1 -1h27l1 12l1 2l1 3l1 2h6l1 -7l1 -17h21l1 1h54l1 1h5l1 -1h67l1 -1h10l1 1h11l1 1h31l1 -1h30l1 1h54l1 1h21l1 -1h42l1 2l1 8l1 2l1 2h4l1 1h4l1 1h2" stroke="#ff6347"/>
<path d="M23 578.5h3l1 1h9M46 578.5h15M70 579.5h19M96 579.5h62l1 -6l1 -17l1 -11l1 -2l1 -2l1 -1l1 -2l1 -2l1 -1l1 -1h4l1 -1h1l1 9l1 8l1 17l1 1l1 1h1l1 1h1l1 1h6l1 1h8l1 1h10l1 1h8l1 -1h23l1 -10h8l1 1h7l1 -1h11l1 1h8l1 -1h4l1 -1h4l1 -1h16l1 -1h26M349 560.5h4M356 561.5h1l1 -1h6l1 -1h4l1 -1h3l1 -1h3l1 -1h8l1 1h2l1 1h2l1 1h1l1 -3l1 -3l1 -2l1 -3h29l1 -1h8l1 1h1l1 1h1l1 1h4l1 -1h3l1 -1h3l1 -1h4M480 540.5h3M509 539.5h2M517 539.5h1l1 1h4l1 1h4l1 7l1 7l1 7h14l1 -1h1l1 -1l1 -1l1 -4h1M555 553.5l1 1h5l1 1h11l1 -1h4l1 -1h2l1 -1h5l1 -1h8l1 -1h23l1 -1l1 3l1 4l1 3h1l1 1h4l1 -10l1 -10h8l1 -1h10l1 1h6l1 1h6l1 1h6l1 1h5l1 1h6l1 -1h4l1 -1h2l1 -1h4l1 1h3l1 1h4l1 1h4l1 -1h2l1 -1h1l1 -1h1l1 -1h2l1 -1h2l1 -1h2l1 -1h1l1 1h6l1 1h5l1 1h5l1 1h5l1 1h9l1 -1h9l1 -1h13l1 -1l1 1h4l1 1h1l1 1h5l1 1h4l1 1h4l1 1h4l1 1h7l1 1h2l1 -1h3l1 1h11l1 1h19l1 -1l1 1h7l1 -1h4l1 -1h7l1 -1h5l1 -1h4l1 1h20l1 1h5l1 1h5l1 1h2l1 -1h2l1 -1l1 1h9l1 -1h14l1 -1h18l1 1h1l1 -2h1l1 -1h1l1 3l1 7l1 2l1 2l1 1h4l1 1h3l1 1h2" stroke="#00ff00"/>
<path d="M23 578.5h13M46 578.5l1 1h14M70 578.5h19M96 577.5h16l1 1h36l1 1h8l1 -6l1 -10l1 -7l1 -5l1 -4l1 -3l1 -2l1 -2l1 -2l1 -3h6l1 8l1 9l1 16h1l1 1h1l1 1h1l1 1h8l1 1h26l1 1h15l1 1h6l1 -1l1 -6h11l1 -1h25l1 -1h7l1 -1h1l1 1l1 -1h26l1 1h5l1 -1h9M349 563.5h1l1 -1h2M356 560.5h5l1 -1h3l1 -1h4l1 -1h4l1 -1h5l1 -1h3l1 1h2l1 1h2l1 1h1l1 1l1 -3l1 -2l1 -3l1 9h8l1 -1h16l1 1h17l1 1l1 -10l1 -1h3l1 -1h3l1 -1h3l1 -1h2M480 553.5h3M509 554.5h2M517 541.5l1 1h5l1 1h3l1 1l1 7l1 7l1 6h15l1 -1h1l1 -1l1 -4h1M555 554.5h5l1 1h7l1 -1h7l1 -1h4l1 -1h3l1 -1h35l1 4l1 3l1 4h6l1 -10l1 2h24l1 1h24l1 1h1l1 -1h33l1 -1h3l1 -1h22l1 1h44l1 -1l1 1h49l1 1h10l1 -1h9l1 1h5l1 -1h1l1 1h4l1 -1h13l1 1h2l1 -1h22l1 1h12l1 1h60l1 2l1 -6l1 2l1 2l1 1h5l1 1h3l1 1h1" stroke="#cd853f"/>
<path d="M23 587.5h13M46 587.5h15M70 588.5h19M96 585.5h13l1 -1l1 1h1l1 -2h20l1 1h11l1 -1h12l1 -1l1 -2l1 -2l1 -4l1 -5l1 -3l1 -4l1 -4l1 -4l1 -4h4l1 1h1l1 9l1 8l1 8h3l1 1h1l1 1h50l1 1h7l1 -1h39l1 -1h7l1 1h2l1 -1h41M349 576.5h2l1 -1h1M356 579.5h4l1 -1h11l1 -1h22l1 -1l1 -1h17l1 -1h27l1 -3h4l1 -1h10M480 565.5l1 1h2M509 568.5l1 1h1M517 576.5h11l1 1l1 1l1 -3h13l1 1l1 -1h3l1 -1h1M555 563.5h1l1 1h3l1 -1h12l1 -1h10l1 -1h29l1 -1h1l1 1h3l1 8l1 3l1 2l1 2h6l1 -7l1 -9h10l1 1h19l1 -1h7l1 1h18l1 -1h13l1 1h10l1 -1h7l1 1h65l1 -1h10l1 1h34l1 1h25l1 1h127l1 2l1 3l1 2l1 2h3l1 1h5l1 1h2" stroke="#e9967a"/>
<path d="M23 578.5h13M46 578.5h15M70 578.5h12l1 1h6M96 580.5h16l1 -1h4l1 1h9l1 -1h6l1 -1h10l1 1h7l1 -1h4l1 -4l1 2l1 -3l1 -4l1 -4l1 -4l1 -3l1 -4l1 -3l1 -4h6l1 9l1 9l1 8h1l1 1h2l1 1h15l1 1h28l1 1h40l1 -1h12l1 1h4l1 -1h48M349 574.5h1l1 -1h2M356 566.5h1l1 -1h4l1 -1h5l1 -1h4l1 -1h2l1 -1h8l1 1h1l1 1h2l1 1h2l1 1l1 -3l1 -3l1 -3l1 -2h39l1 1h3l1 1l1 5l1 -1h6l1 -1h7M480 553.5h3M509 554.5h2M517 554.5l1 1h4l1 1h5l1 5l1 5l1 3h15l1 -1h2l1 -2h1M555 555.5h3l1 1h6l1 1h1l1 -1h5l1 -1h5l1 -1h5l1 -1h34l1 5l1 3l1 4l1 3l1 -1h5l1 -8l1 -7h9l1 1h23l1 1h4l1 -1h1l1 1h24l1 -1l1 1h5l1 -1h12l1 -1h4l1 -1h2l1 1h1l1 -1h22l1 1l1 -1h4l1 1h27l1 -1h1l1 1h17l1 1h6l1 1h3l1 -1h2l1 1h23l1 -1h5l1 1h15l1 1h14l1 -1h1l1 1h8l1 -1h6l1 1h16l1 -1h10l1 1h11l1 -1h14l1 -1h8l1 1h26l1 2h1l1 2l1 2h2l1 1h4l1 1h4" stroke="#1e90ff"/>
<path d="M23 587.5h13M46 587.5h15M70 587.5h19M96 585.5h15l1 1l1 3h46l1 2l1 1l1 -1l1 -1l1 -5l1 -5l1 -5l1 -4l1 -5h6l1 8l1 7l1 8h4l1 1h23l1 -1h17l1 -1h13l1 -1h3l1 -2l1 -4h26l1 -1h15l1 -1h4l1 1h19l1 -1h10l1 1h12M349 580.5l1 -1h3M356 580.5h5l1 -1h4l1 1h3l1 -1h18l1 -1h3l1 1l1 -1h1l1 -1l1 7h8l1 1h7l1 -1h3l1 1l1 -1h11l1 1h4l1 -1h3l1 -1h1l1 -3h6l1 -1h2l1 1h3l1 -1h1M480 568.5h3M509 571.5h2M517 584.5h11l1 1h1l1 -1h14l1 1l1 -1h4M555 576.5h2l1 -1h34l1 -1h27l1 -6l1 2l1 3l1 2h6l1 -7l1 -5h26l1 1h42l1 -1h52l1 1h4l1 -1h12l1 1h19l1 1h16l1 1h27l1 -1h5l1 1h21l1 -1h36l1 -1h15l1 1h11l1 -1h14l1 1h26l1 -1h13l1 1h1l1 2h1l1 2l1 2h3l1 1l1 1h4l1 1h2" stroke="#d2691e"/>
<path d="M23 577.5h13M46 578.5h15M70 578.5h10l1 -1h8M96 577.5h16l1 1h6l1 -1h28l1 1h9l1 -9l1 -8l1 -8l1 -4l1 -4l1 -2l1 -3l1 -2l1 -2l1 -2h6l1 8l1 9l1 8h1l1 1h2l1 1l1 1h7l1 1h6l1 1h3l1 -1h40l1 6h8l1 1h14l1 1h10l1 -1h13l1 -1h13l1 -1h8l1 -1h8l1 1h6l1 -1h3M349 566.5l1 -1h1l1 -1h1M356 555.5h1l1 -1h3l1 -1h3l1 -1h3l1 -1h2l1 -1h3l1 -1h3l1 1h6l1 1h3l1 1h2l1 -2l1 -2l1 -2l1 -2h29l1 1h9l1 1h2l1 1h1l1 3h1l1 -1h3l1 -1h3l1 -1h2l1 -1h2M480 535.5h3M509 533.5h2M517 537.5h1l1 1h3l1 1h3l1 1h1l1 7l1 8l1 7h14l1 -1h1l1 -1l1 -1l1 -4h1M555 549.5h1l1 1h7l1 1h1l1 -1h4l1 -1h3l1 -1h4l1 -1h6l1 -1h32l1 8l1 5l1 3l1 4h6l1 -9l1 -15h8l1 -1h4l1 -1h2l1 1h2l1 1h6l1 1h7l1 1h9l1 1h5l1 1l1 -1h3l1 -1h6l1 -1h3l1 1h3l1 1h4l1 1h2l1 -1h2l1 -1h2l1 -1h2l1 -1h1l1 -1h2l1 -1h2l1 -1l1 -1h1l1 1h5l1 1h5l1 1h8l1 1h5l1 1h6l1 -1h10l1 -1h13l1 -1l1 1h1l1 1h5l1 1h11l1 1h4l1 1h5l1 1h2l1 1h2l1 -1h7l1 1h11l1 -1h7l1 1h11l1 1h8l1 -1h4l1 -1h5l1 -1h2l1 -1h2l1 -1h11l1 1h18l1 1h5l1 1h3l1 1h1l1 -1h11l1 -1h23l1 -1h12l1 -1h1l1 -1l1 3l1 4l1 2l1 3h2l1 1h3l1 1h2l1 1h2" stroke="#7cfc00"/>
<path d="M23 583.5h13M46 583.5h15M70 582.5h19M96 581.5h16l1 3h43l1 1h1l1 -1l1 -9l1 -3l1 -5l1 -4l1 -4l1 -3l1 -3l1 -4l1 -3h6l1 9l1 9l1 18h6l1 -1h1l1 1h36l1 -1h18l1 -1h35l1 -1h23l1 -1h13l1 1h18M349 578.5h4M356 572.5h4l1 -1h4l1 -1h7l1 -1h15l1 1h4l1 -1l1 -2l1 -1h15l1 -1h12l1 1h11l1 1h4l1 2h2l1 -1h12M480 562.5h3M509 564.5h2M517 554.5h5l1 1h5l1 5l1 5l1 10h1l1 1h7l1 1h5l1 -1h4M555 569.5h16l1 -1h12l1 -1h5l1 -1h9l1 1h1l1 -1h5l1 1l1 -1h10l1 1l1 3l1 2l1 3h6l1 -7l1 -9h12l1 -1h3l1 1h15l1 -1h3l1 1h40l1 1l1 -1h71l1 -1h13l1 1h18l1 1h2l1 -1h12l1 1h37l1 1h4l1 -1h16l1 -1h45l1 1h8l1 -1h7l1 1h33l1 2l1 -1l1 2l1 2h3l1 1h5l1 1h2" stroke="#9370db"/>
<path d="M23 585.5h7l1 -1h5M46 584.5h15M70 584.5h19M96 584.5h15l1 1h47l1 -7l1 -2l1 -4l1 -4l1 -3l1 -4l1 -4l1 -4l1 -3h6l1 8l1 9l1 15h58l1 -1h5l1 -1l1 -2h3l1 -1h3l1 1h1l1 -1h18l1 -1h8l1 1h46l1 -1h6M349 575.5h2l1 -1h1M356 576.5h13l1 -1h1l1 1h1l1 -1h14l1 1h5l1 -1l1 -1h1l1 -5l1 -1h37l1 1h5l1 4h15M480 569.5h3M509 572.5h2M517 566.5h6l1 1h2l1 -1h1l1 3l1 3l1 2h15l1 -1h2l1 -1h1M555 568.5h16l1 -1h15l1 -1h12l1 -1h19l1 4l1 2l1 2l1 3h6l1 -7l1 -8h95l1 1h2l1 -1h41l1 1h19l1 1h19l1 1h30l1 -1h14l1 1h14l1 -1h18l1 1h5l1 -1h6l1 1h5l1 -1h76l1 2l1 2l1 2l1 2h1l1 1l1 -1l1 1h4l1 1h3" stroke="#d2691e"/>
<path d="M23 584.5h13M46 584.5h1l1 -1h13M70 584.5h10l1 -1h8M96 582.5h16l1 -1h41l1 -1h3l1 -4h1l1 -3l1 -4l1 -4l1 -4l1 -4l1 -3l1 -4l1 -3h6l1 9l1 9l1 3l1 1l1 1h1l1 1h1l1 1h10l1 1h24l1 1h7l1 -1h40l1 1h19l1 -1h40l1 -1h5M349 570.5h1l1 -1h2M356 572.5h5l1 -1h5l1 -1h4l1 -1h15l1 1h1l1 1h3l1 -2l1 -1l1 -2l1 -6h31l1 1h11l1 1l1 5h2l1 -1h8l1 -1h3M480 550.5h3M509 551.5h2M517 550.5h1l1 1h5l1 1h3l1 6l1 5l1 10h15l1 -1h2l1 -1h1M555 559.5h10l1 1l1 -1h6l1 -1h6l1 -1h5l1 -1h33l1 9l1 3l1 2l1 3h6l1 -8l1 -13h27l1 1h45l1 1h5l1 -1h12l1 -1h17l1 1h33l1 -1h19l1 1h2l1 -1h2l1 1h20l1 1h3l1 -1h6l1 1h27l1 1h15l1 -1h10l1 -1h29l1 1h9l1 1h10l1 -1h18l1 -1h28l1 2l1 8l1 2l1 2h1l1 1h6l1 1h3" stroke="#ff7f50"/>
<path d="M23 587.5h13M46 587.5h15M70 587.5h4l1 -1h14M96 583.5h15l1 1l1 3h9l1 -1h35l1 -1l1 3h1l1 -1l1 -2l1 -5l1 -5l1 -4l1 -5l1 -4h6l1 8l1 8l1 4h1l1 -1h34l1 -1h27l1 -1h15l1 1h2l1 -1h27l1 -1h45M349 578.5h4M356 576.5l1 1h3l1 -1h30l1 1h2l1 -1l1 -1l1 -1l1 -5h38l1 1h5l1 12h5l1 -1h9M480 573.5h3M509 575.5h2M517 568.5h11l1 3l1 2l1 2h5l1 1h11l1 -1h2M555 575.5h13l1 -1h13l1 -1h37l1 -2l1 2l1 2l1 2h6l1 -7l1 -5h22l1 -1h18l1 1h3l1 -1h17l1 1h20l1 -1h57l1 1h42l1 1h10l1 -1h10l1 1h4l1 -1h14l1 1h66l1 -1h27l1 1h5l1 -1h18l1 1h8l1 2l1 6l1 2l1 1h1l1 1h1l1 1h5l1 1h2" stroke="#cd5c5c"/>
<path d="M23 585.5h3l1 -1h9M46 585.5h15M70 585.5h11l1 1h7M96 586.5h16l1 1h45l1 -1l1 -1l1 -1l1 -4l1 -3l1 -4l1 -4l1 -4l1 -5l1 -4h6l1 9l1 9l1 3h3l1 1h25l1 -1h24l1 1h7l1 -1h2l1 1h9l1 1h8l1 -1h44l1 -1h14l1 1h12M349 578.5l1 -1h3M356 576.5h2l1 -1h18l1 -1h3l1 1h10l1 1h1l1 -1l1 -1l1 -2l1 -1h44l1 7h2l1 -1h12M480 571.5h3M509 572.5h2M517 568.5h8l1 1h2l1 2l1 3l1 4h20M555 562.5h2l1 -1h4l1 1h14l1 -1h7l1 -1h32l1 -1h1l1 5l1 3l1 3l1 2h6l1 -7l1 -1h118l1 -1h19l1 1h4l1 -1h34l1 1h1l1 -1l1 1h81l1 -1h19l1 1h7l1 -1h64l1 2l1 3l1 2l1 2h2l1 1h5l1 1h3" stroke="#8b4513"/>
<path d="M23 581.5h13M46 581.5h8l1 -1h6M70 580.5h1l1 1h17M96 581.5h40l1 -1h21l1 -4l1 -5l1 -5l1 -4l1 -5l1 -3l1 -3l1 -4l1 -3l1 -3h6l1 9l1 8l1 16l1 1h1l1 1h6l1 1h26l1 1h28l1 -2h2l1 -1h35l1 1l1 -1h34l1 -1h16M349 571.5h2l1 -1h1M356 567.5h5l1 -1h5l1 -1h9l1 -1h7l1 1h4l1 1h3l1 -2l1 -3l1 -2l1 -2h14l1 1h25l1 1h2l1 1l1 3h3l1 -1h9l1 -1h1M480 554.5h3M509 555.5h2M517 549.5h1l1 1h5l1 1h3l1 6l1 5l1 9h14l1 -1h1l1 -1h1l1 -1h1M555 560.5h17l1 -1h7l1 -1h14l1 -1h13l1 1h5l1 -1h4l1 1l1 3l1 3l1 3h6l1 -8l1 -4l1 1h8l1 -1h12l1 1h17l1 1h18l1 -1h13l1 1h20l1 -1h20l1 1h20l1 -1h9l1 1h16l1 -1h7l1 1h15l1 1h12l1 1h10l1 -1h33l1 -1h41l1 1h44l1 -1h8l1 1h2l1 -1h11l1 2l1 -4l1 2l1 2h2l1 1h5l1 1l1 1h2" stroke="#00ff00"/>
<path d="M23 581.5h5l1 -1h7M46 581.5h15M70 581.5h19M96 584.5h12l1 -1h3l1 -2h26l1 -1h9l1 1h8l1 -4l1 -3l1 -3l1 -5l1 -4l1 -4l1 -3l1 -3l1 -4l1 -3h6l1 9l1 9l1 6l1 1h1l1 1h1l1 1l1 1h6l1 1h9l1 1h42l1 2h24l1 -1h15l1 1h3l1 -1h17l1 -1h8l1 1h19M349 574.5h1l1 -1h2M356 573.5h1l1 -1h7l1 -1h9l1 -1h11l1 1h2l1 1h3l1 -2l1 -1l1 -2l1 -1l1 -1h14l1 1h9l1 -1h2l1 1h15l1 -5h4l1 -1h4l1 -1h5M480 551.5h3M509 553.5h2M517 555.5h3l1 1h4l1 1h2l1 5l1 4l1 7h15l1 -1h2l1 -1h1M555 561.5h2l1 1h7l1 1l1 -1h7l1 -1h8l1 -1h26l1 -1h9l1 -3l1 3l1 3l1 4h6l1 -9l1 -3h18l1 -1h3l1 1h40l1 -1l1 1h19l1 -1h16l1 1h16l1 -1h37l1 1l1 -1l1 1h16l1 1h9l1 1h4l1 -1h22l1 1h85l1 1h6l1 -1h49l1 2l1 1l1 2l1 2l1 1h5l1 1h5" stroke="#dda0dd"/>
<path d="M23 583.5h13M46 582.5l1 1h14M70 584.5h19M96 585.5h8l1 -1h5l1 1h1l1 2h4l1 -1h9l1 1h30l1 -1l1 3h1l1 -2l1 -2l1 -4l1 -5l1 -4l1 -5l1 -5h6l1 9l1 8h3l1 1l1 -1h14l1 1h46l1 1h22l1 -1h68M349 580.5h2l1 -1h1M356 577.5h2l1 -1h9l1 -1h18l1 -1l1 1h5l1 -1l1 -1l1 -1l1 -4h1l1 1h1l1 -1h28l1 1h11l1 1h4l1 -1h2l1 1h2l1 -1h4M480 571.5h3M509 573.5h2M517 572.5h1l1 -1h2l1 1h6l1 1l1 2l1 9h20M555 573.5h65l1 1l1 3l1 2l1 3h6l1 -7l1 -17h32l1 1h27l1 -1h7l1 1h52l1 1h28l1 -1h30l1 1l1 -1h4l1 1h66l1 -1h37l1 1h63l1 2l1 7l1 2l1 2h2l1 1h3l1 1h5" stroke="#dda0dd"/>
<path d="M23 582.5h4l1 1h8M46 583.5h15M70 583.5h13l1 -1h5M96 583.5h14l1 1h1l1 2h8l1 -1h11l1 1h24l1 -2l1 -2l1 -3l1 -3l1 -4l1 -4l1 -4l1 -4l1 -4l1 -4h6l1 9l1 9l1 1h1l1 1h1l1 1h1l1 1h10l1 1h43l1 1h4l1 2h28l1 -1h17l1 -1h44M349 575.5h4M356 576.5h10l1 -1h5l1 -1h15l1 1h4l1 1l1 -1l1 -1l1 -1l1 -14h35l1 1h4l1 1l1 -1h1l1 1l1 10h2l1 -1h12M480 565.5h3M509 566.5h2M517 552.5h3l1 1h6l1 1l1 4l1 5l1 9h14l1 -1h2l1 -1h2M555 566.5h8l1 1h2l1 -1h12l1 -1h18l1 -1h21l1 1l1 3l1 2l1 3h1l1 1h4l1 -7l1 -14h10l1 1h18l1 1h4l1 -1h3l1 1h15l1 -1h3l1 -1h37l1 -1h2l1 1h4l1 -1h10l1 1h24l1 -1h3l1 1h2l1 -1h12l1 1h8l1 1h8l1 1l1 -1h2l1 1h7l1 -1h3l1 1h9l1 -1h9l1 1h8l1 -1h96l1 1h29l1 -1h5l1 2l1 1l1 2l1 2h2l1 1h5l1 1h3" stroke="#1e90ff"/>
<path d="M23 585.5h13M46 586.5l1 -1h14M70 586.5h19M96 589.5h5l1 -1h8l1 1h1l1 1h45l1 1l1 -6l1 -1l1 -3l1 -3l1 -4l1 -5l1 -5l1 -4l1 -4h6l1 9l1 9l1 14h2l1 -1h3l1 1h3l1 -1h9l1 1h9l1 -1h7l1 -1h22l1 -1h1l1 1l1 -1l1 -2h19l1 -1h10l1 -1h3l1 1h1l1 -1h4l1 1h19l1 -1h15l1 1h5l1 1h7M349 583.5h4M356 578.5h3l1 -1h7l1 -1h22l1 1h1l1 -1h1l1 -1l1 -1h1l1 3h18l1 1h14l1 -1h7l1 1h2l1 5h5l1 -1h5l1 -1h3M480 576.5h3M509 579.5h2M517 586.5h4l1 -1h6l1 1h4l1 1h1l1 -1h7l1 1h1l1 -1h5M555 575.5h6l1 -1h58l1 -2l1 3l1 2l1 2h6l1 -7l1 -6h79l1 1h17l1 -1h19l1 1h35l1 1h17l1 -1l1 1h18l1 1h13l1 -1h20l1 -1h129l1 1l1 6l1 2l1 1h1l1 1h4l1 1h5" stroke="#bc8f8f"/>
<path d="M23 583.5h13M46 583.5h15M70 583.5h2l1 1h16M96 586.5h5l1 -1h8l1 1h1l1 -1h19l1 1h25l1 -2l1 6l1 1l1 -1l1 -1l1 -4l1 -5l1 -5l1 -5l1 -5h6l1 8l1 8h25l1 -1h39l1 -1h7l1 1h7l1 -1h6l1 1h5l1 -1h6l1 -1h51l1 1h4M349 579.5h4M356 584.5h1l1 -1h7l1 -1h1l1 1h3l1 -1h23l1 1h1l1 -8h30l1 -1h1l1 1h3l1 -1h12l1 -1h2l1 1h4l1 -1h2M480 570.5h3M509 571.5h2M517 584.5h11l1 1h1l1 1h11l1 1h2l1 -1h5M555 568.5h16l1 -1h11l1 -1h29l1 -1h6l1 1l1 2l1 3l1 2h6l1 -7l1 -6h12l1 1h5l1 -1h6l1 1h13l1 -1h9l1 1h5l1 -1h11l1 1h15l1 -1h9l1 1h7l1 1h12l1 -1h7l1 1h5l1 -1h7l1 -1h17l1 -1h3l1 1h11l1 1h6l1 -1h4l1 1h22l1 1l1 -1h86l1 1h1l1 -1h42l1 1h4l1 1h9l1 -1h2l1 2l1 4l1 2l1 2l1 1h5l1 1h5" stroke="#bc8f8f"/>
<path d="M23 581.5h2l1 -1h8l1 1h1M46 580.5h15M70 580.5h19M96 582.5h62l1 -3l1 -3l1 -2l1 -4l1 -5l1 -3l1 -4l1 -3l1 -4l1 -4h6l1 9l1 9l1 5h1l1 1l1 1h2l1 1h11l1 1h47l1 1h47l1 -1h2l1 1h40M349 573.5h2l1 -1h1M356 566.5h1l1 -1h2l1 1l1 -1h2l1 -1h4l1 -1h5l1 -1h4l1 1h6l1 1h3l1 1h2l1 -2l1 -3l1 -3h41l1 1h3l1 10h6l1 -1h2l1 1h5M480 555.5h3M509 556.5h2M517 548.5h8l1 1h2l1 6l1 6l1 10h14l1 -1h1l1 -1h1l1 -1h1M555 557.5h16l1 -1h6l1 -1l1 1h2l1 -1h5l1 -1h4l1 1h12l1 -1h13l1 7l1 3l1 3l1 3l1 1h5l1 -8l1 -6h8l1 -1h8l1 1h11l1 1h7l1 -1h5l1 1h28l1 -1h40l1 1h49l1 -1h5l1 1h14l1 1h3l1 -1h14l1 1h54l1 -1h16l1 1h22l1 1h8l1 -1h42l1 -1h5l1 2l1 2l1 2l1 2h2l1 1h4l1 1h4" stroke="#cd853f"/>
<path d="M23 582.5h13M46 583.5h15M70 583.5h7l1 -1h11M96 582.5h14l1 1h11l1 1h31l1 -1h2l1 1l1 -3h1l1 -2l1 -3l1 -4l1 -4l1 -4l1 -4l1 -4l1 -4h6l1 9l1 9l1 11h27l1 -1h37l1 -4h7l1 1h21l1 -1h13l1 -1h26l1 -1h12l1 1h5l1 -1h1M349 573.5h2l1 -1h1M356 571.5h4l1 -1h9l1 -1h8l1 -1h6l1 1h4l1 1h2l1 -2l1 -2l1 -1l1 -2h2l1 1h39l1 1h1l1 2h3l1 -1h8l1 -1h2M480 553.5h3M509 553.5h2M517 570.5h9l1 1h1l1 2l1 2l1 -4h14l1 -1h2l1 -1l1 -1h1M555 564.5l1 -1h7l1 1h2l1 -1h9l1 -1h9l1 -1h6l1 1h15l1 -1h2l1 1h7l1 1l1 3l1 2l1 3h6l1 -8l1 -10h12l1 1h17l1 1h1l1 -1h6l1 1h12l1 -1h7l1 -1h9l1 1h4l1 1h3l1 -1h48l1 1h5l1 -1h19l1 -1h7l1 1h5l1 1h18l1 1h21l1 -1h4l1 1h34l1 -1h8l1 -1h15l1 1h38l1 -1h42l1 2l1 7l1 2l1 2h2l1 1h4l1 1l1 -1l1 1h2" stroke="#1e90ff"/>
<path d="M23 581.5h13M46 581.5h15M70 581.5h19M96 581.5h14l1 1h1l1 -1h22l1 1h9l1 -1h7l1 1h2l1 -1h1l1 -3l1 -8l1 -4l1 -5l1 -5l1 -3l1 -3l1 -3l1 -3l1 -4h3l1 1h2l1 8l1 9l1 17h2l1 1h5l1 1h25l1 1h30l1 -1h17l1 -1h59l1 -1h13M349 573.5h1l1 -1h2M356 572.5h6l1 -1h7l1 -1h3l1 -1h11l1 1h7l1 -1l1 -3l1 -2l1 -9h20l1 1h19l1 1h3l1 4h5l1 -1h6l1 -1h2M480 544.5h3M509 543.5h2M517 556.5h5l1 1h5l1 4l1 5l1 3h16l1 -1h1l1 -1h1M555 557.5h7l1 1h4l1 -1h9l1 -1h1l1 1l1 -1h6l1 -1h2l1 -1h10l1 1h14l1 -1h3l1 3l1 3l1 4l1 3h6l1 -8l1 -6h10l1 1h6l1 -1h1l1 1h23l1 1l1 -1h3l1 1h3l1 -1h21l1 1h5l1 -1h1l1 1h8l1 -1h14l1 1h11l1 -1h50l1 1h20l1 1h31l1 -1h6l1 1h68l1 1h8l1 -1h48l1 2l1 4l1 2l1 2h3l1 1h6l1 1h1" stroke="#cd853f"/>
<path d="M23 587.5h13M46 588.5h2l1 1h12M70 589.5h19M96 586.5h15l1 1h11l1 -1h26l1 1h3l1 -1h3l1 -1l1 5l1 1l1 -1l1 -1l1 -5l1 -5l1 -4l1 -5l1 -5h5l1 1l1 7l1 8l1 2h14l1 -1h14l1 -1h25l1 1h2l1 -1h6l1 2h1l1 -1h52l1 -1h8l1 1h6l1 -1h13l1 1h6M349 582.5h4M356 581.5h3l1 -1h20l1 -1h16l1 2h22l1 1h19l1 -1h1l1 2h7l1 -1h7M480 570.5h3M509 572.5h2M517 584.5h12l1 1h8l1 1h7l1 -1h4M555 574.5h30l1 1h12l1 -1h21l1 -3l1 2l1 2l1 2h5l1 1l1 -7l1 2h34l1 1h4l1 -1h29l1 -1h25l1 1h12l1 1h3l1 -1h60l1 -1h97l1 1h84l1 2l1 1l1 1l1 1l1 1h1l1 -1l1 1h3l1 1h4" stroke="#87cefa"/>
<path d="M23 585.5h13M46 585.5h15M70 585.5h2l1 -1h3l1 1h12M96 585.5l1 -1h13l1 1h1l1 3h13l1 1h19l1 1h5l1 -1h5l1 1l1 1l1 1l1 -1l1 -1l1 -5l1 -5l1 -5l1 -5l1 -4h6l1 7l1 8l1 8h3l1 1h19l1 -1h11l1 -1h28l1 -2l1 -4h3l1 -1h17l1 -1h20l1 -1h48M349 580.5h4M356 579.5h5l1 -1h12l1 -1h20l1 -1h1l1 -4h11l1 -1h28l1 1h3l1 6h15M480 575.5h3M509 577.5h2M517 573.5h1l1 1h9l1 2l1 1l1 2h5l1 1h11l1 -1h2M555 575.5h2l1 1h12l1 -1h36l1 1h12l1 -7l1 3l1 2l1 2h6l1 -7l1 -6h39l1 1h12l1 -1h20l1 1h8l1 -1h82l1 1h41l1 1h10l1 -1h72l1 1h9l1 -1h31l1 -1h22l1 2h1l1 2l1 2l1 1h5l1 1h5" stroke="#cd5c5c"/>
<path d="M23 580.5h13M46 580.5h2l1 1h12M70 580.5h3l1 -1h15M96 580.5h16l1 2h1l1 -1h17l1 1h25l1 -3l1 -3l1 -4l1 -5l1 -4l1 -3l1 -4l1 -3l1 -4l1 -3h6l1 8l1 9l1 10h3l1 1h4l1 1h14l1 1h17l1 -1h6l1 1h16l1 -1h60l1 -1h9l1 -1h20M349 572.5l1 -1h3M356 570.5h5l1 -1l1 -1h11l1 -1h10l1 1h3l1 1h4l1 -1l1 -2l1 -3l1 7h13l1 -1h25l1 1h4l1 -3h1l1 -1h9l1 -1h3M480 553.5h3M509 555.5h2M517 567.5h11l1 3l1 3l1 2h18l1 -1h1M555 559.5h2l1 1h12l1 -1h6l1 -1h6l1 -1h20l1 -1h14l1 4l1 3l1 3l1 3h6l1 -8l1 -9h24l1 1h1l1 -1h7l1 1h17l1 1h7l1 -1h13l1 1h17l1 -1h17l1 1h34l1 -1h18l1 1h4l1 -1h5l1 1h14l1 1h8l1 -1h7l1 1h7l1 -1h11l1 1h27l1 -1h45l1 1h2l1 -1h13l1 -1h37l1 2l1 9l1 2l1 2h4l1 1h2l1 1h4" stroke="#00008b"/>
<path d="M113 577.5L158 577.5L161 545.5L163 541.5L168 533.5L174 533.5L177 558.5L183 560.5L200 562.5L241 562.5L243 562.5L280 561.5L294 557.5L333 556.5" stroke="#000"/>
<path d="M356 556.5L378 550.5L385 551.5L394 553.5L398 545.5L436 545.5L443 548.5L458 544.5" stroke="#000"/>
<path d="M517 538.5L528 541.5L531 563.5L545 563.5L549 560.5L551 551.5" stroke="#000"/>
<path d="M555 550.5L566 551.5L589 546.5L620 546.5L624 560.5L630 560.5L632 541.5L648 540.5L683 545.5L696 542.5L710 545.5L729 538.5L760 543.5L790 540.5L823 546.5L873 548.5L895 544.5L917 544.5L935 547.5L953 545.5L984 545.5L988 543.5L992 554.5L1003 557.5" stroke="#000"/>
<path d="M23 565.5L25 567.5L29 569.5L33 567.5L35 567.5" stroke="#000"/>
<path d="M23 564.5L35 565.5" stroke="#d2691e"/>
<path d="M23 575.5L35 575.5" stroke="#dc143c"/>
<path d="M46 565.5L48 567.5L53 569.5L58 567.5L60 567.5" stroke="#000"/>
<path d="M46 564.5L60 565.5" stroke="#d2691e"/>
<path d="M46 575.5L60 575.5" stroke="#dc143c"/>
<path d="M70 565.5L72 567.5L79 569.5L86 567.5L88 567.5" stroke="#000"/>
<path d="M70 564.5L88 565.5" stroke="#d2691e"/>
<path d="M70 575.5L88 575.5" stroke="#dc143c"/>
<path d="M96 567.5L104 568.5L108 565.5L110 562.5L112 563.5L113 577.5" stroke="#000"/>
<path d="M23 590.5L27 589.5L31 591.5L36 590.5" stroke="#d2691e"/>
<path d="M23 593.5L36 593.5" stroke="#8b4c4c"/>
<path d="M46 590.5L50 589.5L54 591.5L61 590.5" stroke="#d2691e"/>
<path d="M46 593.5L61 593.5" stroke="#8b4c4c"/>
<path d="M70 590.5L74 589.5L78 591.5L89 590.5" stroke="#d2691e"/>
<path d="M70 593.5L89 593.5" stroke="#8b4c4c"/>
<path d="M96 590.5L104 589.5L113 588.5L125 590.5L140 589.5L159 590.5" stroke="#d2691e"/>
<path d="M96 593.5L104 592.5L113 591.5L125 592.5L140 593.5L159 593.5L160 590.5" stroke="#8b4c4c"/>
<path d="M96 565.5L108 564.5L110 562.5L112 563.5" stroke="#d2691e"/>
<path d="M96 577.5L100 577.5L105 570.5L110 563.5L112 564.5L113 577.5" stroke="#dc143c"/>
<path d="M631 573.5L700 573.5L800 573.5L900 572.5L988 572.5L992 578.5L1003 580.5" stroke="#87cefa"/>
<path d="M356 580.5L400 580.5L440 579.5L445 566.5L450 562.5L454 566.5L458 580.5" stroke="#87cefa"/>
<rect x="23" y="555" width="13" height="1" fill="#000" stroke="none"/>
<rect x="46" y="555" width="15" height="1" fill="#000" stroke="none"/>
<rect x="70" y="555" width="19" height="1" fill="#000" stroke="none"/>
<rect x="96" y="555" width="238" height="1" fill="#000" stroke="none"/>
<rect x="349" y="555" width="4" height="1" fill="#000" stroke="none"/>
<rect x="356" y="555" width="102" height="1" fill="#000" stroke="none"/>
<rect x="480" y="555" width="3" height="1" fill="#000" stroke="none"/>
<rect x="509" y="555" width="2" height="1" fill="#000" stroke="none"/>
<rect x="517" y="555" width="34" height="1" fill="#000" stroke="none"/>
<rect x="555" y="555" width="449" height="1" fill="#000" stroke="none"/>
<rect x="23" y="562" width="13" height="1" fill="#000" stroke="none"/>
<rect x="46" y="562" width="15" height="1" fill="#000" stroke="none"/>
<rect x="70" y="562" width="19" height="1" fill="#000" stroke="none"/>
<rect x="96" y="562" width="238" height="1" fill="#000" stroke="none"/>
<rect x="349" y="562" width="4" height="1" fill="#000" stroke="none"/>
<rect x="356" y="562" width="102" height="1" fill="#000" stroke="none"/>
<rect x="480" y="562" width="3" height="1" fill="#000" stroke="none"/>
<rect x="509" y="562" width="2" height="1" fill="#000" stroke="none"/>
<rect x="517" y="562" width="34" height="1" fill="#000" stroke="none"/>
<rect x="555" y="562" width="449" height="1" fill="#000" stroke="none"/>
<rect x="23" y="577" width="13" height="1" fill="#000" stroke="none"/>
<rect x="46" y="577" width="15" height="1" fill="#000" stroke="none"/>
<rect x="70" y="577" width="19" height="1" fill="#000" stroke="none"/>
<rect x="96" y="577" width="238" height="1" fill="#000" stroke="none"/>
<rect x="349" y="577" width="4" height="1" fill="#000" stroke="none"/>
<rect x="356" y="577" width="102" height="1" fill="#000" stroke="none"/>
<rect x="480" y="577" width="3" height="1" fill="#000" stroke="none"/>
<rect x="509" y="577" width="2" height="1" fill="#000" stroke="none"/>
<rect x="517" y="577" width="34" height="1" fill="#000" stroke="none"/>
<rect x="555" y="577" width="449" height="1" fill="#000" stroke="none"/>
</g>
</svg>
</body></html>
